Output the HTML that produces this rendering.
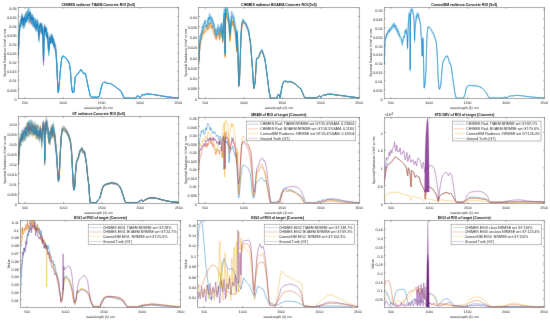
<!DOCTYPE html>
<html><head><meta charset="utf-8"><style>
html,body{margin:0;padding:0;background:#fff;}
svg{display:block;}
text{font-family:"Liberation Sans",sans-serif;fill:#000;}
.lg{fill:#222;}
.tk{text-rendering:geometricPrecision;fill:#111;}
</style></head><body>
<svg xmlns="http://www.w3.org/2000/svg" width="550" height="321" viewBox="0 0 550 321">
<defs><filter id="bl" x="0" y="0" width="1" height="1" color-interpolation-filters="sRGB"><feConvolveMatrix order="3" kernelMatrix="0 1 0 1 12 1 0 1 0" divisor="16.0" edgeMode="duplicate"/></filter></defs>
<rect width="550" height="321" fill="#fff"/>
<g filter="url(#bl)">
<rect width="550" height="321" fill="#fff"/>
<clipPath id="cp1"><rect x="18.2" y="7.5" width="160.20000000000002" height="90.9"/></clipPath>
<g clip-path="url(#cp1)" fill="none" stroke-linejoin="round">
<polyline points="18.30,58.50 18.80,38.90 19.30,29.50 20.00,29.30 20.50,24.10 21.00,21.90 21.50,19.00 22.00,16.70 22.50,25.00 23.00,26.20 23.50,18.40 24.00,24.10 24.40,19.00 24.80,26.00 25.30,20.10 25.80,15.90 26.40,20.40 27.00,10.80 27.40,10.80 27.90,20.70 28.30,20.30 28.90,15.30 29.50,11.90 30.00,18.60 30.50,20.60 31.00,19.00 31.50,24.40 32.00,23.20 32.50,21.90 32.90,21.60 33.40,24.90 33.80,25.30 34.40,26.40 35.00,24.70 35.40,27.30 35.90,30.90 36.30,23.20 36.80,25.40 37.30,23.80 38.00,29.50 38.50,27.30 38.90,34.70 39.60,32.00 40.00,29.40 40.50,24.90 41.00,25.80 41.50,24.30 42.00,30.20 42.60,26.90 43.10,40.40 43.50,64.10 43.90,41.00 44.40,25.30 44.90,26.40 45.30,30.50 45.80,30.50 46.20,36.50 46.70,36.10 47.30,32.60 47.80,37.70 48.20,47.70 48.70,53.10 49.20,45.10 49.80,38.30 50.30,40.60 50.90,39.80 51.50,39.00 52.00,36.40 52.50,39.60 52.90,41.70 53.40,41.80 53.80,46.80 54.30,47.90 54.80,44.30 55.30,43.90 55.80,48.30 56.50,59.80 57.20,74.00 57.80,88.30" stroke="#A2142F" stroke-width="0.35" opacity="0.7"/>
<polyline points="18.30,52.70 18.80,38.70 19.30,30.60 20.00,21.90 20.50,25.80 21.00,20.00 21.50,14.40 22.00,17.80 22.50,19.70 23.00,22.30 23.50,20.40 24.00,17.20 24.40,26.10 24.80,16.00 25.30,14.60 25.80,12.80 26.40,13.20 27.00,11.10 27.40,14.10 27.90,13.10 28.30,14.20 28.90,19.80 29.50,11.40 30.00,15.10 30.50,19.60 31.00,16.80 31.50,17.90 32.00,20.50 32.50,21.70 32.90,20.00 33.40,19.40 33.80,19.90 34.40,22.60 35.00,28.20 35.40,26.80 35.90,28.20 36.30,24.70 36.80,21.10 37.30,21.00 38.00,22.00 38.50,28.00 38.90,39.10 39.60,23.60 40.00,24.80 40.50,30.40 41.00,31.80 41.50,32.50 42.00,25.80 42.60,31.50 43.10,44.10 43.50,61.90 43.90,42.10 44.40,32.40 44.90,32.20 45.30,29.30 45.80,33.50 46.20,33.20 46.70,30.70 47.30,34.70 47.80,37.50 48.20,44.50 48.70,55.80 49.20,46.60 49.80,39.60 50.30,41.30 50.90,41.70 51.50,34.70 52.00,37.80 52.50,41.40 52.90,39.00 53.40,38.30 53.80,46.00 54.30,47.30 54.80,47.80 55.30,45.00 55.80,50.60 56.50,57.40 57.20,71.70 57.80,88.10" stroke="#77AC30" stroke-width="0.35" opacity="0.7"/>
<polyline points="18.30,58.90 18.80,39.00 19.30,30.60 20.00,28.00 20.50,28.60 21.00,21.30 21.50,23.40 22.00,20.70 22.50,24.00 23.00,21.00 23.50,28.50 24.00,27.10 24.40,18.30 24.80,17.80 25.30,23.30 25.80,16.00 26.40,21.20 27.00,12.50 27.40,14.40 27.90,17.80 28.30,19.30 28.90,23.40 29.50,14.20 30.00,24.30 30.50,15.20 31.00,14.40 31.50,19.80 32.00,25.40 32.50,18.70 32.90,17.90 33.40,21.30 33.80,23.80 34.40,26.20 35.00,27.50 35.40,29.70 35.90,25.60 36.30,28.90 36.80,30.70 37.30,30.90 38.00,26.00 38.50,35.40 38.90,39.10 39.60,31.40 40.00,25.40 40.50,24.60 41.00,34.30 41.50,33.10 42.00,32.50 42.60,26.70 43.10,40.60 43.50,64.60 43.90,45.30 44.40,28.80 44.90,27.90 45.30,27.80 45.80,34.20 46.20,29.80 46.70,33.30 47.30,36.70 47.80,33.90 48.20,48.30 48.70,52.90 49.20,50.80 49.80,43.80 50.30,37.30 50.90,43.00 51.50,38.10 52.00,39.20 52.50,38.10 52.90,43.10 53.40,44.20 53.80,45.90 54.30,42.60 54.80,46.20 55.30,45.10 55.80,47.20 56.50,62.10 57.20,73.10 57.80,89.10" stroke="#D95319" stroke-width="0.35" opacity="0.7"/>
<polyline points="18.30,58.90 18.80,44.90 19.30,28.20 20.00,23.40 20.50,20.10 21.00,22.80 21.50,19.00 22.00,16.30 22.50,21.40 23.00,19.70 23.50,24.80 24.00,27.50 24.40,24.00 24.80,15.60 25.30,18.30 25.80,13.20 26.40,17.30 27.00,18.30 27.40,11.70 27.90,10.70 28.30,20.10 28.90,13.30 29.50,21.40 30.00,21.30 30.50,12.40 31.00,23.00 31.50,21.50 32.00,14.20 32.50,21.70 32.90,25.40 33.40,25.20 33.80,24.80 34.40,20.30 35.00,28.20 35.40,20.40 35.90,26.80 36.30,21.50 36.80,21.30 37.30,27.10 38.00,28.40 38.50,31.90 38.90,41.10 39.60,26.30 40.00,32.00 40.50,31.90 41.00,22.70 41.50,30.40 42.00,28.10 42.60,30.30 43.10,43.00 43.50,65.10 43.90,38.10 44.40,24.10 44.90,24.90 45.30,34.10 45.80,33.70 46.20,30.60 46.70,28.90 47.30,34.60 47.80,34.90 48.20,43.60 48.70,54.70 49.20,46.00 49.80,41.10 50.30,41.40 50.90,42.60 51.50,40.70 52.00,34.40 52.50,40.00 52.90,39.20 53.40,40.30 53.80,39.30 54.30,44.90 54.80,47.10 55.30,48.40 55.80,50.00 56.50,57.00 57.20,71.20 57.80,88.50" stroke="#A2142F" stroke-width="0.35" opacity="0.7"/>
<polyline points="18.30,56.00 18.80,39.60 19.30,29.20 20.00,23.50 20.50,24.50 21.00,24.30 21.50,21.10 22.00,22.30 22.50,17.40 23.00,23.30 23.50,24.40 24.00,19.50 24.40,21.80 24.80,14.70 25.30,17.10 25.80,11.80 26.40,18.80 27.00,13.50 27.40,9.50 27.90,17.60 28.30,6.60 28.90,17.10 29.50,11.30 30.00,9.00 30.50,11.00 31.00,17.70 31.50,21.00 32.00,17.50 32.50,14.10 32.90,21.50 33.40,15.30 33.80,23.90 34.40,16.60 35.00,27.00 35.40,24.80 35.90,19.40 36.30,21.40 36.80,19.50 37.30,19.40 38.00,21.40 38.50,28.20 38.90,38.80 39.60,26.70 40.00,29.00 40.50,22.80 41.00,24.00 41.50,29.00 42.00,31.60 42.60,23.40 43.10,37.50 43.50,61.70 43.90,39.70 44.40,23.50 44.90,28.20 45.30,29.50 45.80,30.80 46.20,32.30 46.70,36.10 47.30,32.00 47.80,35.70 48.20,43.00 48.70,54.80 49.20,46.10 49.80,41.10 50.30,40.90 50.90,39.60 51.50,34.40 52.00,37.90 52.50,38.80 52.90,38.10 53.40,42.20 53.80,45.30 54.30,42.50 54.80,44.30 55.30,44.70 55.80,47.80 56.50,56.90 57.20,71.10 57.80,88.40 58.30,92.50 59.00,88.00 59.40,82.60 59.80,76.30 60.30,70.20 60.80,65.00 61.80,57.10 62.70,55.80 64.00,56.40 65.00,57.50 66.00,58.10 67.00,59.30 68.00,60.60 68.80,62.80 69.50,64.20 70.50,71.20 71.20,82.00 72.00,89.90 72.80,92.90 74.00,91.50 75.20,76.80 76.00,75.80 76.80,74.90 77.90,73.40 79.00,72.00 80.00,70.60 81.00,69.30 82.30,71.50 83.00,72.70 83.80,74.00 85.20,72.90 86.50,78.20 87.80,85.00 89.20,90.90 90.00,95.00 90.80,96.20 91.50,97.50 92.20,97.40 93.00,97.20 93.90,97.20 94.90,97.20 95.80,97.20 96.80,97.20 97.70,97.20 98.50,96.80 99.30,96.50 100.10,92.80 100.90,88.90 101.70,86.10 102.50,83.40 103.30,82.60 104.10,81.80 105.20,82.30 106.40,82.80 107.60,83.20 108.80,83.40 109.60,83.40 110.40,83.50 111.60,84.20 112.80,85.00 114.00,85.70 115.20,86.50 116.20,87.40 117.30,88.10 118.30,89.00 119.50,89.80 120.70,90.60 121.50,92.10 122.30,93.70 123.10,95.70 123.90,97.70 124.60,98.20 125.60,98.20 126.60,98.20 127.60,98.20 128.60,98.20 129.60,98.20 130.70,98.20 131.70,98.20 132.70,98.20 133.70,98.20 134.70,98.20 135.70,98.20 136.50,96.90 137.30,96.20 138.10,95.60 138.90,96.60 139.70,97.70 140.50,96.90 141.30,96.10 142.40,94.00 143.60,95.30 144.80,94.60 146.00,94.00 147.20,94.00 148.40,94.00 149.30,94.10 150.30,94.20 151.20,94.30 152.20,94.40 153.10,94.50 154.10,94.70 155.00,94.80 156.00,95.00 156.90,95.10 157.90,95.30 158.80,95.50 159.80,95.60 160.70,95.80 161.70,95.90 162.60,96.10 163.60,96.30 164.50,96.40 165.50,96.60 166.40,96.70 167.40,96.90 168.30,97.00 169.30,97.10 170.20,97.20 171.20,97.30 172.10,97.40 173.20,97.60 174.20,97.70 175.30,97.90 176.30,98.00 177.40,98.00 178.40,98.10" stroke="#4DBEEE" stroke-width="0.3" opacity="0.8"/>
<polyline points="18.30,55.60 18.80,44.20 19.30,31.80 20.00,23.90 20.50,28.40 21.00,27.40 21.50,21.70 22.00,22.00 22.50,24.40 23.00,28.80 23.50,25.70 24.00,26.40 24.40,25.30 24.80,18.80 25.30,20.90 25.80,18.20 26.40,15.10 27.00,15.60 27.40,18.20 27.90,14.70 28.30,15.50 28.90,16.60 29.50,18.00 30.00,20.80 30.50,18.30 31.00,19.10 31.50,16.40 32.00,19.30 32.50,19.70 32.90,21.00 33.40,20.80 33.80,23.50 34.40,27.30 35.00,29.10 35.40,25.20 35.90,24.20 36.30,28.50 36.80,31.90 37.30,24.00 38.00,28.60 38.50,34.40 38.90,43.70 39.60,30.20 40.00,27.40 40.50,30.20 41.00,31.60 41.50,29.20 42.00,36.30 42.60,32.20 43.10,39.90 43.50,63.20 43.90,44.30 44.40,29.40 44.90,31.00 45.30,35.50 45.80,36.20 46.20,30.40 46.70,37.80 47.30,41.10 47.80,35.90 48.20,46.60 48.70,55.60 49.20,48.10 49.80,39.60 50.30,44.20 50.90,39.80 51.50,39.10 52.00,38.00 52.50,43.60 52.90,41.70 53.40,45.70 53.80,44.30 54.30,48.60 54.80,45.30 55.30,46.30 55.80,51.70 56.50,62.00 57.20,71.90 57.80,88.30 58.30,92.60 59.00,89.30 59.40,82.10 59.80,77.00 60.30,71.80 60.80,66.80 61.80,58.50 62.70,56.20 64.00,57.10 65.00,57.50 66.00,58.40 67.00,59.40 68.00,61.20 68.80,62.70 69.50,64.50 70.50,71.60 71.20,82.10 72.00,90.00 72.80,93.10 74.00,91.60 75.20,77.00 76.00,76.20 76.80,75.00 77.90,73.90 79.00,72.30 80.00,70.90 81.00,69.70 82.30,71.80 83.00,72.90 83.80,74.10 85.20,73.30 86.50,78.60 87.80,85.20 89.20,91.00 90.00,95.00 90.80,96.30 91.50,97.50 92.20,97.40 93.00,97.20 93.90,97.20 94.90,97.20 95.80,97.20 96.80,97.20 97.70,97.20 98.50,96.90 99.30,96.50 100.10,92.80 100.90,89.00 101.70,86.30 102.50,83.60 103.30,82.80 104.10,81.90 105.20,82.50 106.40,83.00 107.60,83.40 108.80,83.50 109.60,83.60 110.40,83.50 111.60,84.20 112.80,85.00 114.00,85.90 115.20,86.60 116.20,87.40 117.30,88.30 118.30,89.10 119.50,89.80 120.70,90.60 121.50,92.20 122.30,93.70 123.10,95.70 123.90,97.70 124.60,98.20 125.60,98.20 126.60,98.20 127.60,98.20 128.60,98.20 129.60,98.20 130.70,98.20 131.70,98.20 132.70,98.20 133.70,98.20 134.70,98.20 135.70,98.20 136.50,96.90 137.30,96.30 138.10,95.60 138.90,96.70 139.70,97.70 140.50,96.90 141.30,96.10 142.40,94.00 143.60,95.30 144.80,94.60 146.00,94.00 147.20,94.00 148.40,94.00 149.30,94.10 150.30,94.20 151.20,94.30 152.20,94.40 153.10,94.50 154.10,94.70 155.00,94.80 156.00,95.00 156.90,95.20 157.90,95.30 158.80,95.50 159.80,95.60 160.70,95.80 161.70,96.00 162.60,96.10 163.60,96.30 164.50,96.40 165.50,96.60 166.40,96.70 167.40,96.90 168.30,97.00 169.30,97.10 170.20,97.20 171.20,97.30 172.10,97.40 173.20,97.60 174.20,97.70 175.30,97.90 176.30,98.00 177.40,98.00 178.40,98.10" stroke="#4DBEEE" stroke-width="0.3" opacity="0.8"/>
<polyline points="18.30,56.00 18.80,36.30 19.30,34.70 20.00,24.50 20.50,22.70 21.00,23.50 21.50,19.80 22.00,15.60 22.50,14.10 23.00,24.20 23.50,19.90 24.00,25.80 24.40,16.60 24.80,23.10 25.30,22.70 25.80,17.70 26.40,12.40 27.00,16.10 27.40,17.90 27.90,9.40 28.30,8.70 28.90,9.40 29.50,17.20 30.00,16.00 30.50,18.20 31.00,15.40 31.50,18.90 32.00,19.90 32.50,16.00 32.90,14.50 33.40,19.10 33.80,24.70 34.40,19.70 35.00,22.90 35.40,18.00 35.90,21.70 36.30,21.40 36.80,22.00 37.30,23.00 38.00,20.20 38.50,27.20 38.90,38.10 39.60,29.80 40.00,27.20 40.50,25.20 41.00,30.20 41.50,28.40 42.00,26.90 42.60,32.90 43.10,37.70 43.50,61.40 43.90,41.80 44.40,29.40 44.90,29.60 45.30,30.60 45.80,27.20 46.20,30.30 46.70,31.80 47.30,36.90 47.80,31.60 48.20,45.10 48.70,53.40 49.20,48.50 49.80,34.20 50.30,38.20 50.90,34.30 51.50,33.90 52.00,33.30 52.50,35.60 52.90,35.80 53.40,36.80 53.80,39.20 54.30,45.80 54.80,44.40 55.30,45.50 55.80,44.10 56.50,56.60 57.20,71.40 57.80,87.70 58.30,92.60 59.00,87.40 59.40,81.80 59.80,76.40 60.30,70.40 60.80,65.10 61.80,57.50 62.70,55.90 64.00,56.80 65.00,57.10 66.00,57.80 67.00,59.10 68.00,61.00 68.80,62.70 69.50,64.20 70.50,71.60 71.20,82.00 72.00,90.00 72.80,93.00 74.00,91.50 75.20,77.00 76.00,75.90 76.80,74.90 77.90,73.70 79.00,72.40 80.00,70.60 81.00,69.30 82.30,71.50 83.00,72.50 83.80,74.10 85.20,73.00 86.50,78.20 87.80,84.90 89.20,91.00 90.00,95.00 90.80,96.20 91.50,97.50 92.20,97.30 93.00,97.20 93.90,97.20 94.90,97.20 95.80,97.20 96.80,97.20 97.70,97.20 98.50,96.80 99.30,96.50 100.10,92.80 100.90,89.00 101.70,86.20 102.50,83.40 103.30,82.60 104.10,81.80 105.20,82.40 106.40,82.80 107.60,83.10 108.80,83.40 109.60,83.60 110.40,83.40 111.60,84.20 112.80,85.00 114.00,85.80 115.20,86.50 116.20,87.40 117.30,88.20 118.30,89.00 119.50,89.70 120.70,90.50 121.50,92.10 122.30,93.70 123.10,95.70 123.90,97.70 124.60,98.20 125.60,98.20 126.60,98.20 127.60,98.20 128.60,98.20 129.60,98.20 130.70,98.20 131.70,98.20 132.70,98.20 133.70,98.20 134.70,98.20 135.70,98.20 136.50,96.90 137.30,96.20 138.10,95.60 138.90,96.60 139.70,97.70 140.50,96.90 141.30,96.10 142.40,94.00 143.60,95.30 144.80,94.60 146.00,94.00 147.20,94.00 148.40,94.00 149.30,94.10 150.30,94.20 151.20,94.30 152.20,94.40 153.10,94.50 154.10,94.60 155.00,94.80 156.00,95.00 156.90,95.10 157.90,95.30 158.80,95.50 159.80,95.60 160.70,95.80 161.70,95.90 162.60,96.10 163.60,96.20 164.50,96.40 165.50,96.60 166.40,96.70 167.40,96.90 168.30,97.00 169.30,97.10 170.20,97.20 171.20,97.30 172.10,97.40 173.20,97.60 174.20,97.70 175.30,97.90 176.30,98.00 177.40,98.00 178.40,98.10" stroke="#4DBEEE" stroke-width="0.3" opacity="0.8"/>
<polyline points="18.30,54.60 18.80,45.40 19.30,38.30 20.00,31.10 20.50,26.20 21.00,18.30 21.50,23.80 22.00,19.40 22.50,18.70 23.00,27.50 23.50,22.80 24.00,19.90 24.40,23.30 24.80,22.00 25.30,23.20 25.80,15.40 26.40,13.90 27.00,22.90 27.40,17.10 27.90,18.20 28.30,14.70 28.90,22.50 29.50,21.90 30.00,21.90 30.50,19.60 31.00,16.80 31.50,16.90 32.00,18.90 32.50,21.20 32.90,28.10 33.40,25.20 33.80,22.50 34.40,27.50 35.00,26.10 35.40,22.70 35.90,31.80 36.30,24.90 36.80,32.00 37.30,28.30 38.00,23.90 38.50,36.60 38.90,39.30 39.60,30.80 40.00,25.60 40.50,24.00 41.00,31.90 41.50,30.50 42.00,27.20 42.60,31.40 43.10,45.50 43.50,62.70 43.90,44.50 44.40,31.10 44.90,36.50 45.30,27.60 45.80,31.50 46.20,29.70 46.70,31.00 47.30,39.00 47.80,38.10 48.20,47.00 48.70,52.90 49.20,45.40 49.80,43.60 50.30,43.00 50.90,39.10 51.50,41.40 52.00,43.60 52.50,43.90 52.90,41.80 53.40,42.40 53.80,40.80 54.30,45.50 54.80,46.40 55.30,51.30 55.80,50.80 56.50,61.50 57.20,72.70 57.80,88.90 58.30,93.10 59.00,88.80 59.40,83.00 59.80,77.70 60.30,71.60 60.80,66.80 61.80,58.30 62.70,56.20 64.00,56.80 65.00,57.80 66.00,58.30 67.00,59.50 68.00,61.10 68.80,62.70 69.50,64.40 70.50,71.70 71.20,82.10 72.00,90.10 72.80,93.10 74.00,91.60 75.20,77.20 76.00,76.20 76.80,75.10 77.90,73.70 79.00,72.40 80.00,70.90 81.00,69.70 82.30,71.70 83.00,72.80 83.80,73.90 85.20,73.10 86.50,78.60 87.80,85.20 89.20,91.10 90.00,95.00 90.80,96.30 91.50,97.50 92.20,97.40 93.00,97.20 93.90,97.20 94.90,97.20 95.80,97.20 96.80,97.20 97.70,97.20 98.50,96.90 99.30,96.50 100.10,92.70 100.90,89.00 101.70,86.40 102.50,83.70 103.30,82.70 104.10,82.10 105.20,82.60 106.40,83.10 107.60,83.40 108.80,83.70 109.60,83.60 110.40,83.60 111.60,84.20 112.80,85.00 114.00,85.90 115.20,86.60 116.20,87.50 117.30,88.20 118.30,89.10 119.50,89.80 120.70,90.60 121.50,92.10 122.30,93.70 123.10,95.70 123.90,97.70 124.60,98.20 125.60,98.20 126.60,98.20 127.60,98.20 128.60,98.20 129.60,98.20 130.70,98.20 131.70,98.20 132.70,98.20 133.70,98.20 134.70,98.20 135.70,98.20 136.50,96.90 137.30,96.30 138.10,95.60 138.90,96.70 139.70,97.70 140.50,96.90 141.30,96.10 142.40,94.00 143.60,95.30 144.80,94.70 146.00,94.00 147.20,94.00 148.40,94.00 149.30,94.10 150.30,94.20 151.20,94.30 152.20,94.40 153.10,94.50 154.10,94.70 155.00,94.80 156.00,95.00 156.90,95.20 157.90,95.30 158.80,95.50 159.80,95.60 160.70,95.80 161.70,95.90 162.60,96.10 163.60,96.30 164.50,96.40 165.50,96.60 166.40,96.70 167.40,96.90 168.30,97.00 169.30,97.10 170.20,97.20 171.20,97.30 172.10,97.40 173.20,97.60 174.20,97.70 175.30,97.90 176.30,98.00 177.40,98.00 178.40,98.10" stroke="#4DBEEE" stroke-width="0.3" opacity="0.8"/>
<polyline points="18.30,56.20 18.80,40.10 19.30,27.00 20.00,25.70 20.50,19.50 21.00,18.70 21.50,19.90 22.00,13.40 22.50,19.80 23.00,18.10 23.50,25.50 24.00,22.10 24.40,25.40 24.80,16.50 25.30,23.50 25.80,22.10 26.40,20.10 27.00,18.60 27.40,13.80 27.90,15.10 28.30,15.60 28.90,8.30 29.50,10.50 30.00,13.70 30.50,12.10 31.00,12.80 31.50,20.20 32.00,15.00 32.50,22.50 32.90,19.30 33.40,22.00 33.80,24.50 34.40,18.80 35.00,18.30 35.40,25.60 35.90,20.40 36.30,26.80 36.80,22.80 37.30,18.50 38.00,21.90 38.50,34.90 38.90,37.20 39.60,28.00 40.00,28.30 40.50,22.50 41.00,27.10 41.50,25.20 42.00,26.60 42.60,28.50 43.10,44.20 43.50,61.50 43.90,37.40 44.40,31.00 44.90,27.00 45.30,29.30 45.80,31.50 46.20,28.70 46.70,27.90 47.30,38.30 47.80,32.10 48.20,44.90 48.70,50.30 49.20,48.00 49.80,36.80 50.30,41.80 50.90,39.50 51.50,33.80 52.00,36.30 52.50,36.20 52.90,39.90 53.40,40.80 53.80,42.00 54.30,41.10 54.80,43.10 55.30,48.60 55.80,48.30 56.50,58.20 57.20,72.00 57.80,87.50 58.30,92.30 59.00,88.60 59.40,82.40 59.80,77.50 60.30,70.70 60.80,65.70 61.80,57.80 62.70,55.60 64.00,56.50 65.00,57.00 66.00,58.00 67.00,59.60 68.00,60.60 68.80,62.50 69.50,64.20 70.50,71.60 71.20,82.00 72.00,90.00 72.80,93.00 74.00,91.40 75.20,76.90 76.00,76.00 76.80,75.10 77.90,73.50 79.00,72.00 80.00,70.60 81.00,69.30 82.30,71.50 83.00,72.80 83.80,73.80 85.20,72.70 86.50,78.20 87.80,85.00 89.20,91.00 90.00,95.00 90.80,96.20 91.50,97.50 92.20,97.30 93.00,97.20 93.90,97.20 94.90,97.20 95.80,97.20 96.80,97.20 97.70,97.20 98.50,96.80 99.30,96.50 100.10,92.70 100.90,89.00 101.70,86.20 102.50,83.40 103.30,82.70 104.10,81.70 105.20,82.50 106.40,83.10 107.60,83.10 108.80,83.50 109.60,83.50 110.40,83.50 111.60,84.20 112.80,84.90 114.00,85.70 115.20,86.60 116.20,87.40 117.30,88.20 118.30,89.00 119.50,89.80 120.70,90.60 121.50,92.10 122.30,93.70 123.10,95.70 123.90,97.70 124.60,98.20 125.60,98.20 126.60,98.20 127.60,98.20 128.60,98.20 129.60,98.20 130.70,98.20 131.70,98.20 132.70,98.20 133.70,98.20 134.70,98.20 135.70,98.20 136.50,96.90 137.30,96.30 138.10,95.60 138.90,96.70 139.70,97.70 140.50,96.90 141.30,96.10 142.40,94.00 143.60,95.30 144.80,94.60 146.00,94.00 147.20,94.00 148.40,94.00 149.30,94.10 150.30,94.20 151.20,94.30 152.20,94.40 153.10,94.50 154.10,94.60 155.00,94.80 156.00,95.00 156.90,95.10 157.90,95.30 158.80,95.40 159.80,95.60 160.70,95.80 161.70,95.90 162.60,96.10 163.60,96.20 164.50,96.40 165.50,96.60 166.40,96.70 167.40,96.90 168.30,97.00 169.30,97.10 170.20,97.20 171.20,97.30 172.10,97.40 173.20,97.60 174.20,97.70 175.30,97.90 176.30,98.00 177.40,98.00 178.40,98.10" stroke="#0072BD" stroke-width="0.3" opacity="0.8"/>
<polyline points="18.30,55.60 18.80,44.90 19.30,37.70 20.00,24.80 20.50,27.60 21.00,19.50 21.50,17.10 22.00,20.10 22.50,26.50 23.00,18.50 23.50,22.20 24.00,27.60 24.40,26.70 24.80,21.90 25.30,25.40 25.80,15.40 26.40,16.50 27.00,14.00 27.40,18.70 27.90,11.70 28.30,20.70 28.90,14.90 29.50,21.60 30.00,24.70 30.50,23.40 31.00,23.20 31.50,17.60 32.00,23.10 32.50,23.00 32.90,21.90 33.40,26.10 33.80,22.40 34.40,23.00 35.00,21.30 35.40,26.60 35.90,23.70 36.30,23.40 36.80,24.70 37.30,27.60 38.00,30.10 38.50,37.30 38.90,36.20 39.60,33.40 40.00,28.50 40.50,29.10 41.00,34.00 41.50,33.00 42.00,27.60 42.60,31.10 43.10,39.50 43.50,61.70 43.90,46.20 44.40,28.80 44.90,35.80 45.30,32.80 45.80,33.30 46.20,29.00 46.70,34.10 47.30,39.40 47.80,38.10 48.20,46.10 48.70,56.30 49.20,48.70 49.80,37.80 50.30,36.70 50.90,38.20 51.50,44.00 52.00,36.60 52.50,41.40 52.90,39.20 53.40,45.60 53.80,47.00 54.30,42.30 54.80,48.60 55.30,51.80 55.80,49.90 56.50,57.20 57.20,72.10 57.80,88.70 58.30,92.40 59.00,88.10 59.40,82.00 59.80,76.70 60.30,71.50 60.80,66.30 61.80,58.40 62.70,55.90 64.00,56.80 65.00,57.20 66.00,58.10 67.00,59.70 68.00,61.10 68.80,63.00 69.50,64.80 70.50,71.50 71.20,82.00 72.00,90.10 72.80,93.00 74.00,91.50 75.20,77.00 76.00,76.10 76.80,74.90 77.90,73.60 79.00,72.30 80.00,71.20 81.00,69.60 82.30,71.80 83.00,72.70 83.80,74.10 85.20,73.10 86.50,78.40 87.80,85.00 89.20,91.00 90.00,95.00 90.80,96.30 91.50,97.50 92.20,97.40 93.00,97.20 93.90,97.20 94.90,97.20 95.80,97.20 96.80,97.20 97.70,97.20 98.50,96.80 99.30,96.50 100.10,92.80 100.90,89.10 101.70,86.30 102.50,83.50 103.30,82.60 104.10,81.90 105.20,82.50 106.40,83.20 107.60,83.40 108.80,83.50 109.60,83.50 110.40,83.60 111.60,84.20 112.80,85.00 114.00,85.80 115.20,86.60 116.20,87.50 117.30,88.30 118.30,89.00 119.50,89.90 120.70,90.70 121.50,92.20 122.30,93.70 123.10,95.70 123.90,97.70 124.60,98.20 125.60,98.20 126.60,98.20 127.60,98.20 128.60,98.20 129.60,98.20 130.70,98.20 131.70,98.20 132.70,98.20 133.70,98.20 134.70,98.20 135.70,98.20 136.50,96.90 137.30,96.30 138.10,95.60 138.90,96.70 139.70,97.70 140.50,96.90 141.30,96.10 142.40,94.00 143.60,95.30 144.80,94.70 146.00,94.00 147.20,94.00 148.40,94.00 149.30,94.10 150.30,94.20 151.20,94.30 152.20,94.40 153.10,94.50 154.10,94.70 155.00,94.80 156.00,95.00 156.90,95.10 157.90,95.30 158.80,95.40 159.80,95.60 160.70,95.80 161.70,95.90 162.60,96.10 163.60,96.20 164.50,96.40 165.50,96.60 166.40,96.70 167.40,96.90 168.30,97.00 169.30,97.10 170.20,97.20 171.20,97.30 172.10,97.40 173.20,97.60 174.20,97.70 175.30,97.90 176.30,98.00 177.40,98.00 178.40,98.10" stroke="#4DBEEE" stroke-width="0.3" opacity="0.8"/>
<polyline points="18.30,57.60 18.80,43.70 19.30,29.50 20.00,27.90 20.50,18.50 21.00,21.20 21.50,20.00 22.00,24.40 22.50,24.80 23.00,24.40 23.50,19.80 24.00,20.60 24.40,15.90 24.80,20.20 25.30,16.10 25.80,19.30 26.40,21.20 27.00,16.00 27.40,12.10 27.90,10.40 28.30,8.10 28.90,10.80 29.50,15.30 30.00,15.60 30.50,16.30 31.00,17.40 31.50,15.90 32.00,18.20 32.50,16.30 32.90,21.20 33.40,21.30 33.80,17.80 34.40,20.50 35.00,23.10 35.40,23.50 35.90,21.80 36.30,24.70 36.80,27.60 37.30,26.40 38.00,24.20 38.50,35.60 38.90,37.50 39.60,23.30 40.00,29.50 40.50,26.90 41.00,25.00 41.50,23.50 42.00,26.60 42.60,28.00 43.10,42.00 43.50,63.00 43.90,39.90 44.40,29.70 44.90,26.20 45.30,34.60 45.80,28.10 46.20,28.90 46.70,34.70 47.30,38.90 47.80,37.60 48.20,43.80 48.70,51.00 49.20,43.20 49.80,41.60 50.30,42.40 50.90,41.80 51.50,34.20 52.00,36.90 52.50,42.20 52.90,38.50 53.40,37.30 53.80,41.50 54.30,45.80 54.80,41.70 55.30,45.30 55.80,50.60 56.50,57.20 57.20,72.50 57.80,88.10 58.30,92.70 59.00,88.50 59.40,82.50 59.80,76.30 60.30,70.70 60.80,65.50 61.80,58.00 62.70,56.10 64.00,56.30 65.00,57.20 66.00,57.90 67.00,59.30 68.00,61.10 68.80,62.70 69.50,64.60 70.50,71.60 71.20,81.80 72.00,90.00 72.80,93.00 74.00,91.50 75.20,76.90 76.00,76.00 76.80,75.00 77.90,73.50 79.00,72.40 80.00,70.90 81.00,69.40 82.30,71.30 83.00,72.70 83.80,74.00 85.20,72.90 86.50,78.30 87.80,85.00 89.20,91.00 90.00,95.00 90.80,96.30 91.50,97.50 92.20,97.40 93.00,97.20 93.90,97.20 94.90,97.20 95.80,97.20 96.80,97.20 97.70,97.20 98.50,96.90 99.30,96.50 100.10,92.80 100.90,89.00 101.70,86.20 102.50,83.50 103.30,82.80 104.10,81.80 105.20,82.30 106.40,83.10 107.60,83.30 108.80,83.60 109.60,83.40 110.40,83.40 111.60,84.30 112.80,85.10 114.00,85.80 115.20,86.60 116.20,87.50 117.30,88.30 118.30,89.00 119.50,89.80 120.70,90.60 121.50,92.10 122.30,93.70 123.10,95.70 123.90,97.70 124.60,98.20 125.60,98.20 126.60,98.20 127.60,98.20 128.60,98.20 129.60,98.20 130.70,98.20 131.70,98.20 132.70,98.20 133.70,98.20 134.70,98.20 135.70,98.20 136.50,96.90 137.30,96.30 138.10,95.60 138.90,96.60 139.70,97.70 140.50,96.90 141.30,96.10 142.40,94.00 143.60,95.30 144.80,94.70 146.00,94.00 147.20,94.00 148.40,94.00 149.30,94.10 150.30,94.20 151.20,94.30 152.20,94.40 153.10,94.50 154.10,94.60 155.00,94.80 156.00,95.00 156.90,95.10 157.90,95.30 158.80,95.50 159.80,95.60 160.70,95.80 161.70,95.90 162.60,96.10 163.60,96.30 164.50,96.40 165.50,96.60 166.40,96.70 167.40,96.90 168.30,97.00 169.30,97.10 170.20,97.20 171.20,97.30 172.10,97.40 173.20,97.60 174.20,97.70 175.30,97.90 176.30,98.00 177.40,98.00 178.40,98.10" stroke="#4DBEEE" stroke-width="0.3" opacity="0.8"/>
<polyline points="18.30,54.50 18.80,42.20 19.30,28.80 20.00,23.10 20.50,22.20 21.00,23.80 21.50,22.10 22.00,22.60 22.50,22.50 23.00,22.20 23.50,28.40 24.00,28.30 24.40,26.50 24.80,20.60 25.30,16.20 25.80,17.00 26.40,22.40 27.00,17.60 27.40,15.10 27.90,20.50 28.30,20.70 28.90,15.50 29.50,21.10 30.00,16.50 30.50,22.20 31.00,15.00 31.50,22.10 32.00,21.90 32.50,21.60 32.90,18.20 33.40,18.30 33.80,19.50 34.40,22.30 35.00,29.80 35.40,29.30 35.90,26.40 36.30,22.60 36.80,24.50 37.30,29.40 38.00,28.60 38.50,28.40 38.90,38.60 39.60,25.30 40.00,24.90 40.50,25.20 41.00,27.50 41.50,27.90 42.00,31.80 42.60,34.70 43.10,38.80 43.50,65.90 43.90,44.30 44.40,28.90 44.90,26.10 45.30,34.30 45.80,34.60 46.20,29.50 46.70,36.10 47.30,37.00 47.80,38.90 48.20,49.30 48.70,51.10 49.20,45.80 49.80,44.70 50.30,43.70 50.90,43.20 51.50,40.90 52.00,36.20 52.50,43.60 52.90,43.80 53.40,44.00 53.80,43.70 54.30,41.90 54.80,46.20 55.30,45.10 55.80,49.20 56.50,60.10 57.20,71.70 57.80,88.30 58.30,92.80 59.00,88.40 59.40,83.00 59.80,77.20 60.30,71.50 60.80,66.40 61.80,58.10 62.70,56.40 64.00,57.00 65.00,57.60 66.00,58.20 67.00,59.90 68.00,61.20 68.80,62.80 69.50,64.50 70.50,71.40 71.20,82.10 72.00,90.00 72.80,93.00 74.00,91.50 75.20,77.00 76.00,75.90 76.80,75.00 77.90,73.50 79.00,72.50 80.00,71.00 81.00,69.60 82.30,71.70 83.00,73.00 83.80,74.10 85.20,73.00 86.50,78.60 87.80,85.10 89.20,91.00 90.00,95.00 90.80,96.30 91.50,97.50 92.20,97.40 93.00,97.20 93.90,97.20 94.90,97.20 95.80,97.20 96.80,97.20 97.70,97.20 98.50,96.80 99.30,96.50 100.10,92.80 100.90,89.10 101.70,86.30 102.50,83.60 103.30,82.60 104.10,82.00 105.20,82.50 106.40,83.00 107.60,83.20 108.80,83.60 109.60,83.50 110.40,83.60 111.60,84.30 112.80,84.90 114.00,85.90 115.20,86.60 116.20,87.40 117.30,88.20 118.30,89.00 119.50,89.80 120.70,90.60 121.50,92.20 122.30,93.70 123.10,95.70 123.90,97.70 124.60,98.20 125.60,98.20 126.60,98.20 127.60,98.20 128.60,98.20 129.60,98.20 130.70,98.20 131.70,98.20 132.70,98.20 133.70,98.20 134.70,98.20 135.70,98.20 136.50,96.90 137.30,96.20 138.10,95.60 138.90,96.60 139.70,97.70 140.50,96.90 141.30,96.10 142.40,94.00 143.60,95.30 144.80,94.60 146.00,94.00 147.20,94.00 148.40,94.00 149.30,94.10 150.30,94.20 151.20,94.30 152.20,94.40 153.10,94.50 154.10,94.70 155.00,94.90 156.00,95.00 156.90,95.20 157.90,95.30 158.80,95.50 159.80,95.60 160.70,95.80 161.70,95.90 162.60,96.10 163.60,96.30 164.50,96.40 165.50,96.60 166.40,96.80 167.40,96.90 168.30,97.00 169.30,97.10 170.20,97.20 171.20,97.30 172.10,97.40 173.20,97.60 174.20,97.70 175.30,97.90 176.30,98.00 177.40,98.00 178.40,98.10" stroke="#4DBEEE" stroke-width="0.3" opacity="0.8"/>
<polyline points="18.30,55.30 18.80,43.00 19.30,31.10 20.00,27.00 20.50,24.00 21.00,20.30 21.50,23.90 22.00,18.10 22.50,14.80 23.00,19.40 23.50,18.50 24.00,25.20 24.40,25.20 24.80,25.50 25.30,13.50 25.80,22.40 26.40,18.20 27.00,13.70 27.40,12.20 27.90,13.10 28.30,14.80 28.90,11.50 29.50,17.20 30.00,12.70 30.50,22.00 31.00,15.10 31.50,23.10 32.00,20.90 32.50,21.30 32.90,24.60 33.40,22.10 33.80,18.00 34.40,27.90 35.00,27.10 35.40,19.60 35.90,26.00 36.30,27.40 36.80,21.20 37.30,21.90 38.00,29.20 38.50,30.70 38.90,40.30 39.60,24.90 40.00,26.70 40.50,23.70 41.00,31.90 41.50,23.90 42.00,31.60 42.60,26.20 43.10,41.90 43.50,60.90 43.90,44.70 44.40,33.20 44.90,29.80 45.30,26.00 45.80,31.20 46.20,31.60 46.70,36.40 47.30,34.50 47.80,37.20 48.20,41.80 48.70,51.50 49.20,46.40 49.80,42.40 50.30,42.20 50.90,34.90 51.50,37.80 52.00,40.80 52.50,36.80 52.90,42.80 53.40,41.80 53.80,39.70 54.30,47.10 54.80,48.60 55.30,50.40 55.80,51.10 56.50,59.70 57.20,73.30 57.80,88.60 58.30,93.00 59.00,88.30 59.40,82.50 59.80,75.80 60.30,70.90 60.80,65.80 61.80,58.00 62.70,55.80 64.00,56.90 65.00,57.30 66.00,58.00 67.00,59.50 68.00,60.90 68.80,62.70 69.50,64.60 70.50,71.30 71.20,81.90 72.00,90.00 72.80,93.00 74.00,91.50 75.20,77.00 76.00,75.90 76.80,75.00 77.90,73.60 79.00,72.30 80.00,70.90 81.00,69.60 82.30,71.60 83.00,72.80 83.80,73.90 85.20,73.10 86.50,78.30 87.80,84.90 89.20,91.00 90.00,95.00 90.80,96.20 91.50,97.50 92.20,97.40 93.00,97.20 93.90,97.20 94.90,97.20 95.80,97.20 96.80,97.20 97.70,97.20 98.50,96.90 99.30,96.50 100.10,92.70 100.90,89.00 101.70,86.30 102.50,83.50 103.30,82.60 104.10,81.80 105.20,82.40 106.40,82.90 107.60,83.20 108.80,83.60 109.60,83.60 110.40,83.50 111.60,84.30 112.80,84.90 114.00,85.80 115.20,86.60 116.20,87.30 117.30,88.30 118.30,89.00 119.50,89.80 120.70,90.60 121.50,92.10 122.30,93.70 123.10,95.70 123.90,97.70 124.60,98.20 125.60,98.20 126.60,98.20 127.60,98.20 128.60,98.20 129.60,98.20 130.70,98.20 131.70,98.20 132.70,98.20 133.70,98.20 134.70,98.20 135.70,98.20 136.50,96.90 137.30,96.30 138.10,95.60 138.90,96.70 139.70,97.70 140.50,96.90 141.30,96.10 142.40,94.00 143.60,95.30 144.80,94.70 146.00,94.00 147.20,94.00 148.40,94.00 149.30,94.10 150.30,94.20 151.20,94.30 152.20,94.40 153.10,94.50 154.10,94.70 155.00,94.80 156.00,95.00 156.90,95.10 157.90,95.30 158.80,95.50 159.80,95.60 160.70,95.80 161.70,95.90 162.60,96.10 163.60,96.20 164.50,96.40 165.50,96.60 166.40,96.80 167.40,96.90 168.30,97.00 169.30,97.10 170.20,97.20 171.20,97.30 172.10,97.40 173.20,97.60 174.20,97.70 175.30,97.90 176.30,98.00 177.40,98.00 178.40,98.10" stroke="#0072BD" stroke-width="0.3" opacity="0.8"/>
<polyline points="18.30,55.50 18.80,45.00 19.30,33.70 20.00,28.70 20.50,21.80 21.00,22.80 21.50,22.60 22.00,19.90 22.50,24.20 23.00,26.20 23.50,25.50 24.00,29.00 24.40,20.50 24.80,21.40 25.30,18.60 25.80,18.20 26.40,23.00 27.00,12.80 27.40,12.30 27.90,21.50 28.30,16.00 28.90,12.90 29.50,18.50 30.00,13.40 30.50,15.50 31.00,16.80 31.50,14.80 32.00,17.40 32.50,20.70 32.90,27.10 33.40,22.90 33.80,20.80 34.40,23.50 35.00,23.80 35.40,27.10 35.90,22.80 36.30,29.80 36.80,25.00 37.30,26.40 38.00,30.30 38.50,37.10 38.90,41.50 39.60,30.80 40.00,28.40 40.50,32.50 41.00,32.80 41.50,26.10 42.00,25.00 42.60,31.20 43.10,42.30 43.50,62.80 43.90,45.40 44.40,29.20 44.90,28.60 45.30,26.70 45.80,30.40 46.20,32.00 46.70,34.90 47.30,31.90 47.80,37.10 48.20,45.60 48.70,52.20 49.20,47.40 49.80,43.80 50.30,39.20 50.90,36.60 51.50,40.60 52.00,42.70 52.50,43.50 52.90,37.80 53.40,45.30 53.80,42.20 54.30,47.90 54.80,46.10 55.30,44.70 55.80,51.10 56.50,60.50 57.20,72.50 57.80,88.30 58.30,92.70 59.00,88.50 59.40,83.60 59.80,76.50 60.30,71.20 60.80,66.10 61.80,58.20 62.70,56.20 64.00,56.40 65.00,57.50 66.00,57.70 67.00,59.50 68.00,61.00 68.80,62.90 69.50,64.70 70.50,71.40 71.20,82.00 72.00,90.00 72.80,93.00 74.00,91.50 75.20,77.00 76.00,75.90 76.80,75.00 77.90,73.70 79.00,72.20 80.00,70.90 81.00,69.50 82.30,71.50 83.00,72.90 83.80,74.20 85.20,73.20 86.50,78.30 87.80,84.90 89.20,91.00 90.00,95.00 90.80,96.20 91.50,97.50 92.20,97.40 93.00,97.20 93.90,97.20 94.90,97.20 95.80,97.20 96.80,97.20 97.70,97.20 98.50,96.80 99.30,96.50 100.10,92.80 100.90,89.10 101.70,86.20 102.50,83.50 103.30,82.60 104.10,81.90 105.20,82.60 106.40,83.00 107.60,83.40 108.80,83.60 109.60,83.40 110.40,83.50 111.60,84.20 112.80,85.10 114.00,85.80 115.20,86.60 116.20,87.40 117.30,88.20 118.30,88.90 119.50,89.80 120.70,90.60 121.50,92.20 122.30,93.70 123.10,95.70 123.90,97.70 124.60,98.20 125.60,98.20 126.60,98.20 127.60,98.20 128.60,98.20 129.60,98.20 130.70,98.20 131.70,98.20 132.70,98.20 133.70,98.20 134.70,98.20 135.70,98.20 136.50,96.90 137.30,96.30 138.10,95.60 138.90,96.60 139.70,97.70 140.50,96.90 141.30,96.10 142.40,94.00 143.60,95.30 144.80,94.60 146.00,94.00 147.20,94.00 148.40,94.00 149.30,94.10 150.30,94.20 151.20,94.30 152.20,94.40 153.10,94.50 154.10,94.60 155.00,94.80 156.00,95.00 156.90,95.20 157.90,95.30 158.80,95.40 159.80,95.60 160.70,95.80 161.70,96.00 162.60,96.10 163.60,96.30 164.50,96.40 165.50,96.60 166.40,96.70 167.40,96.90 168.30,97.00 169.30,97.10 170.20,97.20 171.20,97.30 172.10,97.40 173.20,97.60 174.20,97.70 175.30,97.90 176.30,98.00 177.40,98.00 178.40,98.10" stroke="#4DBEEE" stroke-width="0.3" opacity="0.8"/>
<polyline points="18.30,53.30 18.80,38.50 19.30,29.20 20.00,24.80 20.50,25.30 21.00,26.60 21.50,17.60 22.00,20.40 22.50,16.30 23.00,25.00 23.50,18.20 24.00,21.70 24.40,17.60 24.80,18.10 25.30,20.20 25.80,18.30 26.40,22.00 27.00,19.10 27.40,14.70 27.90,19.00 28.30,16.30 28.90,14.10 29.50,15.90 30.00,12.50 30.50,18.10 31.00,17.50 31.50,19.90 32.00,17.20 32.50,19.80 32.90,16.60 33.40,25.90 33.80,26.40 34.40,25.60 35.00,23.00 35.40,23.60 35.90,29.00 36.30,29.10 36.80,25.00 37.30,27.70 38.00,22.80 38.50,35.80 38.90,35.40 39.60,31.70 40.00,25.50 40.50,24.30 41.00,23.40 41.50,24.60 42.00,34.10 42.60,28.50 43.10,38.40 43.50,61.70 43.90,42.10 44.40,26.60 44.90,32.00 45.30,27.60 45.80,32.20 46.20,27.50 46.70,38.10 47.30,34.50 47.80,40.20 48.20,43.10 48.70,50.30 49.20,46.70 49.80,36.90 50.30,41.80 50.90,43.40 51.50,36.50 52.00,39.60 52.50,43.30 52.90,39.30 53.40,38.50 53.80,46.40 54.30,43.50 54.80,47.00 55.30,50.80 55.80,52.00 56.50,61.80 57.20,73.50 57.80,88.60 58.30,92.60 59.00,88.10 59.40,81.70 59.80,75.60 60.30,71.10 60.80,65.90 61.80,57.80 62.70,56.20 64.00,56.60 65.00,57.00 66.00,57.90 67.00,59.40 68.00,61.10 68.80,62.50 69.50,64.30 70.50,71.60 71.20,82.10 72.00,90.10 72.80,93.00 74.00,91.50 75.20,76.90 76.00,76.10 76.80,75.10 77.90,73.80 79.00,72.40 80.00,71.00 81.00,69.70 82.30,71.50 83.00,72.60 83.80,73.90 85.20,73.00 86.50,78.50 87.80,84.90 89.20,91.00 90.00,95.00 90.80,96.30 91.50,97.50 92.20,97.30 93.00,97.20 93.90,97.20 94.90,97.20 95.80,97.20 96.80,97.20 97.70,97.20 98.50,96.90 99.30,96.50 100.10,92.80 100.90,89.00 101.70,86.20 102.50,83.50 103.30,82.80 104.10,81.80 105.20,82.50 106.40,83.00 107.60,83.30 108.80,83.60 109.60,83.60 110.40,83.50 111.60,84.20 112.80,85.10 114.00,85.80 115.20,86.60 116.20,87.50 117.30,88.30 118.30,89.00 119.50,89.70 120.70,90.70 121.50,92.20 122.30,93.70 123.10,95.70 123.90,97.70 124.60,98.20 125.60,98.20 126.60,98.20 127.60,98.20 128.60,98.20 129.60,98.20 130.70,98.20 131.70,98.20 132.70,98.20 133.70,98.20 134.70,98.20 135.70,98.20 136.50,96.90 137.30,96.20 138.10,95.60 138.90,96.70 139.70,97.70 140.50,96.90 141.30,96.10 142.40,94.00 143.60,95.30 144.80,94.70 146.00,94.00 147.20,94.00 148.40,94.00 149.30,94.10 150.30,94.20 151.20,94.30 152.20,94.40 153.10,94.50 154.10,94.70 155.00,94.80 156.00,95.00 156.90,95.10 157.90,95.30 158.80,95.50 159.80,95.60 160.70,95.80 161.70,96.00 162.60,96.10 163.60,96.20 164.50,96.40 165.50,96.60 166.40,96.70 167.40,96.90 168.30,97.00 169.30,97.10 170.20,97.20 171.20,97.30 172.10,97.40 173.20,97.60 174.20,97.70 175.30,97.90 176.30,98.00 177.40,98.00 178.40,98.10" stroke="#0a6fbb" stroke-width="0.5" opacity="0.9"/>
</g>
<rect x="18.2" y="7.5" width="160.20000000000002" height="90.9" fill="none" stroke="#555" stroke-width="0.5"/>
<line x1="24.88" y1="98.4" x2="24.88" y2="97.10000000000001" stroke="#555" stroke-width="0.5"/>
<line x1="24.88" y1="7.5" x2="24.88" y2="8.8" stroke="#555" stroke-width="0.5"/>
<g transform="translate(24.88,103.80) scale(0.1)"><text text-anchor="middle" font-size="35.0" class="tk">500</text></g>
<line x1="63.26" y1="98.4" x2="63.26" y2="97.10000000000001" stroke="#555" stroke-width="0.5"/>
<line x1="63.26" y1="7.5" x2="63.26" y2="8.8" stroke="#555" stroke-width="0.5"/>
<g transform="translate(63.26,103.80) scale(0.1)"><text text-anchor="middle" font-size="35.0" class="tk">1000</text></g>
<line x1="101.64" y1="98.4" x2="101.64" y2="97.10000000000001" stroke="#555" stroke-width="0.5"/>
<line x1="101.64" y1="7.5" x2="101.64" y2="8.8" stroke="#555" stroke-width="0.5"/>
<g transform="translate(101.64,103.80) scale(0.1)"><text text-anchor="middle" font-size="35.0" class="tk">1500</text></g>
<line x1="140.02" y1="98.4" x2="140.02" y2="97.10000000000001" stroke="#555" stroke-width="0.5"/>
<line x1="140.02" y1="7.5" x2="140.02" y2="8.8" stroke="#555" stroke-width="0.5"/>
<g transform="translate(140.02,103.80) scale(0.1)"><text text-anchor="middle" font-size="35.0" class="tk">2000</text></g>
<line x1="178.40" y1="98.4" x2="178.40" y2="97.10000000000001" stroke="#555" stroke-width="0.5"/>
<line x1="178.40" y1="7.5" x2="178.40" y2="8.8" stroke="#555" stroke-width="0.5"/>
<g transform="translate(178.40,103.80) scale(0.1)"><text text-anchor="middle" font-size="35.0" class="tk">2500</text></g>
<line x1="18.2" y1="98.40" x2="19.5" y2="98.40" stroke="#555" stroke-width="0.5"/>
<line x1="178.4" y1="98.40" x2="177.1" y2="98.40" stroke="#555" stroke-width="0.5"/>
<g transform="translate(16.50,100.60) scale(0.1)"><text text-anchor="end" font-size="37.0" class="tk">0</text></g>
<line x1="18.2" y1="89.31" x2="19.5" y2="89.31" stroke="#555" stroke-width="0.5"/>
<line x1="178.4" y1="89.31" x2="177.1" y2="89.31" stroke="#555" stroke-width="0.5"/>
<g transform="translate(16.50,91.51) scale(0.1)"><text text-anchor="end" font-size="37.0" class="tk">0.005</text></g>
<line x1="18.2" y1="80.22" x2="19.5" y2="80.22" stroke="#555" stroke-width="0.5"/>
<line x1="178.4" y1="80.22" x2="177.1" y2="80.22" stroke="#555" stroke-width="0.5"/>
<g transform="translate(16.50,82.42) scale(0.1)"><text text-anchor="end" font-size="37.0" class="tk">0.01</text></g>
<line x1="18.2" y1="71.13" x2="19.5" y2="71.13" stroke="#555" stroke-width="0.5"/>
<line x1="178.4" y1="71.13" x2="177.1" y2="71.13" stroke="#555" stroke-width="0.5"/>
<g transform="translate(16.50,73.33) scale(0.1)"><text text-anchor="end" font-size="37.0" class="tk">0.015</text></g>
<line x1="18.2" y1="62.04" x2="19.5" y2="62.04" stroke="#555" stroke-width="0.5"/>
<line x1="178.4" y1="62.04" x2="177.1" y2="62.04" stroke="#555" stroke-width="0.5"/>
<g transform="translate(16.50,64.24) scale(0.1)"><text text-anchor="end" font-size="37.0" class="tk">0.02</text></g>
<line x1="18.2" y1="52.95" x2="19.5" y2="52.95" stroke="#555" stroke-width="0.5"/>
<line x1="178.4" y1="52.95" x2="177.1" y2="52.95" stroke="#555" stroke-width="0.5"/>
<g transform="translate(16.50,55.15) scale(0.1)"><text text-anchor="end" font-size="37.0" class="tk">0.025</text></g>
<line x1="18.2" y1="43.86" x2="19.5" y2="43.86" stroke="#555" stroke-width="0.5"/>
<line x1="178.4" y1="43.86" x2="177.1" y2="43.86" stroke="#555" stroke-width="0.5"/>
<g transform="translate(16.50,46.06) scale(0.1)"><text text-anchor="end" font-size="37.0" class="tk">0.03</text></g>
<line x1="18.2" y1="34.77" x2="19.5" y2="34.77" stroke="#555" stroke-width="0.5"/>
<line x1="178.4" y1="34.77" x2="177.1" y2="34.77" stroke="#555" stroke-width="0.5"/>
<g transform="translate(16.50,36.97) scale(0.1)"><text text-anchor="end" font-size="37.0" class="tk">0.035</text></g>
<line x1="18.2" y1="25.68" x2="19.5" y2="25.68" stroke="#555" stroke-width="0.5"/>
<line x1="178.4" y1="25.68" x2="177.1" y2="25.68" stroke="#555" stroke-width="0.5"/>
<g transform="translate(16.50,27.88) scale(0.1)"><text text-anchor="end" font-size="37.0" class="tk">0.04</text></g>
<line x1="18.2" y1="16.59" x2="19.5" y2="16.59" stroke="#555" stroke-width="0.5"/>
<line x1="178.4" y1="16.59" x2="177.1" y2="16.59" stroke="#555" stroke-width="0.5"/>
<g transform="translate(16.50,18.79) scale(0.1)"><text text-anchor="end" font-size="37.0" class="tk">0.045</text></g>
<line x1="18.2" y1="7.50" x2="19.5" y2="7.50" stroke="#555" stroke-width="0.5"/>
<line x1="178.4" y1="7.50" x2="177.1" y2="7.50" stroke="#555" stroke-width="0.5"/>
<g transform="translate(16.50,9.70) scale(0.1)"><text text-anchor="end" font-size="37.0" class="tk">0.05</text></g>
<g transform="translate(98.30,5.90) scale(0.1)"><text text-anchor="middle" font-size="35.0" font-weight="bold">CHIMES radiance TIAEM-Concrete ROI (5x5)</text></g>
<g transform="translate(98.30,108.70) scale(0.1)"><text text-anchor="middle" font-size="35.0" class="tk">wavelength (λ) nm</text></g>
<g transform="translate(6.20,52.95) rotate(-90) scale(0.1)"><text text-anchor="middle" font-size="35.0" class="tk">Spectral Radiance W/m² sr nm</text></g>
<clipPath id="cp2"><rect x="198.7" y="7.5" width="160.5" height="90.9"/></clipPath>
<g clip-path="url(#cp2)" fill="none" stroke-linejoin="round">
<polyline points="198.80,63.90 199.30,54.50 199.80,50.30 200.50,44.90 201.10,40.30 201.60,38.40 202.10,36.40 202.60,36.50 203.20,33.50 203.70,32.50 204.20,31.70 204.70,33.40 205.20,31.60 205.70,31.30 206.20,29.20 206.70,28.50 207.20,29.40 207.80,30.00 208.30,29.20 208.80,28.90 209.30,29.00 209.80,28.90 210.30,26.20 210.80,27.80 211.30,28.10 211.90,26.50 212.40,29.60 212.90,30.40 213.40,33.00 213.90,35.10 214.40,34.50 214.90,37.70 215.50,38.20 216.00,38.90 216.50,38.50 217.00,38.90 217.50,34.10 218.00,33.10 218.60,35.30 219.10,36.40 219.60,40.00 220.10,36.50 220.60,35.20 221.00,31.20 221.40,30.30 221.80,37.50 222.20,38.00 222.80,42.20 223.50,29.10 224.20,20.30 224.90,19.50 225.20,57.40 225.50,26.70 225.70,15.10 226.10,17.80 226.60,14.30 227.30,18.10 228.00,22.50 228.40,23.30 228.80,22.80 229.30,32.50 229.90,41.40 230.30,38.80 230.70,34.50 231.40,23.10 231.90,25.90 232.40,21.40 232.90,26.00 233.50,23.30 234.20,29.90 234.60,28.90 235.00,32.60 235.50,35.90 236.00,38.20 236.60,51.70 237.10,37.20 237.60,45.70 238.10,64.00 238.80,86.80 239.50,81.00 240.20,62.90 240.60,51.90 241.00,39.30 241.80,28.00 243.00,21.90 243.90,24.00 244.90,24.00 245.80,26.40 246.70,27.60 247.70,30.50 248.60,32.90 249.60,38.00 250.60,45.30 251.40,55.70 252.30,66.40 253.70,88.80 255.10,83.40 256.50,59.50 257.40,59.20 258.40,58.20 259.50,56.20 260.70,53.10 262.00,52.00 262.80,53.60 263.50,56.30 264.90,59.40 266.30,69.90 267.70,80.30 269.10,91.50 270.50,98.30 271.50,98.30 272.50,98.30 273.60,98.30 274.60,98.30 275.60,98.30 276.60,98.30 277.60,96.20 278.60,94.10 280.00,97.60 280.80,93.60 281.50,89.60 282.20,86.20 283.00,83.20 283.80,82.40 284.50,81.80 285.20,81.60 286.00,81.50 286.80,82.00 287.50,82.40 288.20,82.10 289.00,81.80 290.40,81.90 291.20,82.30 292.00,82.60 293.10,83.10 294.20,83.80 295.30,84.60 296.40,85.30 297.50,86.20 298.70,87.50 299.80,88.10 300.90,88.90 301.60,90.70 302.40,92.60 303.10,94.30 303.90,96.20 305.10,97.90 306.10,97.90 307.00,97.90 308.00,97.90 309.00,97.90 310.00,97.90 310.90,97.90 311.90,97.90 312.90,97.90 313.90,97.90 314.80,97.90 315.80,97.90 317.00,97.40 318.10,96.90 318.90,96.40 319.60,95.80 321.00,97.20 322.10,95.90 323.30,94.70 324.10,95.00 324.80,95.40 325.80,95.10 326.80,94.70 327.80,94.30 328.90,94.40 330.00,94.40 331.10,94.40 332.20,94.40 333.30,94.60 334.40,94.80 335.60,95.00 336.70,95.20 337.70,95.30 338.70,95.40 339.70,95.50 340.70,95.60 341.70,95.70 342.70,95.70 343.70,95.90 344.70,96.00 345.70,96.20 346.70,96.30 347.70,96.50 348.70,96.60 349.70,96.70 350.70,96.90 351.60,97.00 352.60,97.10 353.60,97.20 354.60,97.30 355.60,97.50 356.60,97.70 357.60,97.80 358.40,97.90 359.20,98.00" stroke="#D95319" stroke-width="0.4" opacity="0.9"/>
<polyline points="198.80,65.10 199.30,53.70 199.80,48.30 200.50,44.30 201.10,40.00 201.60,40.30 202.10,37.10 202.60,32.90 203.20,32.10 203.70,34.40 204.20,31.30 204.70,31.10 205.20,30.20 205.70,31.20 206.20,28.70 206.70,32.10 207.20,31.70 207.80,29.80 208.30,25.40 208.80,28.80 209.30,23.90 209.80,26.80 210.30,24.40 210.80,26.20 211.30,26.50 211.90,26.10 212.40,29.20 212.90,31.60 213.40,32.50 213.90,33.70 214.40,30.80 214.90,34.30 215.50,35.20 216.00,39.30 216.50,40.40 217.00,35.60 217.50,33.60 218.00,32.40 218.60,35.40 219.10,38.00 219.60,40.40 220.10,35.40 220.60,34.60 221.00,32.40 221.40,31.60 221.80,32.70 222.20,36.90 222.80,40.40 223.50,25.90 224.20,20.40 224.90,19.80 225.20,58.10 225.50,26.80 225.70,16.30 226.10,14.50 226.60,12.70 227.30,18.70 228.00,19.20 228.40,24.80 228.80,24.70 229.30,30.10 229.90,41.90 230.30,36.90 230.70,34.70 231.40,25.30 231.90,20.50 232.40,19.70 232.90,22.60 233.50,26.40 234.20,28.80 234.60,31.50 235.00,31.70 235.50,34.10 236.00,37.60 236.60,51.40 237.10,38.50 237.60,43.90 238.10,61.50 238.80,86.40 239.50,81.80 240.20,62.60 240.60,50.40 241.00,39.30 241.80,27.00 243.00,22.30 243.90,22.70 244.90,24.30 245.80,24.30 246.70,27.00 247.70,29.70 248.60,32.70 249.60,38.40 250.60,45.10 251.40,55.40 252.30,66.20 253.70,88.70 255.10,83.30 256.50,59.70 257.40,59.10 258.40,58.10 259.50,55.10 260.70,52.50 262.00,51.40 262.80,53.00 263.50,55.90 264.90,59.40 266.30,69.30 267.70,80.20 269.10,91.40 270.50,98.30 271.50,98.30 272.50,98.30 273.60,98.30 274.60,98.30 275.60,98.30 276.60,98.30 277.60,96.20 278.60,94.10 280.00,97.60 280.80,93.60 281.50,89.50 282.20,86.40 283.00,82.80 283.80,82.10 284.50,81.40 285.20,81.30 286.00,81.30 286.80,82.10 287.50,82.30 288.20,82.10 289.00,82.00 290.40,81.80 291.20,82.10 292.00,82.60 293.10,82.90 294.20,83.80 295.30,84.40 296.40,85.20 297.50,86.40 298.70,87.40 299.80,88.10 300.90,88.90 301.60,90.60 302.40,92.60 303.10,94.40 303.90,96.10 305.10,97.90 306.10,97.90 307.00,97.90 308.00,97.90 309.00,97.90 310.00,97.90 310.90,97.90 311.90,97.90 312.90,97.90 313.90,97.90 314.80,97.90 315.80,97.90 317.00,97.40 318.10,96.90 318.90,96.30 319.60,95.70 321.00,97.20 322.10,95.90 323.30,94.70 324.10,95.10 324.80,95.50 325.80,95.10 326.80,94.70 327.80,94.30 328.90,94.30 330.00,94.30 331.10,94.40 332.20,94.40 333.30,94.60 334.40,94.80 335.60,94.90 336.70,95.20 337.70,95.20 338.70,95.40 339.70,95.40 340.70,95.50 341.70,95.70 342.70,95.70 343.70,95.90 344.70,96.00 345.70,96.20 346.70,96.30 347.70,96.50 348.70,96.60 349.70,96.80 350.70,96.90 351.60,97.00 352.60,97.10 353.60,97.20 354.60,97.30 355.60,97.50 356.60,97.60 357.60,97.80 358.40,97.90 359.20,98.00" stroke="#EDB120" stroke-width="0.4" opacity="0.9"/>
<polyline points="198.80,64.60 199.30,53.10 199.80,48.50 200.50,40.00 201.10,40.40 201.60,38.20 202.10,36.00 202.60,35.60 203.20,32.10 203.70,32.60 204.20,30.30 204.70,30.60 205.20,27.00 205.70,26.40 206.20,28.40 206.70,28.10 207.20,27.30 207.80,29.00 208.30,28.70 208.80,26.80 209.30,25.80 209.80,22.90 210.30,24.30 210.80,25.20 211.30,23.60 211.90,27.80 212.40,25.90 212.90,27.80 213.40,30.00 213.90,28.90 214.40,32.30 214.90,32.10 215.50,34.40 216.00,39.20 216.50,36.40 217.00,33.30 217.50,32.70 218.00,31.20 218.60,32.60 219.10,34.30 219.60,38.10 220.10,33.60 220.60,33.50 221.00,30.80 221.40,29.60 221.80,34.50 222.20,37.70 222.80,42.70 223.50,24.10 224.20,18.80 224.90,17.00 225.20,56.20 225.50,26.00 225.70,11.60 226.10,16.60 226.60,17.00 227.30,18.80 228.00,20.60 228.40,18.90 228.80,20.60 229.30,30.20 229.90,39.70 230.30,35.30 230.70,32.80 231.40,19.90 231.90,22.20 232.40,22.50 232.90,21.50 233.50,25.10 234.20,27.60 234.60,26.80 235.00,33.50 235.50,35.60 236.00,37.70 236.60,51.70 237.10,36.00 237.60,44.20 238.10,62.50 238.80,86.60 239.50,81.30 240.20,61.80 240.60,50.10 241.00,38.30 241.80,26.50 243.00,22.60 243.90,23.40 244.90,23.20 245.80,25.00 246.70,26.70 247.70,30.10 248.60,31.80 249.60,37.50 250.60,44.50 251.40,55.00 252.30,66.30 253.70,88.60 255.10,83.00 256.50,59.60 257.40,58.80 258.40,58.00 259.50,55.50 260.70,52.20 262.00,51.10 262.80,53.30 263.50,55.50 264.90,59.00 266.30,68.90 267.70,80.10 269.10,91.40 270.50,98.30 271.50,98.30 272.50,98.30 273.60,98.30 274.60,98.30 275.60,98.30 276.60,98.30 277.60,96.20 278.60,94.00 280.00,97.60 280.80,93.60 281.50,89.40 282.20,86.30 283.00,83.00 283.80,82.20 284.50,81.50 285.20,81.60 286.00,81.30 286.80,82.10 287.50,82.20 288.20,82.00 289.00,82.00 290.40,81.60 291.20,82.20 292.00,82.40 293.10,83.00 294.20,83.70 295.30,84.40 296.40,85.30 297.50,86.30 298.70,87.20 299.80,88.00 300.90,88.80 301.60,90.60 302.40,92.40 303.10,94.30 303.90,96.10 305.10,97.90 306.10,97.90 307.00,97.90 308.00,97.90 309.00,97.90 310.00,97.90 310.90,97.90 311.90,97.90 312.90,97.90 313.90,97.90 314.80,97.90 315.80,97.90 317.00,97.40 318.10,96.90 318.90,96.30 319.60,95.70 321.00,97.20 322.10,95.90 323.30,94.70 324.10,95.10 324.80,95.40 325.80,95.00 326.80,94.70 327.80,94.20 328.90,94.20 330.00,94.30 331.10,94.30 332.20,94.40 333.30,94.50 334.40,94.70 335.60,95.00 336.70,95.10 337.70,95.20 338.70,95.30 339.70,95.50 340.70,95.50 341.70,95.70 342.70,95.80 343.70,95.90 344.70,96.00 345.70,96.20 346.70,96.30 347.70,96.50 348.70,96.60 349.70,96.80 350.70,96.80 351.60,97.00 352.60,97.10 353.60,97.20 354.60,97.30 355.60,97.50 356.60,97.60 357.60,97.80 358.40,97.90 359.20,98.00" stroke="#D95319" stroke-width="0.4" opacity="0.9"/>
<polyline points="198.80,62.10 199.30,52.10 199.80,44.40 200.50,40.30 201.10,39.60 201.60,37.60 202.10,32.30 202.60,31.20 203.20,31.60 203.70,27.50 204.20,28.20 204.70,28.50 205.20,28.00 205.70,25.90 206.20,26.80 206.70,26.50 207.20,30.00 207.80,25.50 208.30,26.30 208.80,21.60 209.30,24.10 209.80,23.20 210.30,21.90 210.80,23.40 211.30,23.50 211.90,22.60 212.40,27.60 212.90,25.60 213.40,27.10 213.90,27.60 214.40,30.30 214.90,32.80 215.50,35.70 216.00,38.10 216.50,37.10 217.00,35.50 217.50,32.70 218.00,32.50 218.60,33.20 219.10,34.70 219.60,38.80 220.10,36.00 220.60,30.50 221.00,28.20 221.40,30.40 221.80,31.90 222.20,35.20 222.80,38.50 223.50,24.10 224.20,17.30 224.90,16.90 225.20,55.50 225.50,23.80 225.70,15.70 226.10,10.20 226.60,14.10 227.30,17.30 228.00,19.20 228.40,21.00 228.80,19.80 229.30,30.90 229.90,38.40 230.30,34.50 230.70,28.40 231.40,22.90 231.90,19.40 232.40,21.80 232.90,22.60 233.50,21.00 234.20,25.70 234.60,29.80 235.00,29.60 235.50,30.60 236.00,34.30 236.60,49.80 237.10,32.90 237.60,40.30 238.10,62.30 238.80,86.30 239.50,80.00 240.20,60.20 240.60,49.30 241.00,36.80 241.80,25.30 243.00,21.10 243.90,21.90 244.90,23.30 245.80,24.90 246.70,27.30 247.70,29.80 248.60,31.10 249.60,38.20 250.60,43.80 251.40,55.20 252.30,66.20 253.70,88.40 255.10,83.10 256.50,59.30 257.40,58.70 258.40,58.10 259.50,55.40 260.70,52.20 262.00,50.50 262.80,53.50 263.50,54.80 264.90,59.10 266.30,69.40 267.70,80.00 269.10,91.40 270.50,98.30 271.50,98.30 272.50,98.30 273.60,98.30 274.60,98.30 275.60,98.30 276.60,98.30 277.60,96.20 278.60,94.10 280.00,97.60 280.80,93.50 281.50,89.50 282.20,86.20 283.00,82.90 283.80,82.00 284.50,81.30 285.20,81.20 286.00,81.10 286.80,82.00 287.50,82.30 288.20,82.20 289.00,81.60 290.40,81.70 291.20,82.10 292.00,82.40 293.10,82.80 294.20,83.50 295.30,84.10 296.40,85.10 297.50,86.20 298.70,87.20 299.80,88.00 300.90,88.80 301.60,90.50 302.40,92.50 303.10,94.20 303.90,96.10 305.10,97.90 306.10,97.90 307.00,97.90 308.00,97.90 309.00,97.90 310.00,97.90 310.90,97.90 311.90,97.90 312.90,97.90 313.90,97.90 314.80,97.90 315.80,97.90 317.00,97.40 318.10,96.90 318.90,96.30 319.60,95.70 321.00,97.20 322.10,95.90 323.30,94.70 324.10,95.10 324.80,95.40 325.80,95.00 326.80,94.60 327.80,94.20 328.90,94.30 330.00,94.20 331.10,94.30 332.20,94.30 333.30,94.50 334.40,94.70 335.60,94.90 336.70,95.10 337.70,95.20 338.70,95.30 339.70,95.40 340.70,95.50 341.70,95.60 342.70,95.70 343.70,95.90 344.70,96.00 345.70,96.20 346.70,96.30 347.70,96.50 348.70,96.60 349.70,96.70 350.70,96.80 351.60,96.90 352.60,97.10 353.60,97.20 354.60,97.30 355.60,97.50 356.60,97.60 357.60,97.80 358.40,97.90 359.20,98.00" stroke="#77AC30" stroke-width="0.4" opacity="0.9"/>
<polyline points="198.80,62.70 199.30,51.20 199.80,43.70 200.50,38.30 201.10,38.90 201.60,34.50 202.10,34.20 202.60,31.50 203.20,31.40 203.70,27.00 204.20,24.70 204.70,25.90 205.20,25.70 205.70,26.90 206.20,25.40 206.70,26.00 207.20,27.00 207.80,26.30 208.30,25.00 208.80,20.90 209.30,18.50 209.80,19.00 210.30,19.80 210.80,23.90 211.30,23.10 211.90,21.50 212.40,22.00 212.90,25.30 213.40,26.20 213.90,26.70 214.40,29.90 214.90,30.20 215.50,34.30 216.00,35.20 216.50,34.90 217.00,31.90 217.50,30.90 218.00,29.50 218.60,31.90 219.10,31.60 219.60,35.60 220.10,33.60 220.60,29.60 221.00,26.60 221.40,26.30 221.80,30.40 222.20,32.60 222.80,40.50 223.50,23.00 224.20,13.70 224.90,13.70 225.20,54.20 225.50,18.60 225.70,11.60 226.10,10.00 226.60,8.80 227.30,13.30 228.00,17.20 228.40,16.30 228.80,20.30 229.30,30.40 229.90,36.20 230.30,32.10 230.70,29.10 231.40,18.50 231.90,15.50 232.40,16.30 232.90,19.50 233.50,17.70 234.20,23.20 234.60,26.60 235.00,27.90 235.50,29.80 236.00,31.90 236.60,48.20 237.10,32.20 237.60,41.30 238.10,61.80 238.80,85.90 239.50,80.80 240.20,59.40 240.60,48.20 241.00,35.80 241.80,24.60 243.00,21.30 243.90,21.20 244.90,23.20 245.80,24.70 246.70,26.20 247.70,28.80 248.60,30.30 249.60,37.40 250.60,44.10 251.40,55.30 252.30,66.40 253.70,88.50 255.10,82.90 256.50,59.40 257.40,58.50 258.40,57.60 259.50,54.40 260.70,51.50 262.00,50.20 262.80,52.60 263.50,54.90 264.90,59.30 266.30,68.80 267.70,80.10 269.10,91.30 270.50,98.30 271.50,98.30 272.50,98.30 273.60,98.30 274.60,98.30 275.60,98.30 276.60,98.30 277.60,96.20 278.60,94.00 280.00,97.60 280.80,93.50 281.50,89.50 282.20,86.00 283.00,82.60 283.80,82.10 284.50,81.20 285.20,81.30 286.00,81.10 286.80,81.70 287.50,82.20 288.20,82.00 289.00,81.60 290.40,81.60 291.20,82.00 292.00,82.30 293.10,82.90 294.20,83.30 295.30,84.10 296.40,84.90 297.50,86.10 298.70,87.10 299.80,88.00 300.90,88.80 301.60,90.50 302.40,92.50 303.10,94.30 303.90,96.10 305.10,97.90 306.10,97.90 307.00,97.90 308.00,97.90 309.00,97.90 310.00,97.90 310.90,97.90 311.90,97.90 312.90,97.90 313.90,97.90 314.80,97.90 315.80,97.90 317.00,97.40 318.10,96.90 318.90,96.30 319.60,95.70 321.00,97.20 322.10,95.90 323.30,94.60 324.10,95.00 324.80,95.40 325.80,95.00 326.80,94.60 327.80,94.20 328.90,94.30 330.00,94.20 331.10,94.30 332.20,94.30 333.30,94.50 334.40,94.70 335.60,94.90 336.70,95.10 337.70,95.20 338.70,95.30 339.70,95.40 340.70,95.50 341.70,95.60 342.70,95.70 343.70,95.80 344.70,96.00 345.70,96.10 346.70,96.30 347.70,96.50 348.70,96.60 349.70,96.70 350.70,96.80 351.60,97.00 352.60,97.10 353.60,97.20 354.60,97.30 355.60,97.50 356.60,97.60 357.60,97.80 358.40,97.90 359.20,98.00" stroke="#0072BD" stroke-width="0.4" opacity="0.9"/>
<polyline points="198.80,61.20 199.30,52.80 199.80,43.50 200.50,39.70 201.10,38.30 201.60,33.10 202.10,30.10 202.60,27.70 203.20,26.40 203.70,28.50 204.20,24.40 204.70,22.70 205.20,23.70 205.70,24.20 206.20,24.70 206.70,26.60 207.20,24.50 207.80,21.20 208.30,24.10 208.80,19.00 209.30,17.20 209.80,20.00 210.30,17.00 210.80,21.60 211.30,21.60 211.90,21.40 212.40,21.00 212.90,23.90 213.40,27.20 213.90,24.00 214.40,26.90 214.90,28.50 215.50,33.60 216.00,36.20 216.50,35.30 217.00,32.80 217.50,30.10 218.00,28.70 218.60,29.60 219.10,30.80 219.60,36.20 220.10,29.90 220.60,27.50 221.00,28.00 221.40,27.70 221.80,27.60 222.20,32.70 222.80,39.60 223.50,21.00 224.20,13.50 224.90,12.10 225.20,54.00 225.50,21.10 225.70,10.60 226.10,8.70 226.60,6.10 227.30,15.20 228.00,12.80 228.40,15.10 228.80,19.70 229.30,26.40 229.90,35.20 230.30,30.50 230.70,27.10 231.40,18.00 231.90,16.60 232.40,17.90 232.90,17.60 233.50,18.90 234.20,24.10 234.60,26.00 235.00,28.00 235.50,30.30 236.00,32.10 236.60,46.90 237.10,32.80 237.60,39.50 238.10,60.20 238.80,85.90 239.50,80.40 240.20,58.60 240.60,46.50 241.00,34.40 241.80,24.60 243.00,20.80 243.90,22.10 244.90,22.80 245.80,23.70 246.70,26.80 247.70,28.40 248.60,30.30 249.60,36.40 250.60,43.70 251.40,55.10 252.30,65.60 253.70,88.50 255.10,83.00 256.50,59.10 257.40,58.30 258.40,57.60 259.50,54.80 260.70,52.00 262.00,50.30 262.80,52.20 263.50,54.90 264.90,58.80 266.30,68.70 267.70,79.70 269.10,91.20 270.50,98.30 271.50,98.30 272.50,98.30 273.60,98.30 274.60,98.30 275.60,98.30 276.60,98.30 277.60,96.10 278.60,94.00 280.00,97.60 280.80,93.40 281.50,89.30 282.20,86.00 283.00,82.80 283.80,81.70 284.50,81.10 285.20,81.10 286.00,81.00 286.80,81.70 287.50,82.20 288.20,81.70 289.00,81.40 290.40,81.30 291.20,81.80 292.00,81.90 293.10,82.60 294.20,83.30 295.30,84.00 296.40,85.00 297.50,86.20 298.70,87.00 299.80,88.00 300.90,88.60 301.60,90.50 302.40,92.30 303.10,94.30 303.90,96.10 305.10,97.90 306.10,97.90 307.00,97.90 308.00,97.90 309.00,97.90 310.00,97.90 310.90,97.90 311.90,97.90 312.90,97.90 313.90,97.90 314.80,97.90 315.80,97.90 317.00,97.40 318.10,96.90 318.90,96.30 319.60,95.70 321.00,97.20 322.10,95.90 323.30,94.60 324.10,94.90 324.80,95.40 325.80,95.00 326.80,94.60 327.80,94.20 328.90,94.20 330.00,94.20 331.10,94.20 332.20,94.30 333.30,94.50 334.40,94.70 335.60,94.90 336.70,95.00 337.70,95.20 338.70,95.30 339.70,95.40 340.70,95.50 341.70,95.60 342.70,95.70 343.70,95.90 344.70,96.00 345.70,96.10 346.70,96.30 347.70,96.40 348.70,96.60 349.70,96.70 350.70,96.80 351.60,96.90 352.60,97.10 353.60,97.20 354.60,97.30 355.60,97.50 356.60,97.60 357.60,97.80 358.40,97.90 359.20,98.00" stroke="#4DBEEE" stroke-width="0.4" opacity="0.9"/>
<polyline points="198.80,60.60 199.30,51.10 199.80,41.20 200.50,35.10 201.10,34.80 201.60,32.30 202.10,32.00 202.60,30.70 203.20,28.00 203.70,24.50 204.20,22.80 204.70,22.70 205.20,21.50 205.70,25.50 206.20,25.00 206.70,24.50 207.20,26.50 207.80,22.00 208.30,18.60 208.80,17.40 209.30,20.40 209.80,17.10 210.30,16.80 210.80,17.70 211.30,19.80 211.90,22.00 212.40,19.90 212.90,20.90 213.40,22.90 213.90,24.90 214.40,28.50 214.90,29.90 215.50,32.60 216.00,35.70 216.50,33.70 217.00,29.60 217.50,27.90 218.00,28.80 218.60,27.40 219.10,33.70 219.60,32.60 220.10,30.50 220.60,26.50 221.00,27.20 221.40,24.10 221.80,26.90 222.20,33.70 222.80,38.30 223.50,19.30 224.20,13.00 224.90,12.80 225.20,54.20 225.50,20.20 225.70,9.60 226.10,8.90 226.60,9.90 227.30,9.60 228.00,13.20 228.40,14.20 228.80,17.90 229.30,24.80 229.90,32.70 230.30,28.10 230.70,28.50 231.40,16.80 231.90,17.80 232.40,15.30 232.90,15.30 233.50,16.60 234.20,21.70 234.60,21.20 235.00,25.60 235.50,26.40 236.00,31.70 236.60,46.50 237.10,32.50 237.60,38.70 238.10,58.80 238.80,85.70 239.50,79.50 240.20,60.20 240.60,46.40 241.00,34.00 241.80,23.30 243.00,20.40 243.90,21.60 244.90,22.30 245.80,22.90 246.70,25.70 247.70,28.40 248.60,30.60 249.60,36.90 250.60,43.50 251.40,54.20 252.30,65.70 253.70,88.40 255.10,83.00 256.50,58.20 257.40,58.30 258.40,57.50 259.50,54.60 260.70,51.20 262.00,49.60 262.80,52.00 263.50,54.90 264.90,58.30 266.30,68.90 267.70,80.00 269.10,91.30 270.50,98.30 271.50,98.30 272.50,98.30 273.60,98.30 274.60,98.30 275.60,98.30 276.60,98.30 277.60,96.10 278.60,93.90 280.00,97.60 280.80,93.50 281.50,89.30 282.20,85.90 283.00,82.50 283.80,81.90 284.50,80.90 285.20,80.90 286.00,80.90 286.80,81.60 287.50,81.90 288.20,81.90 289.00,81.40 290.40,81.60 291.20,81.90 292.00,82.20 293.10,82.60 294.20,83.10 295.30,84.10 296.40,84.80 297.50,85.90 298.70,87.00 299.80,87.70 300.90,88.50 301.60,90.50 302.40,92.40 303.10,94.20 303.90,96.10 305.10,97.90 306.10,97.90 307.00,97.90 308.00,97.90 309.00,97.90 310.00,97.90 310.90,97.90 311.90,97.90 312.90,97.90 313.90,97.90 314.80,97.90 315.80,97.90 317.00,97.40 318.10,96.90 318.90,96.30 319.60,95.70 321.00,97.20 322.10,95.90 323.30,94.60 324.10,94.90 324.80,95.40 325.80,95.00 326.80,94.50 327.80,94.10 328.90,94.20 330.00,94.20 331.10,94.20 332.20,94.30 333.30,94.40 334.40,94.60 335.60,94.90 336.70,95.10 337.70,95.20 338.70,95.30 339.70,95.40 340.70,95.50 341.70,95.60 342.70,95.60 343.70,95.80 344.70,96.00 345.70,96.10 346.70,96.30 347.70,96.40 348.70,96.60 349.70,96.70 350.70,96.80 351.60,96.90 352.60,97.00 353.60,97.20 354.60,97.30 355.60,97.50 356.60,97.60 357.60,97.80 358.40,97.90 359.20,98.00" stroke="#0072BD" stroke-width="0.4" opacity="0.9"/>
<polyline points="198.80,61.50 199.30,49.30 199.80,40.50 200.50,36.90 201.10,33.20 201.60,33.20 202.10,29.20 202.60,28.10 203.20,27.60 203.70,24.80 204.20,23.20 204.70,21.20 205.20,24.50 205.70,23.00 206.20,24.00 206.70,23.70 207.20,24.10 207.80,19.70 208.30,17.40 208.80,19.90 209.30,17.10 209.80,16.70 210.30,16.60 210.80,14.80 211.30,15.70 211.90,21.90 212.40,21.30 212.90,21.70 213.40,22.20 213.90,23.90 214.40,23.50 214.90,29.70 215.50,30.60 216.00,32.20 216.50,33.00 217.00,30.90 217.50,27.20 218.00,27.90 218.60,28.10 219.10,32.10 219.60,35.00 220.10,30.70 220.60,24.80 221.00,24.50 221.40,23.40 221.80,27.10 222.20,31.90 222.80,33.90 223.50,19.20 224.20,9.50 224.90,11.70 225.20,54.20 225.50,16.80 225.70,3.70 226.10,5.00 226.60,8.80 227.30,8.40 228.00,14.00 228.40,13.30 228.80,17.20 229.30,27.30 229.90,32.60 230.30,29.50 230.70,24.60 231.40,13.30 231.90,13.70 232.40,14.40 232.90,16.00 233.50,15.80 234.20,21.10 234.60,23.70 235.00,23.60 235.50,28.50 236.00,29.40 236.60,45.60 237.10,29.80 237.60,36.80 238.10,59.10 238.80,85.70 239.50,78.90 240.20,58.00 240.60,45.30 241.00,32.70 241.80,22.70 243.00,19.40 243.90,20.40 244.90,21.10 245.80,23.30 246.70,24.80 247.70,26.90 248.60,30.40 249.60,37.10 250.60,43.20 251.40,54.00 252.30,65.70 253.70,88.20 255.10,82.90 256.50,58.00 257.40,57.80 258.40,56.60 259.50,54.30 260.70,51.70 262.00,49.70 262.80,52.30 263.50,53.90 264.90,58.10 266.30,68.60 267.70,79.70 269.10,91.20 270.50,98.30 271.50,98.30 272.50,98.30 273.60,98.30 274.60,98.30 275.60,98.30 276.60,98.30 277.60,96.10 278.60,93.90 280.00,97.60 280.80,93.40 281.50,89.30 282.20,85.90 283.00,82.40 283.80,81.60 284.50,81.10 285.20,81.00 286.00,81.00 286.80,81.30 287.50,82.00 288.20,81.50 289.00,81.20 290.40,81.50 291.20,81.70 292.00,81.90 293.10,82.50 294.20,83.00 295.30,84.10 296.40,84.70 297.50,86.10 298.70,86.90 299.80,87.90 300.90,88.70 301.60,90.40 302.40,92.20 303.10,94.20 303.90,96.10 305.10,97.90 306.10,97.90 307.00,97.90 308.00,97.90 309.00,97.90 310.00,97.90 310.90,97.90 311.90,97.90 312.90,97.90 313.90,97.90 314.80,97.90 315.80,97.90 317.00,97.40 318.10,96.90 318.90,96.30 319.60,95.60 321.00,97.20 322.10,95.90 323.30,94.60 324.10,95.00 324.80,95.40 325.80,95.00 326.80,94.60 327.80,94.20 328.90,94.10 330.00,94.10 331.10,94.20 332.20,94.20 333.30,94.40 334.40,94.70 335.60,94.90 336.70,95.10 337.70,95.10 338.70,95.20 339.70,95.40 340.70,95.40 341.70,95.50 342.70,95.60 343.70,95.80 344.70,96.00 345.70,96.10 346.70,96.30 347.70,96.40 348.70,96.60 349.70,96.70 350.70,96.80 351.60,96.90 352.60,97.10 353.60,97.20 354.60,97.30 355.60,97.50 356.60,97.60 357.60,97.80 358.40,97.90 359.20,98.00" stroke="#4DBEEE" stroke-width="0.4" opacity="0.9"/>
<polyline points="198.80,61.00 199.30,48.20 199.80,41.90 200.50,33.70 201.10,34.60 201.60,32.20 202.10,26.10 202.60,28.40 203.20,24.50 203.70,23.30 204.20,23.20 204.70,20.50 205.20,19.50 205.70,22.20 206.20,21.30 206.70,21.10 207.20,22.00 207.80,19.50 208.30,17.10 208.80,18.10 209.30,13.40 209.80,15.80 210.30,18.00 210.80,16.60 211.30,16.90 211.90,20.00 212.40,17.70 212.90,20.30 213.40,21.80 213.90,24.00 214.40,25.90 214.90,27.80 215.50,28.80 216.00,31.90 216.50,29.70 217.00,30.60 217.50,25.40 218.00,24.20 218.60,26.40 219.10,29.30 219.60,31.10 220.10,26.70 220.60,24.70 221.00,24.30 221.40,22.70 221.80,25.20 222.20,29.70 222.80,33.80 223.50,19.60 224.20,8.30 224.90,9.40 225.20,52.60 225.50,18.70 225.70,5.00 226.10,3.50 226.60,2.10 227.30,9.00 228.00,8.90 228.40,14.40 228.80,17.00 229.30,23.80 229.90,33.60 230.30,29.00 230.70,23.60 231.40,11.80 231.90,10.90 232.40,13.70 232.90,13.30 233.50,14.10 234.20,17.60 234.60,20.90 235.00,24.20 235.50,25.30 236.00,31.60 236.60,44.50 237.10,30.20 237.60,38.40 238.10,57.60 238.80,85.10 239.50,79.30 240.20,59.20 240.60,45.40 241.00,32.90 241.80,22.60 243.00,18.50 243.90,20.90 244.90,21.60 245.80,22.70 246.70,24.60 247.70,26.80 248.60,29.50 249.60,36.50 250.60,43.00 251.40,53.90 252.30,65.50 253.70,88.30 255.10,82.80 256.50,58.10 257.40,57.70 258.40,57.00 259.50,54.30 260.70,50.80 262.00,49.70 262.80,51.90 263.50,53.80 264.90,58.70 266.30,68.30 267.70,79.70 269.10,91.20 270.50,98.30 271.50,98.30 272.50,98.30 273.60,98.30 274.60,98.30 275.60,98.30 276.60,98.30 277.60,96.10 278.60,93.90 280.00,97.60 280.80,93.40 281.50,89.30 282.20,85.70 283.00,82.50 283.80,81.80 284.50,80.90 285.20,80.80 286.00,80.80 286.80,81.60 287.50,81.90 288.20,81.60 289.00,81.30 290.40,81.20 291.20,81.50 292.00,82.00 293.10,82.50 294.20,83.00 295.30,83.80 296.40,84.70 297.50,85.70 298.70,86.90 299.80,87.80 300.90,88.40 301.60,90.40 302.40,92.30 303.10,94.20 303.90,96.00 305.10,97.90 306.10,97.90 307.00,97.90 308.00,97.90 309.00,97.90 310.00,97.90 310.90,97.90 311.90,97.90 312.90,97.90 313.90,97.90 314.80,97.90 315.80,97.90 317.00,97.40 318.10,96.90 318.90,96.20 319.60,95.70 321.00,97.20 322.10,95.80 323.30,94.60 324.10,94.90 324.80,95.40 325.80,94.90 326.80,94.50 327.80,94.20 328.90,94.20 330.00,94.20 331.10,94.20 332.20,94.30 333.30,94.50 334.40,94.70 335.60,94.90 336.70,95.00 337.70,95.10 338.70,95.20 339.70,95.40 340.70,95.50 341.70,95.50 342.70,95.70 343.70,95.80 344.70,95.90 345.70,96.10 346.70,96.20 347.70,96.40 348.70,96.60 349.70,96.70 350.70,96.80 351.60,96.90 352.60,97.10 353.60,97.20 354.60,97.30 355.60,97.50 356.60,97.60 357.60,97.80 358.40,97.90 359.20,98.00" stroke="#0072BD" stroke-width="0.4" opacity="0.9"/>
</g>
<rect x="198.7" y="7.5" width="160.5" height="90.9" fill="none" stroke="#555" stroke-width="0.5"/>
<line x1="205.39" y1="98.4" x2="205.39" y2="97.10000000000001" stroke="#555" stroke-width="0.5"/>
<line x1="205.39" y1="7.5" x2="205.39" y2="8.8" stroke="#555" stroke-width="0.5"/>
<g transform="translate(205.39,103.80) scale(0.1)"><text text-anchor="middle" font-size="35.0" class="tk">500</text></g>
<line x1="243.84" y1="98.4" x2="243.84" y2="97.10000000000001" stroke="#555" stroke-width="0.5"/>
<line x1="243.84" y1="7.5" x2="243.84" y2="8.8" stroke="#555" stroke-width="0.5"/>
<g transform="translate(243.84,103.80) scale(0.1)"><text text-anchor="middle" font-size="35.0" class="tk">1000</text></g>
<line x1="282.30" y1="98.4" x2="282.30" y2="97.10000000000001" stroke="#555" stroke-width="0.5"/>
<line x1="282.30" y1="7.5" x2="282.30" y2="8.8" stroke="#555" stroke-width="0.5"/>
<g transform="translate(282.30,103.80) scale(0.1)"><text text-anchor="middle" font-size="35.0" class="tk">1500</text></g>
<line x1="320.75" y1="98.4" x2="320.75" y2="97.10000000000001" stroke="#555" stroke-width="0.5"/>
<line x1="320.75" y1="7.5" x2="320.75" y2="8.8" stroke="#555" stroke-width="0.5"/>
<g transform="translate(320.75,103.80) scale(0.1)"><text text-anchor="middle" font-size="35.0" class="tk">2000</text></g>
<line x1="359.20" y1="98.4" x2="359.20" y2="97.10000000000001" stroke="#555" stroke-width="0.5"/>
<line x1="359.20" y1="7.5" x2="359.20" y2="8.8" stroke="#555" stroke-width="0.5"/>
<g transform="translate(359.20,103.80) scale(0.1)"><text text-anchor="middle" font-size="35.0" class="tk">2500</text></g>
<line x1="198.7" y1="98.40" x2="200.0" y2="98.40" stroke="#555" stroke-width="0.5"/>
<line x1="359.2" y1="98.40" x2="357.9" y2="98.40" stroke="#555" stroke-width="0.5"/>
<g transform="translate(197.00,100.60) scale(0.1)"><text text-anchor="end" font-size="37.0" class="tk">0</text></g>
<line x1="198.7" y1="88.17" x2="200.0" y2="88.17" stroke="#555" stroke-width="0.5"/>
<line x1="359.2" y1="88.17" x2="357.9" y2="88.17" stroke="#555" stroke-width="0.5"/>
<g transform="translate(197.00,90.37) scale(0.1)"><text text-anchor="end" font-size="37.0" class="tk">0.005</text></g>
<line x1="198.7" y1="77.93" x2="200.0" y2="77.93" stroke="#555" stroke-width="0.5"/>
<line x1="359.2" y1="77.93" x2="357.9" y2="77.93" stroke="#555" stroke-width="0.5"/>
<g transform="translate(197.00,80.13) scale(0.1)"><text text-anchor="end" font-size="37.0" class="tk">0.01</text></g>
<line x1="198.7" y1="67.70" x2="200.0" y2="67.70" stroke="#555" stroke-width="0.5"/>
<line x1="359.2" y1="67.70" x2="357.9" y2="67.70" stroke="#555" stroke-width="0.5"/>
<g transform="translate(197.00,69.90) scale(0.1)"><text text-anchor="end" font-size="37.0" class="tk">0.015</text></g>
<line x1="198.7" y1="57.46" x2="200.0" y2="57.46" stroke="#555" stroke-width="0.5"/>
<line x1="359.2" y1="57.46" x2="357.9" y2="57.46" stroke="#555" stroke-width="0.5"/>
<g transform="translate(197.00,59.66) scale(0.1)"><text text-anchor="end" font-size="37.0" class="tk">0.02</text></g>
<line x1="198.7" y1="47.23" x2="200.0" y2="47.23" stroke="#555" stroke-width="0.5"/>
<line x1="359.2" y1="47.23" x2="357.9" y2="47.23" stroke="#555" stroke-width="0.5"/>
<g transform="translate(197.00,49.43) scale(0.1)"><text text-anchor="end" font-size="37.0" class="tk">0.025</text></g>
<line x1="198.7" y1="36.99" x2="200.0" y2="36.99" stroke="#555" stroke-width="0.5"/>
<line x1="359.2" y1="36.99" x2="357.9" y2="36.99" stroke="#555" stroke-width="0.5"/>
<g transform="translate(197.00,39.19) scale(0.1)"><text text-anchor="end" font-size="37.0" class="tk">0.03</text></g>
<line x1="198.7" y1="26.75" x2="200.0" y2="26.75" stroke="#555" stroke-width="0.5"/>
<line x1="359.2" y1="26.75" x2="357.9" y2="26.75" stroke="#555" stroke-width="0.5"/>
<g transform="translate(197.00,28.95) scale(0.1)"><text text-anchor="end" font-size="37.0" class="tk">0.035</text></g>
<line x1="198.7" y1="16.52" x2="200.0" y2="16.52" stroke="#555" stroke-width="0.5"/>
<line x1="359.2" y1="16.52" x2="357.9" y2="16.52" stroke="#555" stroke-width="0.5"/>
<g transform="translate(197.00,18.72) scale(0.1)"><text text-anchor="end" font-size="37.0" class="tk">0.04</text></g>
<g transform="translate(278.95,5.90) scale(0.1)"><text text-anchor="middle" font-size="35.0" font-weight="bold">CHIMES radiance BOAEM-Concrete ROI (5x5)</text></g>
<g transform="translate(278.95,108.70) scale(0.1)"><text text-anchor="middle" font-size="35.0" class="tk">wavelength (λ) nm</text></g>
<g transform="translate(186.70,52.95) rotate(-90) scale(0.1)"><text text-anchor="middle" font-size="35.0" class="tk">Spectral Radiance W/m² sr nm</text></g>
<clipPath id="cp3"><rect x="384.2" y="7.5" width="160.2" height="90.9"/></clipPath>
<g clip-path="url(#cp3)" fill="none" stroke-linejoin="round">
<polyline points="384.30,64.70 384.70,50.00 385.20,38.70 385.60,36.10 386.10,34.40 386.60,36.00 387.10,35.40 387.60,30.60 388.10,32.60 388.70,31.90 389.20,27.50 389.70,29.60 390.20,27.30 390.70,28.50 391.20,27.00 391.70,28.80 392.20,25.60 392.80,23.70 393.30,24.70 393.80,22.80 394.30,22.30 394.80,26.80 395.30,24.50 395.90,26.10 396.40,28.30 396.90,30.90 397.40,28.10 397.90,31.00 398.40,30.90 398.90,31.70 399.40,34.00 399.90,34.20 400.50,37.60 401.00,37.40 401.50,40.40 402.20,41.50 402.60,39.60 403.10,40.90 403.50,38.70 404.10,36.40 404.60,31.10 405.10,32.10 405.60,29.70 406.10,29.90 406.60,31.00 407.00,33.70 407.50,48.70 407.90,34.80 408.30,22.30 408.80,15.80 409.20,12.40 409.90,9.70 410.20,69.40 410.50,9.30 410.90,9.80 411.30,11.50 411.80,6.90 412.30,5.90 412.80,7.70 413.30,11.00 413.70,14.30 414.10,21.20 414.60,38.80 415.00,27.40 415.50,24.90 415.90,22.10 416.40,13.50 416.90,11.90 417.40,16.50 417.90,12.50 418.50,15.10 419.00,18.10 419.50,18.80 420.00,19.80 420.50,22.90 421.00,34.60 421.50,39.70 422.20,56.50 422.80,37.30 423.30,45.80 423.80,74.40 424.20,87.70 424.60,86.00 425.00,83.50 425.50,77.30 426.00,70.10 426.80,39.10 427.60,28.50 428.30,26.10 429.30,26.80 430.40,27.60 431.40,30.10 432.40,32.40 433.40,32.30 434.40,35.70 435.40,37.20 436.30,40.40 437.30,54.70 438.00,74.80 438.80,86.90 439.50,89.00 440.70,85.80 441.50,76.70 442.50,63.40 443.40,59.90 444.30,58.70 445.20,57.00 446.20,55.80 447.30,55.90 448.60,58.80 449.60,61.90 450.40,63.60 451.50,67.60 452.50,76.20 453.90,85.90 455.00,93.90 456.30,98.20 457.30,98.20 458.40,98.20 459.40,98.20 460.40,98.20 461.40,98.20 462.50,98.20 463.50,98.20 464.20,96.30 465.00,94.30 466.30,88.10 467.10,87.10 467.80,85.80 468.60,85.30 469.50,85.30 470.60,85.40 471.80,85.50 472.90,85.60 473.90,85.60 475.00,85.60 476.10,85.80 477.30,85.80 478.50,86.40 479.60,86.70 480.80,87.10 482.00,88.10 483.20,89.20 484.40,90.40 485.20,91.60 486.00,92.60 486.80,93.80 487.50,95.20 488.40,96.60 489.20,97.90 490.20,97.90 491.20,97.90 492.30,97.90 493.30,97.90 494.30,97.90 495.30,97.90 496.40,97.90 497.40,97.90 498.40,97.90 499.40,97.90 500.50,97.90 501.50,97.90 502.50,97.90 503.20,97.70 504.00,97.50 504.80,97.40 505.50,97.20 506.20,97.50 507.00,97.80 507.80,97.00 508.60,96.20 509.70,96.10 510.80,95.90 511.90,95.90 512.90,95.80 514.00,95.70 515.00,95.50 516.00,95.40 517.00,95.30 518.00,95.40 519.00,95.50 520.00,95.60 521.00,95.60 522.00,95.80 523.00,95.90 523.90,96.00 524.80,96.10 525.80,96.30 526.70,96.40 527.60,96.50 528.70,96.70 529.80,96.80 530.90,96.90 532.00,97.00 533.00,97.10 534.00,97.20 535.00,97.30 536.00,97.40 537.00,97.50 538.10,97.60 539.20,97.60 540.30,97.70 541.40,97.80 542.40,97.90 543.40,98.00 544.40,98.10" stroke="#4DBEEE" stroke-width="0.35" opacity="0.9"/>
<polyline points="384.30,63.90 384.70,50.00 385.20,37.90 385.60,37.70 386.10,38.70 386.60,34.50 387.10,36.20 387.60,34.70 388.10,32.30 388.70,32.20 389.20,32.00 389.70,28.90 390.20,30.00 390.70,30.90 391.20,30.60 391.70,26.90 392.20,28.20 392.80,25.90 393.30,27.40 393.80,27.40 394.30,24.90 394.80,24.70 395.30,29.20 395.90,26.80 396.40,26.90 396.90,28.80 397.40,30.00 397.90,34.90 398.40,32.90 398.90,33.40 399.40,38.50 399.90,38.60 400.50,39.70 401.00,40.00 401.50,41.90 402.20,44.60 402.60,41.40 403.10,42.70 403.50,40.60 404.10,38.40 404.60,36.50 405.10,35.40 405.60,29.70 406.10,28.90 406.60,34.60 407.00,34.80 407.50,50.00 407.90,37.50 408.30,25.30 408.80,19.20 409.20,15.00 409.90,15.20 410.20,71.40 410.50,15.40 410.90,15.20 411.30,11.20 411.80,9.90 412.30,11.80 412.80,14.90 413.30,15.50 413.70,18.30 414.10,21.00 414.60,40.40 415.00,30.10 415.50,23.90 415.90,20.90 416.40,17.90 416.90,17.60 417.40,16.10 417.90,15.10 418.50,17.00 419.00,17.00 419.50,19.80 420.00,24.50 420.50,26.40 421.00,33.20 421.50,43.30 422.20,56.40 422.80,39.90 423.30,45.00 423.80,74.90 424.20,88.40 424.60,86.00 425.00,84.10 425.50,77.90 426.00,70.40 426.80,41.60 427.60,28.00 428.30,26.50 429.30,27.20 430.40,28.70 431.40,30.40 432.40,32.20 433.40,34.60 434.40,37.70 435.40,39.50 436.30,43.80 437.30,56.10 438.00,75.00 438.80,87.30 439.50,89.50 440.70,86.30 441.50,76.90 442.50,64.90 443.40,62.20 444.30,59.10 445.20,58.50 446.20,56.60 447.30,56.20 448.60,58.90 449.60,62.80 450.40,64.30 451.50,68.00 452.50,76.70 453.90,86.00 455.00,94.10 456.30,98.20 457.30,98.20 458.40,98.20 459.40,98.20 460.40,98.20 461.40,98.20 462.50,98.20 463.50,98.20 464.20,96.30 465.00,94.50 466.30,88.20 467.10,87.10 467.80,86.00 468.60,85.90 469.50,85.50 470.60,85.70 471.80,85.90 472.90,85.90 473.90,86.10 475.00,85.90 476.10,85.80 477.30,86.20 478.50,86.40 479.60,87.10 480.80,87.40 482.00,88.00 483.20,89.30 484.40,90.70 485.20,91.70 486.00,92.60 486.80,93.90 487.50,95.30 488.40,96.60 489.20,97.90 490.20,97.90 491.20,97.90 492.30,97.90 493.30,97.90 494.30,97.90 495.30,97.90 496.40,97.90 497.40,97.90 498.40,97.90 499.40,97.90 500.50,97.90 501.50,97.90 502.50,97.90 503.20,97.70 504.00,97.50 504.80,97.30 505.50,97.20 506.20,97.50 507.00,97.80 507.80,97.10 508.60,96.30 509.70,96.20 510.80,96.10 511.90,95.90 512.90,95.80 514.00,95.70 515.00,95.60 516.00,95.40 517.00,95.30 518.00,95.40 519.00,95.50 520.00,95.60 521.00,95.70 522.00,95.80 523.00,95.90 523.90,96.00 524.80,96.20 525.80,96.40 526.70,96.50 527.60,96.60 528.70,96.70 529.80,96.80 530.90,96.90 532.00,97.00 533.00,97.10 534.00,97.20 535.00,97.30 536.00,97.40 537.00,97.50 538.10,97.60 539.20,97.70 540.30,97.70 541.40,97.80 542.40,97.90 543.40,98.00 544.40,98.10" stroke="#4DBEEE" stroke-width="0.35" opacity="0.9"/>
<polyline points="384.30,64.80 384.70,50.80 385.20,37.70 385.60,38.90 386.10,37.30 386.60,33.10 387.10,34.60 387.60,33.40 388.10,31.60 388.70,30.40 389.20,32.80 389.70,30.80 390.20,29.80 390.70,29.00 391.20,29.70 391.70,27.20 392.20,24.60 392.80,26.70 393.30,25.20 393.80,26.60 394.30,25.00 394.80,24.30 395.30,28.40 395.90,25.20 396.40,25.80 396.90,31.10 397.40,28.30 397.90,32.00 398.40,31.20 398.90,32.80 399.40,36.40 399.90,35.80 400.50,37.00 401.00,37.90 401.50,41.60 402.20,42.60 402.60,39.80 403.10,38.90 403.50,37.50 404.10,37.40 404.60,33.70 405.10,33.00 405.60,29.80 406.10,28.60 406.60,31.30 407.00,35.20 407.50,48.00 407.90,35.10 408.30,25.00 408.80,16.50 409.20,13.20 409.90,15.20 410.20,69.50 410.50,15.10 410.90,12.60 411.30,8.70 411.80,9.20 412.30,9.20 412.80,10.00 413.30,12.40 413.70,17.30 414.10,22.10 414.60,42.40 415.00,27.30 415.50,23.00 415.90,20.00 416.40,14.80 416.90,16.30 417.40,16.10 417.90,15.70 418.50,13.00 419.00,19.40 419.50,18.30 420.00,23.20 420.50,24.00 421.00,33.70 421.50,41.30 422.20,55.80 422.80,38.50 423.30,44.60 423.80,75.50 424.20,87.90 424.60,86.50 425.00,84.40 425.50,77.80 426.00,70.30 426.80,39.10 427.60,27.10 428.30,26.70 429.30,28.00 430.40,28.70 431.40,29.10 432.40,30.90 433.40,33.10 434.40,35.50 435.40,39.60 436.30,42.00 437.30,55.40 438.00,74.90 438.80,86.90 439.50,89.30 440.70,86.10 441.50,76.70 442.50,64.50 443.40,60.40 444.30,58.40 445.20,56.50 446.20,56.70 447.30,55.70 448.60,58.70 449.60,62.70 450.40,63.20 451.50,67.70 452.50,76.10 453.90,85.80 455.00,94.00 456.30,98.20 457.30,98.20 458.40,98.20 459.40,98.20 460.40,98.20 461.40,98.20 462.50,98.20 463.50,98.20 464.20,96.30 465.00,94.40 466.30,88.20 467.10,87.00 467.80,85.90 468.60,85.60 469.50,85.20 470.60,85.20 471.80,85.50 472.90,85.80 473.90,85.50 475.00,85.60 476.10,86.00 477.30,86.00 478.50,86.50 479.60,86.90 480.80,87.30 482.00,87.80 483.20,89.30 484.40,90.50 485.20,91.50 486.00,92.70 486.80,93.80 487.50,95.20 488.40,96.50 489.20,97.90 490.20,97.90 491.20,97.90 492.30,97.90 493.30,97.90 494.30,97.90 495.30,97.90 496.40,97.90 497.40,97.90 498.40,97.90 499.40,97.90 500.50,97.90 501.50,97.90 502.50,97.90 503.20,97.70 504.00,97.50 504.80,97.30 505.50,97.20 506.20,97.50 507.00,97.80 507.80,97.00 508.60,96.30 509.70,96.10 510.80,96.00 511.90,95.90 512.90,95.80 514.00,95.70 515.00,95.60 516.00,95.40 517.00,95.30 518.00,95.40 519.00,95.50 520.00,95.60 521.00,95.70 522.00,95.80 523.00,95.90 523.90,96.10 524.80,96.20 525.80,96.30 526.70,96.50 527.60,96.60 528.70,96.70 529.80,96.80 530.90,96.90 532.00,97.00 533.00,97.10 534.00,97.20 535.00,97.30 536.00,97.40 537.00,97.50 538.10,97.60 539.20,97.60 540.30,97.70 541.40,97.80 542.40,97.90 543.40,98.00 544.40,98.10" stroke="#0072BD" stroke-width="0.35" opacity="0.9"/>
<polyline points="384.30,64.70 384.70,52.10 385.20,38.60 385.60,38.20 386.10,37.70 386.60,37.10 387.10,33.10 387.60,34.30 388.10,31.20 388.70,31.90 389.20,28.90 389.70,31.50 390.20,31.20 390.70,30.70 391.20,27.30 391.70,27.50 392.20,28.30 392.80,28.80 393.30,25.10 393.80,22.80 394.30,23.90 394.80,28.30 395.30,29.40 395.90,29.80 396.40,30.10 396.90,32.00 397.40,33.20 397.90,31.30 398.40,31.10 398.90,35.90 399.40,33.90 399.90,37.20 400.50,36.90 401.00,37.90 401.50,39.30 402.20,45.90 402.60,42.90 403.10,39.70 403.50,36.20 404.10,38.00 404.60,35.20 405.10,31.20 405.60,33.30 406.10,30.60 406.60,32.90 407.00,33.40 407.50,47.40 407.90,37.60 408.30,22.70 408.80,18.10 409.20,12.80 409.90,13.30 410.20,69.70 410.50,14.50 410.90,12.70 411.30,12.50 411.80,8.80 412.30,10.40 412.80,13.00 413.30,14.90 413.70,15.60 414.10,20.30 414.60,40.20 415.00,29.50 415.50,25.00 415.90,22.80 416.40,15.70 416.90,18.90 417.40,15.60 417.90,14.10 418.50,14.90 419.00,19.70 419.50,20.40 420.00,20.60 420.50,25.30 421.00,31.80 421.50,39.60 422.20,56.00 422.80,37.50 423.30,45.10 423.80,75.70 424.20,88.30 424.60,86.60 425.00,84.40 425.50,76.70 426.00,70.60 426.80,40.10 427.60,29.40 428.30,27.60 429.30,27.30 430.40,29.70 431.40,31.50 432.40,33.20 433.40,33.90 434.40,36.00 435.40,40.40 436.30,42.80 437.30,54.40 438.00,75.40 438.80,87.00 439.50,89.30 440.70,85.90 441.50,77.00 442.50,63.70 443.40,61.10 444.30,59.80 445.20,58.10 446.20,57.60 447.30,55.60 448.60,59.80 449.60,63.80 450.40,63.50 451.50,68.50 452.50,75.70 453.90,86.30 455.00,94.00 456.30,98.20 457.30,98.20 458.40,98.20 459.40,98.20 460.40,98.20 461.40,98.20 462.50,98.20 463.50,98.20 464.20,96.30 465.00,94.50 466.30,87.90 467.10,87.00 467.80,85.90 468.60,85.90 469.50,85.30 470.60,85.60 471.80,85.60 472.90,86.00 473.90,85.80 475.00,85.80 476.10,86.10 477.30,86.00 478.50,86.30 479.60,86.90 480.80,87.40 482.00,88.00 483.20,89.40 484.40,90.70 485.20,91.50 486.00,92.70 486.80,93.90 487.50,95.30 488.40,96.60 489.20,97.90 490.20,97.90 491.20,97.90 492.30,97.90 493.30,97.90 494.30,97.90 495.30,97.90 496.40,97.90 497.40,97.90 498.40,97.90 499.40,97.90 500.50,97.90 501.50,97.90 502.50,97.90 503.20,97.70 504.00,97.50 504.80,97.30 505.50,97.20 506.20,97.50 507.00,97.80 507.80,97.10 508.60,96.30 509.70,96.20 510.80,96.00 511.90,95.90 512.90,95.90 514.00,95.70 515.00,95.60 516.00,95.50 517.00,95.30 518.00,95.40 519.00,95.50 520.00,95.60 521.00,95.80 522.00,95.80 523.00,95.90 523.90,96.10 524.80,96.20 525.80,96.30 526.70,96.50 527.60,96.60 528.70,96.70 529.80,96.80 530.90,96.90 532.00,97.00 533.00,97.10 534.00,97.20 535.00,97.30 536.00,97.40 537.00,97.50 538.10,97.60 539.20,97.70 540.30,97.70 541.40,97.80 542.40,97.90 543.40,98.00 544.40,98.10" stroke="#0072BD" stroke-width="0.35" opacity="0.9"/>
</g>
<rect x="384.2" y="7.5" width="160.2" height="90.9" fill="none" stroke="#555" stroke-width="0.5"/>
<line x1="390.88" y1="98.4" x2="390.88" y2="97.10000000000001" stroke="#555" stroke-width="0.5"/>
<line x1="390.88" y1="7.5" x2="390.88" y2="8.8" stroke="#555" stroke-width="0.5"/>
<g transform="translate(390.88,103.80) scale(0.1)"><text text-anchor="middle" font-size="35.0" class="tk">500</text></g>
<line x1="429.26" y1="98.4" x2="429.26" y2="97.10000000000001" stroke="#555" stroke-width="0.5"/>
<line x1="429.26" y1="7.5" x2="429.26" y2="8.8" stroke="#555" stroke-width="0.5"/>
<g transform="translate(429.26,103.80) scale(0.1)"><text text-anchor="middle" font-size="35.0" class="tk">1000</text></g>
<line x1="467.64" y1="98.4" x2="467.64" y2="97.10000000000001" stroke="#555" stroke-width="0.5"/>
<line x1="467.64" y1="7.5" x2="467.64" y2="8.8" stroke="#555" stroke-width="0.5"/>
<g transform="translate(467.64,103.80) scale(0.1)"><text text-anchor="middle" font-size="35.0" class="tk">1500</text></g>
<line x1="506.02" y1="98.4" x2="506.02" y2="97.10000000000001" stroke="#555" stroke-width="0.5"/>
<line x1="506.02" y1="7.5" x2="506.02" y2="8.8" stroke="#555" stroke-width="0.5"/>
<g transform="translate(506.02,103.80) scale(0.1)"><text text-anchor="middle" font-size="35.0" class="tk">2000</text></g>
<line x1="544.40" y1="98.4" x2="544.40" y2="97.10000000000001" stroke="#555" stroke-width="0.5"/>
<line x1="544.40" y1="7.5" x2="544.40" y2="8.8" stroke="#555" stroke-width="0.5"/>
<g transform="translate(544.40,103.80) scale(0.1)"><text text-anchor="middle" font-size="35.0" class="tk">2500</text></g>
<line x1="384.2" y1="98.40" x2="385.5" y2="98.40" stroke="#555" stroke-width="0.5"/>
<line x1="544.4" y1="98.40" x2="543.1" y2="98.40" stroke="#555" stroke-width="0.5"/>
<g transform="translate(382.50,100.60) scale(0.1)"><text text-anchor="end" font-size="37.0" class="tk">0</text></g>
<line x1="384.2" y1="89.55" x2="385.5" y2="89.55" stroke="#555" stroke-width="0.5"/>
<line x1="544.4" y1="89.55" x2="543.1" y2="89.55" stroke="#555" stroke-width="0.5"/>
<g transform="translate(382.50,91.75) scale(0.1)"><text text-anchor="end" font-size="37.0" class="tk">0.005</text></g>
<line x1="384.2" y1="80.70" x2="385.5" y2="80.70" stroke="#555" stroke-width="0.5"/>
<line x1="544.4" y1="80.70" x2="543.1" y2="80.70" stroke="#555" stroke-width="0.5"/>
<g transform="translate(382.50,82.90) scale(0.1)"><text text-anchor="end" font-size="37.0" class="tk">0.01</text></g>
<line x1="384.2" y1="71.85" x2="385.5" y2="71.85" stroke="#555" stroke-width="0.5"/>
<line x1="544.4" y1="71.85" x2="543.1" y2="71.85" stroke="#555" stroke-width="0.5"/>
<g transform="translate(382.50,74.05) scale(0.1)"><text text-anchor="end" font-size="37.0" class="tk">0.015</text></g>
<line x1="384.2" y1="63.00" x2="385.5" y2="63.00" stroke="#555" stroke-width="0.5"/>
<line x1="544.4" y1="63.00" x2="543.1" y2="63.00" stroke="#555" stroke-width="0.5"/>
<g transform="translate(382.50,65.20) scale(0.1)"><text text-anchor="end" font-size="37.0" class="tk">0.02</text></g>
<line x1="384.2" y1="54.15" x2="385.5" y2="54.15" stroke="#555" stroke-width="0.5"/>
<line x1="544.4" y1="54.15" x2="543.1" y2="54.15" stroke="#555" stroke-width="0.5"/>
<g transform="translate(382.50,56.35) scale(0.1)"><text text-anchor="end" font-size="37.0" class="tk">0.025</text></g>
<line x1="384.2" y1="45.30" x2="385.5" y2="45.30" stroke="#555" stroke-width="0.5"/>
<line x1="544.4" y1="45.30" x2="543.1" y2="45.30" stroke="#555" stroke-width="0.5"/>
<g transform="translate(382.50,47.50) scale(0.1)"><text text-anchor="end" font-size="37.0" class="tk">0.03</text></g>
<line x1="384.2" y1="36.45" x2="385.5" y2="36.45" stroke="#555" stroke-width="0.5"/>
<line x1="544.4" y1="36.45" x2="543.1" y2="36.45" stroke="#555" stroke-width="0.5"/>
<g transform="translate(382.50,38.65) scale(0.1)"><text text-anchor="end" font-size="37.0" class="tk">0.035</text></g>
<line x1="384.2" y1="27.60" x2="385.5" y2="27.60" stroke="#555" stroke-width="0.5"/>
<line x1="544.4" y1="27.60" x2="543.1" y2="27.60" stroke="#555" stroke-width="0.5"/>
<g transform="translate(382.50,29.80) scale(0.1)"><text text-anchor="end" font-size="37.0" class="tk">0.04</text></g>
<line x1="384.2" y1="18.75" x2="385.5" y2="18.75" stroke="#555" stroke-width="0.5"/>
<line x1="544.4" y1="18.75" x2="543.1" y2="18.75" stroke="#555" stroke-width="0.5"/>
<g transform="translate(382.50,20.95) scale(0.1)"><text text-anchor="end" font-size="37.0" class="tk">0.045</text></g>
<line x1="384.2" y1="9.90" x2="385.5" y2="9.90" stroke="#555" stroke-width="0.5"/>
<line x1="544.4" y1="9.90" x2="543.1" y2="9.90" stroke="#555" stroke-width="0.5"/>
<g transform="translate(382.50,12.10) scale(0.1)"><text text-anchor="end" font-size="37.0" class="tk">0.05</text></g>
<g transform="translate(464.30,5.90) scale(0.1)"><text text-anchor="middle" font-size="35.0" font-weight="bold">CameoSIM radiance-Concrete ROI (5x5)</text></g>
<g transform="translate(464.30,108.70) scale(0.1)"><text text-anchor="middle" font-size="35.0" class="tk">wavelength (λ) nm</text></g>
<g transform="translate(372.20,52.95) rotate(-90) scale(0.1)"><text text-anchor="middle" font-size="35.0" class="tk">Spectral Radiance W/m² sr nm</text></g>
<clipPath id="cp4"><rect x="18.4" y="116.6" width="160.4" height="86.70000000000002"/></clipPath>
<g clip-path="url(#cp4)" fill="none" stroke-linejoin="round">
<polyline points="18.50,163.40 18.90,152.90 19.50,142.60 20.10,142.50 20.60,142.10 21.10,137.40 21.60,130.70 22.10,131.20 22.70,130.90 23.20,136.00 23.70,131.90 24.20,134.10 24.70,134.50 25.20,134.30 25.70,132.10 26.20,122.80 26.70,123.30 27.30,122.80 27.80,122.20 28.30,129.00 28.80,127.30 29.30,123.10 29.80,121.70 30.40,120.00 30.90,119.50 31.40,129.50 31.90,123.60 32.40,123.20 32.90,125.70 33.50,130.10 34.00,127.10 34.50,131.90 35.00,122.40 35.50,123.60 36.00,127.60 36.50,130.80 37.00,124.20 37.50,128.40 38.10,125.20 38.60,126.00 39.10,130.80 39.60,132.80 40.10,128.20 40.60,127.60 41.00,133.50 41.40,134.60 41.70,138.30 42.10,137.50 42.70,130.90 43.20,122.20 43.60,124.80 44.30,127.10 44.70,159.90 45.10,129.30 45.80,116.50 46.30,126.40 46.80,123.70 47.30,128.80 47.80,126.20 48.50,134.90 48.90,137.00 49.40,133.20 49.90,137.90 50.40,132.30 50.90,125.40 51.40,133.40 52.00,132.90 52.50,129.90 53.00,123.70 53.50,125.40 54.00,132.30 54.50,133.70 55.00,139.90 55.50,141.70 56.00,150.40 56.50,150.10 57.00,157.10 57.50,165.30 57.90,172.70 58.30,178.20 58.80,179.70 59.20,176.70 59.70,162.50 60.20,152.80 61.20,135.20 62.40,126.10 63.50,126.20 64.50,126.60 65.50,128.30 66.50,130.00 67.50,131.10 68.50,134.20 69.50,136.40 70.50,139.60 71.60,150.80 72.60,171.50 73.60,189.80 74.60,187.70 75.60,170.90 76.50,161.00 77.50,158.50 78.50,156.20 79.20,152.00 80.00,149.60 81.00,148.70 81.90,147.60 83.20,151.10 84.50,151.00 85.60,156.50 86.50,163.20 87.50,174.50 88.80,184.50 89.50,195.80 90.20,202.60 91.20,202.60 92.30,202.60 93.30,202.60 94.30,202.60 95.40,202.60 96.40,202.60 97.20,201.30 98.00,199.90 98.80,199.10 99.70,198.30 100.60,194.90 101.40,191.30 102.20,188.70 103.10,186.20 103.90,185.60 104.70,184.60 105.60,184.20 106.40,183.80 107.20,183.50 108.10,183.00 109.20,183.10 110.30,182.90 111.40,182.20 112.50,182.50 113.70,182.50 114.80,182.90 116.00,183.10 117.30,183.60 118.50,184.80 119.80,186.10 120.60,187.90 121.40,189.80 122.20,192.30 123.10,194.80 123.90,197.80 124.80,200.80 125.60,202.60 126.60,202.60 127.50,202.60 128.50,202.60 129.50,202.60 130.50,202.60 131.40,202.60 132.40,202.60 133.40,202.60 134.40,202.60 135.40,202.60 136.30,202.60 137.30,202.60 138.20,201.70 139.00,201.30 139.80,200.90 140.70,200.30 141.50,199.90 142.30,200.60 143.20,201.30 144.10,200.70 144.90,199.90 146.00,199.30 147.10,198.80 148.20,198.20 149.30,198.00 150.40,198.00 151.50,197.80 152.60,197.80 153.80,197.90 154.90,197.90 156.00,198.20 157.10,198.30 158.20,198.50 159.30,198.90 160.50,199.30 161.60,199.60 162.60,199.90 163.60,200.10 164.60,200.40 165.60,200.60 166.60,200.80 167.60,201.00 168.60,201.20 169.60,201.40 170.60,201.60 171.60,201.80 172.60,201.80 173.50,201.90 174.50,202.00 175.40,202.10 176.40,202.10 177.30,202.20 178.30,202.30" stroke="#EDB120" stroke-width="0.3" opacity="0.8"/>
<polyline points="18.50,167.90 18.90,150.90 19.50,143.10 20.10,148.00 20.60,142.20 21.10,142.60 21.60,137.10 22.10,141.50 22.70,141.70 23.20,138.40 23.70,132.50 24.20,141.40 24.70,140.60 25.20,134.00 25.70,130.00 26.20,133.30 26.70,133.50 27.30,128.00 27.80,128.30 28.30,136.40 28.80,126.30 29.30,134.20 29.80,132.70 30.40,126.10 30.90,131.00 31.40,126.80 31.90,134.70 32.40,126.60 32.90,135.40 33.50,136.10 34.00,132.50 34.50,134.70 35.00,132.60 35.50,128.70 36.00,131.30 36.50,139.70 37.00,136.60 37.50,134.20 38.10,135.20 38.60,132.90 39.10,136.50 39.60,141.90 40.10,137.70 40.60,128.40 41.00,136.70 41.40,134.90 41.70,141.30 42.10,136.40 42.70,129.20 43.20,128.30 43.60,130.40 44.30,128.30 44.70,163.20 45.10,128.30 45.80,131.00 46.30,124.10 46.80,125.10 47.30,129.70 47.80,134.10 48.50,141.70 48.90,137.80 49.40,142.20 49.90,139.40 50.40,142.10 50.90,140.00 51.40,138.40 52.00,129.90 52.50,136.20 53.00,127.80 53.50,134.00 54.00,134.00 54.50,138.90 55.00,140.30 55.50,149.70 56.00,151.50 56.50,152.00 57.00,165.10 57.50,169.60 57.90,176.80 58.30,182.30 58.80,181.60 59.20,179.90 59.70,165.50 60.20,156.30 61.20,138.20 62.40,130.30 63.50,129.50 64.50,131.70 65.50,131.60 66.50,133.30 67.50,134.60 68.50,136.40 69.50,139.20 70.50,142.80 71.60,153.70 72.60,172.70 73.60,190.30 74.60,188.30 75.60,172.70 76.50,162.70 77.50,160.80 78.50,157.70 79.20,155.30 80.00,152.20 81.00,150.60 81.90,149.70 83.20,153.50 84.50,153.60 85.60,159.30 86.50,164.80 87.50,175.40 88.80,185.30 89.50,196.20 90.20,202.60 91.20,202.60 92.30,202.60 93.30,202.60 94.30,202.60 95.40,202.60 96.40,202.60 97.20,201.30 98.00,200.10 98.80,199.30 99.70,198.50 100.60,195.20 101.40,192.10 102.20,189.70 103.10,186.90 103.90,186.10 104.70,185.30 105.60,185.00 106.40,184.80 107.20,184.60 108.10,184.30 109.20,184.10 110.30,183.50 111.40,183.30 112.50,183.50 113.70,183.90 114.80,184.00 116.00,184.40 117.30,184.50 118.50,186.00 119.80,187.00 120.60,188.70 121.40,190.30 122.20,192.70 123.10,195.30 123.90,198.10 124.80,201.00 125.60,202.60 126.60,202.60 127.50,202.60 128.50,202.60 129.50,202.60 130.50,202.60 131.40,202.60 132.40,202.60 133.40,202.60 134.40,202.60 135.40,202.60 136.30,202.60 137.30,202.60 138.20,201.80 139.00,201.40 139.80,200.90 140.70,200.50 141.50,200.10 142.30,200.80 143.20,201.50 144.10,200.70 144.90,200.10 146.00,199.60 147.10,199.10 148.20,198.50 149.30,198.40 150.40,198.20 151.50,198.00 152.60,198.10 153.80,198.20 154.90,198.20 156.00,198.40 157.10,198.70 158.20,198.80 159.30,199.20 160.50,199.40 161.60,199.80 162.60,200.10 163.60,200.20 164.60,200.50 165.60,200.70 166.60,201.00 167.60,201.10 168.60,201.30 169.60,201.50 170.60,201.60 171.60,201.80 172.60,201.90 173.50,202.00 174.50,202.00 175.40,202.10 176.40,202.20 177.30,202.20 178.30,202.30" stroke="#D95319" stroke-width="0.3" opacity="0.8"/>
<polyline points="18.50,164.80 18.90,149.40 19.50,138.60 20.10,142.00 20.60,137.30 21.10,133.30 21.60,135.00 22.10,140.30 22.70,133.30 23.20,136.70 23.70,129.50 24.20,130.90 24.70,134.10 25.20,126.50 25.70,128.50 26.20,130.80 26.70,124.30 27.30,123.00 27.80,122.30 28.30,122.00 28.80,124.30 29.30,123.40 29.80,124.40 30.40,125.20 30.90,119.40 31.40,127.50 31.90,131.10 32.40,123.90 32.90,126.90 33.50,126.90 34.00,126.80 34.50,131.20 35.00,132.00 35.50,133.90 36.00,126.00 36.50,125.00 37.00,127.80 37.50,134.70 38.10,125.30 38.60,127.30 39.10,131.90 39.60,138.40 40.10,126.50 40.60,126.50 41.00,129.40 41.40,138.80 41.70,140.00 42.10,138.60 42.70,126.90 43.20,129.30 43.60,125.00 44.30,124.10 44.70,158.70 45.10,124.90 45.80,126.30 46.30,125.20 46.80,122.50 47.30,131.90 47.80,129.90 48.50,128.40 48.90,133.90 49.40,133.00 49.90,139.10 50.40,132.00 50.90,127.70 51.40,127.60 52.00,129.70 52.50,131.70 53.00,133.50 53.50,123.40 54.00,125.60 54.50,135.40 55.00,135.00 55.50,143.10 56.00,146.20 56.50,149.70 57.00,161.50 57.50,167.60 57.90,175.30 58.30,180.10 58.80,180.00 59.20,177.20 59.70,167.00 60.20,153.30 61.20,136.40 62.40,127.20 63.50,127.90 64.50,127.10 65.50,129.30 66.50,130.90 67.50,132.30 68.50,133.60 69.50,136.60 70.50,140.40 71.60,151.10 72.60,171.70 73.60,189.80 74.60,187.70 75.60,171.10 76.50,161.60 77.50,159.00 78.50,155.80 79.20,153.60 80.00,149.50 81.00,149.10 81.90,147.60 83.20,150.90 84.50,150.60 85.60,157.70 86.50,163.00 87.50,174.70 88.80,184.60 89.50,196.00 90.20,202.60 91.20,202.60 92.30,202.60 93.30,202.60 94.30,202.60 95.40,202.60 96.40,202.60 97.20,201.30 98.00,200.00 98.80,199.10 99.70,198.40 100.60,195.00 101.40,191.40 102.20,188.80 103.10,186.30 103.90,185.30 104.70,184.90 105.60,184.10 106.40,183.80 107.20,183.50 108.10,183.20 109.20,183.30 110.30,183.00 111.40,182.80 112.50,182.80 113.70,182.90 114.80,183.00 116.00,183.50 117.30,183.80 118.50,185.00 119.80,186.30 120.60,188.30 121.40,189.90 122.20,192.40 123.10,195.00 123.90,197.90 124.80,200.90 125.60,202.60 126.60,202.60 127.50,202.60 128.50,202.60 129.50,202.60 130.50,202.60 131.40,202.60 132.40,202.60 133.40,202.60 134.40,202.60 135.40,202.60 136.30,202.60 137.30,202.60 138.20,201.80 139.00,201.30 139.80,200.90 140.70,200.40 141.50,199.90 142.30,200.70 143.20,201.40 144.10,200.70 144.90,199.90 146.00,199.40 147.10,198.90 148.20,198.40 149.30,198.20 150.40,197.90 151.50,197.80 152.60,197.90 153.80,198.00 154.90,198.00 156.00,198.20 157.10,198.40 158.20,198.60 159.30,198.90 160.50,199.30 161.60,199.70 162.60,199.90 163.60,200.10 164.60,200.40 165.60,200.60 166.60,200.90 167.60,201.00 168.60,201.20 169.60,201.40 170.60,201.60 171.60,201.80 172.60,201.90 173.50,201.90 174.50,202.00 175.40,202.10 176.40,202.10 177.30,202.20 178.30,202.30" stroke="#77AC30" stroke-width="0.3" opacity="0.8"/>
<polyline points="18.50,163.90 18.90,149.10 19.50,141.10 20.10,145.40 20.60,143.30 21.10,140.00 21.60,138.60 22.10,139.90 22.70,134.00 23.20,140.50 23.70,136.80 24.20,140.00 24.70,131.00 25.20,133.20 25.70,127.70 26.20,136.40 26.70,129.20 27.30,129.90 27.80,135.70 28.30,126.20 28.80,125.20 29.30,134.40 29.80,123.90 30.40,125.60 30.90,127.60 31.40,128.70 31.90,132.40 32.40,135.20 32.90,130.70 33.50,126.50 34.00,134.70 34.50,132.00 35.00,134.50 35.50,130.10 36.00,127.30 36.50,128.50 37.00,135.70 37.50,134.60 38.10,139.60 38.60,133.90 39.10,131.30 39.60,132.40 40.10,138.60 40.60,132.10 41.00,138.80 41.40,137.50 41.70,141.00 42.10,139.10 42.70,126.00 43.20,122.90 43.60,122.90 44.30,135.40 44.70,159.50 45.10,127.10 45.80,121.30 46.30,133.50 46.80,133.60 47.30,132.40 47.80,132.10 48.50,137.50 48.90,143.80 49.40,138.40 49.90,138.30 50.40,135.70 50.90,134.10 51.40,132.70 52.00,130.10 52.50,136.40 53.00,132.10 53.50,135.60 54.00,138.20 54.50,133.30 55.00,142.40 55.50,146.50 56.00,151.80 56.50,154.00 57.00,164.80 57.50,169.10 57.90,177.50 58.30,179.60 58.80,180.70 59.20,176.30 59.70,167.20 60.20,156.00 61.20,138.30 62.40,130.30 63.50,129.10 64.50,130.20 65.50,131.00 66.50,132.90 67.50,133.80 68.50,137.00 69.50,138.90 70.50,142.60 71.60,152.70 72.60,172.40 73.60,190.20 74.60,188.30 75.60,172.10 76.50,162.40 77.50,159.90 78.50,157.10 79.20,154.70 80.00,151.90 81.00,150.80 81.90,149.60 83.20,153.00 84.50,152.90 85.60,159.00 86.50,164.60 87.50,175.50 88.80,185.30 89.50,196.10 90.20,202.60 91.20,202.60 92.30,202.60 93.30,202.60 94.30,202.60 95.40,202.60 96.40,202.60 97.20,201.30 98.00,200.10 98.80,199.30 99.70,198.40 100.60,195.30 101.40,191.80 102.20,189.40 103.10,187.00 103.90,186.20 104.70,185.10 105.60,184.90 106.40,184.60 107.20,184.20 108.10,183.90 109.20,183.80 110.30,183.70 111.40,183.10 112.50,183.60 113.70,183.80 114.80,183.90 116.00,183.80 117.30,184.50 118.50,185.60 119.80,186.90 120.60,188.40 121.40,190.20 122.20,192.70 123.10,195.20 123.90,198.10 124.80,200.90 125.60,202.60 126.60,202.60 127.50,202.60 128.50,202.60 129.50,202.60 130.50,202.60 131.40,202.60 132.40,202.60 133.40,202.60 134.40,202.60 135.40,202.60 136.30,202.60 137.30,202.60 138.20,201.80 139.00,201.40 139.80,200.90 140.70,200.50 141.50,200.10 142.30,200.70 143.20,201.40 144.10,200.70 144.90,200.00 146.00,199.60 147.10,199.00 148.20,198.40 149.30,198.20 150.40,198.10 151.50,197.90 152.60,198.00 153.80,198.10 154.90,198.10 156.00,198.40 157.10,198.60 158.20,198.70 159.30,199.10 160.50,199.40 161.60,199.80 162.60,200.00 163.60,200.20 164.60,200.40 165.60,200.70 166.60,201.00 167.60,201.10 168.60,201.30 169.60,201.50 170.60,201.60 171.60,201.80 172.60,201.90 173.50,202.00 174.50,202.00 175.40,202.10 176.40,202.20 177.30,202.20 178.30,202.30" stroke="#7E2F8E" stroke-width="0.3" opacity="0.8"/>
<polyline points="18.50,161.40 18.90,153.00 19.50,146.80 20.10,142.40 20.60,142.10 21.10,136.20 21.60,136.40 22.10,134.70 22.70,130.70 23.20,132.20 23.70,131.30 24.20,128.60 24.70,128.30 25.20,129.30 25.70,132.80 26.20,129.90 26.70,126.40 27.30,125.40 27.80,123.30 28.30,124.80 28.80,125.30 29.30,130.00 29.80,125.40 30.40,130.50 30.90,124.70 31.40,130.80 31.90,133.00 32.40,122.10 32.90,123.70 33.50,130.90 34.00,134.40 34.50,125.70 35.00,126.60 35.50,134.00 36.00,126.70 36.50,126.90 37.00,130.30 37.50,134.00 38.10,136.80 38.60,137.00 39.10,133.70 39.60,131.60 40.10,130.00 40.60,132.30 41.00,128.50 41.40,139.30 41.70,142.00 42.10,138.10 42.70,133.70 43.20,129.80 43.60,120.80 44.30,133.00 44.70,164.20 45.10,129.90 45.80,126.90 46.30,124.10 46.80,124.10 47.30,125.10 47.80,125.20 48.50,136.40 48.90,136.10 49.40,141.70 49.90,140.60 50.40,139.40 50.90,128.00 51.40,132.90 52.00,127.60 52.50,124.60 53.00,130.40 53.50,132.50 54.00,134.40 54.50,134.10 55.00,139.70 55.50,147.20 56.00,145.10 56.50,152.10 57.00,158.50 57.50,166.90 57.90,173.70 58.30,179.40 58.80,177.80 59.20,176.90 59.70,164.50 60.20,154.00 61.20,137.10 62.40,129.10 63.50,128.60 64.50,128.80 65.50,128.80 66.50,131.00 67.50,131.90 68.50,135.20 69.50,137.40 70.50,141.90 71.60,151.50 72.60,172.00 73.60,190.10 74.60,187.90 75.60,171.70 76.50,161.30 77.50,159.40 78.50,156.20 79.20,153.30 80.00,151.10 81.00,149.10 81.90,147.60 83.20,151.10 84.50,151.40 85.60,157.80 86.50,163.70 87.50,174.70 88.80,184.80 89.50,196.00 90.20,202.60 91.20,202.60 92.30,202.60 93.30,202.60 94.30,202.60 95.40,202.60 96.40,202.60 97.20,201.30 98.00,200.00 98.80,199.10 99.70,198.30 100.60,195.10 101.40,191.50 102.20,189.10 103.10,186.70 103.90,185.60 104.70,185.10 105.60,184.50 106.40,184.00 107.20,184.00 108.10,183.60 109.20,183.10 110.30,183.20 111.40,182.80 112.50,183.10 113.70,182.90 114.80,183.00 116.00,183.80 117.30,183.90 118.50,185.40 119.80,186.80 120.60,188.30 121.40,189.80 122.20,192.50 123.10,195.00 123.90,198.00 124.80,200.90 125.60,202.60 126.60,202.60 127.50,202.60 128.50,202.60 129.50,202.60 130.50,202.60 131.40,202.60 132.40,202.60 133.40,202.60 134.40,202.60 135.40,202.60 136.30,202.60 137.30,202.60 138.20,201.80 139.00,201.30 139.80,200.90 140.70,200.40 141.50,200.00 142.30,200.70 143.20,201.40 144.10,200.70 144.90,200.00 146.00,199.40 147.10,198.90 148.20,198.40 149.30,198.20 150.40,198.10 151.50,197.90 152.60,198.00 153.80,198.00 154.90,198.00 156.00,198.30 157.10,198.50 158.20,198.70 159.30,199.00 160.50,199.40 161.60,199.70 162.60,199.90 163.60,200.10 164.60,200.40 165.60,200.60 166.60,200.90 167.60,201.00 168.60,201.30 169.60,201.40 170.60,201.60 171.60,201.80 172.60,201.90 173.50,201.90 174.50,202.00 175.40,202.10 176.40,202.20 177.30,202.20 178.30,202.30" stroke="#A2142F" stroke-width="0.3" opacity="0.8"/>
<polyline points="18.50,166.00 18.90,155.40 19.50,148.00 20.10,143.80 20.60,144.40 21.10,145.80 21.60,141.10 22.10,135.00 22.70,136.70 23.20,136.60 23.70,133.70 24.20,138.30 24.70,138.50 25.20,132.80 25.70,139.60 26.20,131.10 26.70,137.60 27.30,131.50 27.80,132.10 28.30,128.70 28.80,136.90 29.30,129.20 29.80,127.20 30.40,136.60 30.90,128.60 31.40,133.80 31.90,128.60 32.40,126.10 32.90,138.20 33.50,133.90 34.00,133.20 34.50,127.90 35.00,128.90 35.50,139.60 36.00,138.70 36.50,135.90 37.00,131.70 37.50,132.20 38.10,135.20 38.60,131.40 39.10,133.50 39.60,133.80 40.10,134.10 40.60,136.00 41.00,133.20 41.40,136.10 41.70,142.40 42.10,142.00 42.70,137.70 43.20,132.40 43.60,131.90 44.30,135.20 44.70,166.30 45.10,132.60 45.80,130.30 46.30,132.30 46.80,134.40 47.30,130.90 47.80,138.80 48.50,134.60 48.90,143.60 49.40,137.40 49.90,145.60 50.40,140.10 50.90,133.00 51.40,134.90 52.00,134.80 52.50,128.80 53.00,137.20 53.50,129.10 54.00,135.40 54.50,140.30 55.00,143.70 55.50,148.60 56.00,150.10 56.50,156.50 57.00,163.30 57.50,169.90 57.90,174.70 58.30,181.10 58.80,180.80 59.20,177.40 59.70,167.30 60.20,156.60 61.20,139.30 62.40,131.30 63.50,130.40 64.50,131.90 65.50,132.60 66.50,133.60 67.50,135.40 68.50,137.10 69.50,140.30 70.50,144.30 71.60,153.50 72.60,172.90 73.60,190.30 74.60,188.30 75.60,173.00 76.50,163.40 77.50,160.70 78.50,158.50 79.20,155.40 80.00,152.80 81.00,151.00 81.90,149.80 83.20,153.30 84.50,153.30 85.60,159.00 86.50,165.50 87.50,175.60 88.80,185.70 89.50,196.30 90.20,202.60 91.20,202.60 92.30,202.60 93.30,202.60 94.30,202.60 95.40,202.60 96.40,202.60 97.20,201.30 98.00,200.10 98.80,199.30 99.70,198.60 100.60,195.40 101.40,192.10 102.20,189.70 103.10,187.30 103.90,186.40 104.70,185.60 105.60,185.20 106.40,184.80 107.20,184.50 108.10,184.30 109.20,184.30 110.30,183.80 111.40,183.70 112.50,183.60 113.70,184.10 114.80,184.00 116.00,184.50 117.30,184.70 118.50,185.90 119.80,187.20 120.60,188.80 121.40,190.30 122.20,193.00 123.10,195.30 123.90,198.20 124.80,201.00 125.60,202.60 126.60,202.60 127.50,202.60 128.50,202.60 129.50,202.60 130.50,202.60 131.40,202.60 132.40,202.60 133.40,202.60 134.40,202.60 135.40,202.60 136.30,202.60 137.30,202.60 138.20,201.90 139.00,201.40 139.80,201.00 140.70,200.50 141.50,200.10 142.30,200.80 143.20,201.50 144.10,200.80 144.90,200.10 146.00,199.60 147.10,199.00 148.20,198.60 149.30,198.40 150.40,198.30 151.50,198.00 152.60,198.20 153.80,198.20 154.90,198.20 156.00,198.50 157.10,198.60 158.20,198.90 159.30,199.20 160.50,199.50 161.60,199.80 162.60,200.00 163.60,200.30 164.60,200.50 165.60,200.70 166.60,200.90 167.60,201.10 168.60,201.30 169.60,201.50 170.60,201.70 171.60,201.80 172.60,201.90 173.50,202.00 174.50,202.10 175.40,202.10 176.40,202.20 177.30,202.30 178.30,202.30" stroke="#EDB120" stroke-width="0.3" opacity="0.8"/>
<polyline points="18.50,160.60 18.90,151.30 19.50,141.30 20.10,145.90 20.60,141.20 21.10,139.00 21.60,137.20 22.10,133.40 22.70,136.60 23.20,135.10 23.70,134.90 24.20,132.50 24.70,132.90 25.20,133.90 25.70,134.20 26.20,126.60 26.70,131.80 27.30,127.00 27.80,131.60 28.30,122.70 28.80,131.50 29.30,128.70 29.80,129.20 30.40,122.90 30.90,124.50 31.40,130.50 31.90,131.10 32.40,125.50 32.90,129.50 33.50,133.10 34.00,134.30 34.50,127.60 35.00,128.60 35.50,127.20 36.00,136.00 36.50,131.70 37.00,135.90 37.50,131.40 38.10,135.50 38.60,135.80 39.10,133.10 39.60,138.40 40.10,128.90 40.60,133.70 41.00,135.20 41.40,132.60 41.70,146.00 42.10,137.50 42.70,125.20 43.20,126.10 43.60,121.40 44.30,126.20 44.70,158.30 45.10,135.30 45.80,127.20 46.30,126.40 46.80,128.50 47.30,123.90 47.80,132.00 48.50,130.70 48.90,142.70 49.40,139.00 49.90,137.40 50.40,132.70 50.90,133.00 51.40,127.30 52.00,133.20 52.50,131.50 53.00,133.40 53.50,133.40 54.00,132.40 54.50,132.20 55.00,142.40 55.50,143.80 56.00,149.30 56.50,149.90 57.00,161.50 57.50,167.50 57.90,176.20 58.30,179.40 58.80,180.70 59.20,178.40 59.70,166.00 60.20,155.00 61.20,137.00 62.40,128.80 63.50,128.80 64.50,129.00 65.50,130.20 66.50,131.40 67.50,132.60 68.50,135.80 69.50,137.60 70.50,141.50 71.60,151.40 72.60,172.30 73.60,190.00 74.60,188.10 75.60,172.20 76.50,162.00 77.50,159.20 78.50,157.40 79.20,153.70 80.00,150.60 81.00,149.20 81.90,148.30 83.20,152.40 84.50,151.70 85.60,157.90 86.50,164.20 87.50,174.80 88.80,185.10 89.50,195.90 90.20,202.60 91.20,202.60 92.30,202.60 93.30,202.60 94.30,202.60 95.40,202.60 96.40,202.60 97.20,201.30 98.00,200.00 98.80,199.20 99.70,198.40 100.60,195.10 101.40,191.80 102.20,189.30 103.10,186.80 103.90,185.70 104.70,184.90 105.60,184.60 106.40,184.00 107.20,184.20 108.10,183.80 109.20,183.40 110.30,183.30 111.40,182.80 112.50,183.30 113.70,183.00 114.80,183.30 116.00,183.70 117.30,184.00 118.50,185.50 119.80,186.80 120.60,188.40 121.40,189.90 122.20,192.50 123.10,195.10 123.90,198.00 124.80,200.90 125.60,202.60 126.60,202.60 127.50,202.60 128.50,202.60 129.50,202.60 130.50,202.60 131.40,202.60 132.40,202.60 133.40,202.60 134.40,202.60 135.40,202.60 136.30,202.60 137.30,202.60 138.20,201.80 139.00,201.30 139.80,200.90 140.70,200.50 141.50,200.00 142.30,200.70 143.20,201.40 144.10,200.70 144.90,200.00 146.00,199.50 147.10,199.00 148.20,198.40 149.30,198.20 150.40,198.10 151.50,197.90 152.60,198.00 153.80,198.10 154.90,198.10 156.00,198.30 157.10,198.50 158.20,198.70 159.30,199.00 160.50,199.40 161.60,199.70 162.60,199.90 163.60,200.20 164.60,200.40 165.60,200.70 166.60,200.90 167.60,201.10 168.60,201.30 169.60,201.40 170.60,201.60 171.60,201.80 172.60,201.90 173.50,201.90 174.50,202.00 175.40,202.10 176.40,202.20 177.30,202.20 178.30,202.30" stroke="#D95319" stroke-width="0.3" opacity="0.8"/>
<polyline points="18.50,165.30 18.90,148.90 19.50,145.30 20.10,140.30 20.60,138.30 21.10,135.10 21.60,139.90 22.10,136.50 22.70,132.30 23.20,132.60 23.70,134.00 24.20,131.50 24.70,129.20 25.20,127.10 25.70,130.00 26.20,133.90 26.70,132.90 27.30,126.00 27.80,125.20 28.30,127.60 28.80,124.20 29.30,129.60 29.80,127.30 30.40,127.30 30.90,122.70 31.40,120.50 31.90,129.10 32.40,131.60 32.90,128.90 33.50,123.50 34.00,122.50 34.50,133.80 35.00,130.80 35.50,129.50 36.00,125.10 36.50,129.20 37.00,131.20 37.50,125.30 38.10,128.40 38.60,126.90 39.10,128.90 39.60,128.00 40.10,128.70 40.60,125.00 41.00,131.10 41.40,132.00 41.70,138.30 42.10,129.10 42.70,122.20 43.20,123.20 43.60,123.70 44.30,129.90 44.70,161.30 45.10,123.70 45.80,122.20 46.30,120.60 46.80,122.20 47.30,131.50 47.80,129.90 48.50,135.50 48.90,132.00 49.40,135.20 49.90,138.70 50.40,134.20 50.90,126.90 51.40,130.00 52.00,126.90 52.50,129.90 53.00,129.10 53.50,125.20 54.00,134.20 54.50,131.40 55.00,134.40 55.50,137.80 56.00,147.30 56.50,151.80 57.00,157.30 57.50,166.90 57.90,172.70 58.30,180.20 58.80,179.80 59.20,175.00 59.70,168.40 60.20,153.80 61.20,136.40 62.40,127.40 63.50,127.20 64.50,128.20 65.50,129.00 66.50,130.80 67.50,131.20 68.50,134.50 69.50,136.40 70.50,141.70 71.60,151.90 72.60,171.80 73.60,189.90 74.60,187.60 75.60,171.80 76.50,161.40 77.50,158.50 78.50,156.60 79.20,153.60 80.00,150.60 81.00,149.60 81.90,147.70 83.20,151.20 84.50,151.60 85.60,157.30 86.50,163.40 87.50,174.50 88.80,184.90 89.50,195.90 90.20,202.60 91.20,202.60 92.30,202.60 93.30,202.60 94.30,202.60 95.40,202.60 96.40,202.60 97.20,201.30 98.00,200.00 98.80,199.10 99.70,198.30 100.60,194.90 101.40,191.60 102.20,189.20 103.10,186.30 103.90,185.60 104.70,184.60 105.60,184.40 106.40,183.80 107.20,183.50 108.10,183.60 109.20,183.10 110.30,183.20 111.40,182.60 112.50,182.70 113.70,182.90 114.80,183.20 116.00,183.60 117.30,184.10 118.50,185.00 119.80,186.40 120.60,188.00 121.40,189.80 122.20,192.40 123.10,194.90 123.90,197.90 124.80,200.90 125.60,202.60 126.60,202.60 127.50,202.60 128.50,202.60 129.50,202.60 130.50,202.60 131.40,202.60 132.40,202.60 133.40,202.60 134.40,202.60 135.40,202.60 136.30,202.60 137.30,202.60 138.20,201.80 139.00,201.30 139.80,200.90 140.70,200.40 141.50,199.90 142.30,200.70 143.20,201.40 144.10,200.70 144.90,199.90 146.00,199.40 147.10,198.90 148.20,198.40 149.30,198.20 150.40,198.00 151.50,197.80 152.60,197.90 153.80,198.00 154.90,198.00 156.00,198.20 157.10,198.40 158.20,198.60 159.30,198.90 160.50,199.30 161.60,199.70 162.60,199.90 163.60,200.20 164.60,200.40 165.60,200.60 166.60,200.90 167.60,201.10 168.60,201.20 169.60,201.40 170.60,201.60 171.60,201.80 172.60,201.80 173.50,201.90 174.50,202.00 175.40,202.10 176.40,202.10 177.30,202.20 178.30,202.30" stroke="#D95319" stroke-width="0.3" opacity="0.8"/>
<polyline points="18.50,161.10 18.90,154.30 19.50,146.60 20.10,141.70 20.60,145.20 21.10,139.70 21.60,137.60 22.10,138.50 22.70,134.60 23.20,134.70 23.70,135.00 24.20,131.70 24.70,138.40 25.20,137.10 25.70,135.00 26.20,135.30 26.70,126.30 27.30,126.10 27.80,124.90 28.30,130.60 28.80,124.70 29.30,123.30 29.80,125.20 30.40,124.10 30.90,125.80 31.40,134.30 31.90,130.80 32.40,132.00 32.90,129.30 33.50,129.30 34.00,125.70 34.50,133.70 35.00,125.70 35.50,135.50 36.00,128.60 36.50,134.30 37.00,131.90 37.50,131.60 38.10,138.30 38.60,132.70 39.10,132.70 39.60,138.10 40.10,137.60 40.60,129.30 41.00,136.00 41.40,139.50 41.70,146.80 42.10,135.20 42.70,129.70 43.20,129.10 43.60,130.80 44.30,134.50 44.70,161.10 45.10,132.40 45.80,130.60 46.30,122.70 46.80,126.10 47.30,130.90 47.80,126.10 48.50,135.60 48.90,142.50 49.40,139.40 49.90,141.80 50.40,132.70 50.90,130.40 51.40,137.40 52.00,135.70 52.50,128.50 53.00,130.50 53.50,132.80 54.00,133.10 54.50,139.40 55.00,140.20 55.50,143.70 56.00,145.50 56.50,153.30 57.00,161.40 57.50,172.00 57.90,175.20 58.30,180.80 58.80,178.40 59.20,178.00 59.70,164.50 60.20,155.20 61.20,137.10 62.40,128.70 63.50,128.20 64.50,130.40 65.50,129.80 66.50,131.90 67.50,133.30 68.50,136.80 69.50,139.10 70.50,142.00 71.60,152.50 72.60,171.90 73.60,190.00 74.60,188.10 75.60,172.20 76.50,162.20 77.50,159.80 78.50,157.00 79.20,153.80 80.00,151.60 81.00,150.30 81.90,149.10 83.20,152.90 84.50,152.80 85.60,158.70 86.50,164.00 87.50,175.40 88.80,185.10 89.50,196.00 90.20,202.60 91.20,202.60 92.30,202.60 93.30,202.60 94.30,202.60 95.40,202.60 96.40,202.60 97.20,201.30 98.00,200.00 98.80,199.30 99.70,198.50 100.60,195.20 101.40,191.80 102.20,189.30 103.10,187.00 103.90,186.10 104.70,185.10 105.60,184.90 106.40,184.50 107.20,183.90 108.10,184.00 109.20,183.50 110.30,183.60 111.40,183.00 112.50,183.30 113.70,183.50 114.80,183.70 116.00,183.80 117.30,184.40 118.50,185.60 119.80,186.90 120.60,188.60 121.40,190.20 122.20,192.70 123.10,195.10 123.90,198.00 124.80,200.90 125.60,202.60 126.60,202.60 127.50,202.60 128.50,202.60 129.50,202.60 130.50,202.60 131.40,202.60 132.40,202.60 133.40,202.60 134.40,202.60 135.40,202.60 136.30,202.60 137.30,202.60 138.20,201.80 139.00,201.40 139.80,200.90 140.70,200.40 141.50,200.00 142.30,200.70 143.20,201.40 144.10,200.70 144.90,200.00 146.00,199.50 147.10,199.00 148.20,198.40 149.30,198.30 150.40,198.10 151.50,197.90 152.60,198.00 153.80,198.10 154.90,198.10 156.00,198.40 157.10,198.60 158.20,198.80 159.30,199.10 160.50,199.40 161.60,199.70 162.60,200.00 163.60,200.20 164.60,200.40 165.60,200.70 166.60,200.90 167.60,201.10 168.60,201.30 169.60,201.50 170.60,201.60 171.60,201.80 172.60,201.90 173.50,202.00 174.50,202.00 175.40,202.10 176.40,202.20 177.30,202.20 178.30,202.30" stroke="#77AC30" stroke-width="0.3" opacity="0.8"/>
<polyline points="18.50,164.60 18.90,152.40 19.50,142.70 20.10,138.50 20.60,136.60 21.10,141.60 21.60,136.60 22.10,133.90 22.70,139.40 23.20,132.10 23.70,137.60 24.20,133.10 24.70,133.40 25.20,132.00 25.70,127.40 26.20,134.60 26.70,132.50 27.30,123.60 27.80,126.90 28.30,123.30 28.80,131.00 29.30,129.50 29.80,126.20 30.40,123.70 30.90,126.80 31.40,132.40 31.90,128.30 32.40,124.80 32.90,123.90 33.50,133.80 34.00,130.70 34.50,125.00 35.00,127.40 35.50,129.00 36.00,134.60 36.50,131.20 37.00,132.40 37.50,131.80 38.10,132.20 38.60,137.00 39.10,130.00 39.60,135.00 40.10,135.40 40.60,128.10 41.00,134.20 41.40,139.00 41.70,142.60 42.10,140.20 42.70,123.20 43.20,125.70 43.60,127.80 44.30,125.00 44.70,160.70 45.10,135.70 45.80,122.70 46.30,131.00 46.80,128.20 47.30,127.10 47.80,128.60 48.50,130.10 48.90,134.60 49.40,141.40 49.90,137.90 50.40,139.70 50.90,130.20 51.40,132.30 52.00,128.70 52.50,134.50 53.00,129.50 53.50,130.20 54.00,137.10 54.50,132.60 55.00,134.00 55.50,141.10 56.00,144.40 56.50,156.60 57.00,160.30 57.50,168.50 57.90,175.00 58.30,179.60 58.80,179.10 59.20,178.50 59.70,165.80 60.20,154.40 61.20,137.00 62.40,128.50 63.50,128.90 64.50,128.10 65.50,128.90 66.50,132.10 67.50,132.50 68.50,134.60 69.50,137.80 70.50,142.40 71.60,151.50 72.60,171.90 73.60,190.00 74.60,188.10 75.60,172.10 76.50,161.50 77.50,159.40 78.50,156.80 79.20,153.70 80.00,151.00 81.00,149.30 81.90,148.10 83.20,152.40 84.50,151.60 85.60,158.40 86.50,163.90 87.50,174.60 88.80,184.80 89.50,196.00 90.20,202.60 91.20,202.60 92.30,202.60 93.30,202.60 94.30,202.60 95.40,202.60 96.40,202.60 97.20,201.30 98.00,200.00 98.80,199.20 99.70,198.30 100.60,195.10 101.40,191.60 102.20,189.10 103.10,186.50 103.90,185.90 104.70,184.90 105.60,184.70 106.40,184.20 107.20,183.70 108.10,183.80 109.20,183.40 110.30,183.40 111.40,182.80 112.50,183.00 113.70,183.40 114.80,183.10 116.00,183.70 117.30,184.10 118.50,185.60 119.80,186.50 120.60,188.20 121.40,190.00 122.20,192.60 123.10,195.00 123.90,198.00 124.80,200.90 125.60,202.60 126.60,202.60 127.50,202.60 128.50,202.60 129.50,202.60 130.50,202.60 131.40,202.60 132.40,202.60 133.40,202.60 134.40,202.60 135.40,202.60 136.30,202.60 137.30,202.60 138.20,201.80 139.00,201.40 139.80,200.90 140.70,200.40 141.50,200.00 142.30,200.70 143.20,201.40 144.10,200.70 144.90,200.00 146.00,199.50 147.10,198.90 148.20,198.40 149.30,198.20 150.40,198.00 151.50,197.90 152.60,198.00 153.80,198.00 154.90,198.10 156.00,198.20 157.10,198.50 158.20,198.70 159.30,199.00 160.50,199.40 161.60,199.70 162.60,199.90 163.60,200.20 164.60,200.40 165.60,200.60 166.60,200.90 167.60,201.10 168.60,201.20 169.60,201.40 170.60,201.60 171.60,201.80 172.60,201.90 173.50,201.90 174.50,202.00 175.40,202.10 176.40,202.10 177.30,202.20 178.30,202.30" stroke="#A2142F" stroke-width="0.3" opacity="0.8"/>
<polyline points="18.50,163.20 18.90,155.50 19.50,145.90 20.10,141.90 20.60,143.80 21.10,142.50 21.60,136.30 22.10,137.50 22.70,135.00 23.20,142.70 23.70,134.20 24.20,140.00 24.70,137.90 25.20,133.30 25.70,130.70 26.20,131.40 26.70,132.30 27.30,131.30 27.80,129.90 28.30,134.20 28.80,132.00 29.30,130.90 29.80,134.70 30.40,130.60 30.90,127.30 31.40,135.90 31.90,132.30 32.40,125.50 32.90,126.30 33.50,136.00 34.00,127.30 34.50,127.50 35.00,131.20 35.50,136.30 36.00,133.70 36.50,137.70 37.00,133.50 37.50,138.90 38.10,135.90 38.60,139.00 39.10,134.00 39.60,138.50 40.10,130.50 40.60,128.30 41.00,138.60 41.40,134.90 41.70,143.30 42.10,139.90 42.70,127.00 43.20,134.60 43.60,129.90 44.30,130.50 44.70,160.70 45.10,127.60 45.80,127.50 46.30,125.40 46.80,122.70 47.30,125.40 47.80,135.00 48.50,138.10 48.90,137.40 49.40,140.20 49.90,145.00 50.40,133.40 50.90,136.30 51.40,137.90 52.00,135.00 52.50,137.60 53.00,127.20 53.50,136.30 54.00,140.10 54.50,131.90 55.00,143.20 55.50,144.40 56.00,151.60 56.50,156.50 57.00,159.90 57.50,169.00 57.90,176.60 58.30,180.30 58.80,178.50 59.20,176.20 59.70,168.30 60.20,156.50 61.20,137.80 62.40,130.60 63.50,130.30 64.50,130.60 65.50,131.20 66.50,133.00 67.50,135.20 68.50,136.10 69.50,139.90 70.50,143.20 71.60,153.30 72.60,173.00 73.60,190.40 74.60,188.40 75.60,173.00 76.50,163.30 77.50,160.40 78.50,158.10 79.20,155.60 80.00,152.30 81.00,151.30 81.90,149.30 83.20,152.60 84.50,152.60 85.60,158.50 86.50,164.80 87.50,175.80 88.80,185.30 89.50,196.20 90.20,202.60 91.20,202.60 92.30,202.60 93.30,202.60 94.30,202.60 95.40,202.60 96.40,202.60 97.20,201.30 98.00,200.10 98.80,199.30 99.70,198.50 100.60,195.30 101.40,191.90 102.20,189.60 103.10,187.10 103.90,186.10 104.70,185.50 105.60,185.00 106.40,184.50 107.20,184.50 108.10,184.20 109.20,183.90 110.30,183.50 111.40,183.40 112.50,183.40 113.70,183.70 114.80,184.00 116.00,184.00 117.30,184.60 118.50,186.00 119.80,187.00 120.60,188.70 121.40,190.40 122.20,192.80 123.10,195.30 123.90,198.10 124.80,201.00 125.60,202.60 126.60,202.60 127.50,202.60 128.50,202.60 129.50,202.60 130.50,202.60 131.40,202.60 132.40,202.60 133.40,202.60 134.40,202.60 135.40,202.60 136.30,202.60 137.30,202.60 138.20,201.80 139.00,201.40 139.80,201.00 140.70,200.50 141.50,200.10 142.30,200.80 143.20,201.40 144.10,200.70 144.90,200.10 146.00,199.60 147.10,199.00 148.20,198.60 149.30,198.40 150.40,198.10 151.50,198.00 152.60,198.00 153.80,198.10 154.90,198.20 156.00,198.50 157.10,198.60 158.20,198.80 159.30,199.10 160.50,199.40 161.60,199.70 162.60,200.00 163.60,200.30 164.60,200.50 165.60,200.70 166.60,201.00 167.60,201.10 168.60,201.30 169.60,201.50 170.60,201.70 171.60,201.80 172.60,201.90 173.50,202.00 174.50,202.00 175.40,202.10 176.40,202.20 177.30,202.30 178.30,202.30" stroke="#EDB120" stroke-width="0.3" opacity="0.8"/>
<polyline points="18.50,160.50 18.90,147.10 19.50,138.20 20.10,134.20 20.60,134.70 21.10,131.40 21.60,139.30 22.10,134.00 22.70,128.30 23.20,130.70 23.70,127.20 24.20,135.10 24.70,130.50 25.20,132.00 25.70,127.60 26.20,126.20 26.70,132.00 27.30,129.00 27.80,127.60 28.30,119.70 28.80,121.10 29.30,128.00 29.80,120.10 30.40,127.90 30.90,121.90 31.40,128.20 31.90,130.10 32.40,120.00 32.90,128.40 33.50,128.90 34.00,120.40 34.50,122.00 35.00,129.10 35.50,121.70 36.00,126.90 36.50,125.70 37.00,131.50 37.50,123.50 38.10,126.70 38.60,123.90 39.10,125.80 39.60,133.40 40.10,130.20 40.60,129.90 41.00,132.90 41.40,136.50 41.70,142.50 42.10,130.70 42.70,130.60 43.20,120.80 43.60,123.20 44.30,128.90 44.70,157.10 45.10,126.90 45.80,124.10 46.30,122.10 46.80,119.30 47.30,129.70 47.80,121.50 48.50,137.00 48.90,132.30 49.40,131.50 49.90,140.30 50.40,129.20 50.90,130.70 51.40,127.20 52.00,132.70 52.50,131.30 53.00,129.70 53.50,120.70 54.00,132.00 54.50,128.40 55.00,131.50 55.50,136.50 56.00,147.20 56.50,152.30 57.00,159.10 57.50,165.90 57.90,175.30 58.30,178.70 58.80,176.40 59.20,174.00 59.70,167.60 60.20,152.10 61.20,135.20 62.40,126.70 63.50,125.70 64.50,125.90 65.50,127.70 66.50,128.30 67.50,130.50 68.50,133.40 69.50,136.00 70.50,140.30 71.60,150.70 72.60,171.20 73.60,189.50 74.60,187.30 75.60,171.20 76.50,161.00 77.50,157.50 78.50,155.30 79.20,152.40 80.00,149.50 81.00,147.80 81.90,146.30 83.20,150.30 84.50,150.30 85.60,156.90 86.50,162.20 87.50,174.30 88.80,184.40 89.50,195.70 90.20,202.60 91.20,202.60 92.30,202.60 93.30,202.60 94.30,202.60 95.40,202.60 96.40,202.60 97.20,201.20 98.00,199.90 98.80,199.10 99.70,198.20 100.60,194.70 101.40,191.20 102.20,188.50 103.10,186.10 103.90,185.20 104.70,184.30 105.60,184.00 106.40,183.60 107.20,183.30 108.10,183.20 109.20,182.80 110.30,182.30 111.40,182.10 112.50,182.40 113.70,182.60 114.80,182.80 116.00,183.30 117.30,183.60 118.50,184.70 119.80,186.00 120.60,187.90 121.40,189.40 122.20,192.10 123.10,194.80 123.90,197.80 124.80,200.80 125.60,202.60 126.60,202.60 127.50,202.60 128.50,202.60 129.50,202.60 130.50,202.60 131.40,202.60 132.40,202.60 133.40,202.60 134.40,202.60 135.40,202.60 136.30,202.60 137.30,202.60 138.20,201.70 139.00,201.30 139.80,200.80 140.70,200.30 141.50,199.90 142.30,200.60 143.20,201.30 144.10,200.60 144.90,199.90 146.00,199.30 147.10,198.70 148.20,198.20 149.30,198.00 150.40,197.80 151.50,197.70 152.60,197.80 153.80,197.80 154.90,198.00 156.00,198.10 157.10,198.30 158.20,198.50 159.30,198.90 160.50,199.20 161.60,199.60 162.60,199.80 163.60,200.00 164.60,200.30 165.60,200.60 166.60,200.80 167.60,201.00 168.60,201.20 169.60,201.40 170.60,201.60 171.60,201.80 172.60,201.80 173.50,201.90 174.50,202.00 175.40,202.10 176.40,202.10 177.30,202.20 178.30,202.30" stroke="#4DBEEE" stroke-width="0.3" opacity="0.5"/>
<polyline points="18.50,165.60 18.90,156.70 19.50,151.30 20.10,148.50 20.60,145.50 21.10,145.60 21.60,144.30 22.10,145.40 22.70,140.30 23.20,140.60 23.70,137.40 24.20,137.00 24.70,140.30 25.20,131.90 25.70,141.20 26.20,135.60 26.70,136.50 27.30,134.40 27.80,137.30 28.30,128.40 28.80,133.50 29.30,137.30 29.80,130.20 30.40,136.30 30.90,130.70 31.40,133.50 31.90,130.90 32.40,126.80 32.90,128.90 33.50,134.10 34.00,129.90 34.50,132.30 35.00,135.70 35.50,138.70 36.00,133.80 36.50,134.50 37.00,130.30 37.50,130.50 38.10,134.90 38.60,138.10 39.10,133.00 39.60,143.70 40.10,140.40 40.60,132.80 41.00,134.90 41.40,142.70 41.70,145.60 42.10,134.60 42.70,133.90 43.20,131.70 43.60,132.70 44.30,136.70 44.70,160.40 45.10,135.60 45.80,124.20 46.30,124.70 46.80,128.70 47.30,135.10 47.80,129.00 48.50,138.90 48.90,142.50 49.40,143.70 49.90,137.10 50.40,139.30 50.90,138.80 51.40,135.80 52.00,138.90 52.50,132.20 53.00,134.30 53.50,136.00 54.00,132.80 54.50,134.70 55.00,147.50 55.50,146.50 56.00,153.50 56.50,152.80 57.00,161.70 57.50,172.30 57.90,177.50 58.30,183.20 58.80,178.20 59.20,179.10 59.70,168.00 60.20,157.40 61.20,139.20 62.40,131.40 63.50,130.70 64.50,132.50 65.50,132.10 66.50,134.40 67.50,135.40 68.50,138.10 69.50,140.60 70.50,144.10 71.60,153.80 72.60,173.20 73.60,190.40 74.60,188.50 75.60,173.40 76.50,163.70 77.50,161.10 78.50,158.20 79.20,155.30 80.00,152.80 81.00,152.30 81.90,150.10 83.20,153.90 84.50,153.70 85.60,159.40 86.50,165.30 87.50,176.00 88.80,185.50 89.50,196.30 90.20,202.60 91.20,202.60 92.30,202.60 93.30,202.60 94.30,202.60 95.40,202.60 96.40,202.60 97.20,201.40 98.00,200.10 98.80,199.40 99.70,198.50 100.60,195.30 101.40,192.20 102.20,189.70 103.10,187.30 103.90,186.50 104.70,185.70 105.60,185.40 106.40,184.80 107.20,184.50 108.10,184.60 109.20,184.30 110.30,183.80 111.40,183.60 112.50,183.80 113.70,184.20 114.80,184.00 116.00,184.30 117.30,184.60 118.50,186.00 119.80,187.50 120.60,188.80 121.40,190.60 122.20,192.90 123.10,195.30 123.90,198.20 124.80,201.00 125.60,202.60 126.60,202.60 127.50,202.60 128.50,202.60 129.50,202.60 130.50,202.60 131.40,202.60 132.40,202.60 133.40,202.60 134.40,202.60 135.40,202.60 136.30,202.60 137.30,202.60 138.20,201.80 139.00,201.40 139.80,201.00 140.70,200.60 141.50,200.10 142.30,200.80 143.20,201.50 144.10,200.80 144.90,200.10 146.00,199.60 147.10,199.10 148.20,198.60 149.30,198.40 150.40,198.20 151.50,198.00 152.60,198.10 153.80,198.20 154.90,198.30 156.00,198.50 157.10,198.70 158.20,198.80 159.30,199.20 160.50,199.50 161.60,199.80 162.60,200.10 163.60,200.30 164.60,200.50 165.60,200.70 166.60,201.00 167.60,201.20 168.60,201.30 169.60,201.50 170.60,201.70 171.60,201.80 172.60,201.90 173.50,202.00 174.50,202.10 175.40,202.10 176.40,202.20 177.30,202.30 178.30,202.30" stroke="#4DBEEE" stroke-width="0.3" opacity="0.5"/>
<polyline points="18.50,164.50 18.90,152.50 19.50,137.30 20.10,137.40 20.60,140.60 21.10,140.30 21.60,130.10 22.10,132.60 22.70,130.30 23.20,136.90 23.70,131.00 24.20,133.20 24.70,133.80 25.20,131.70 25.70,127.50 26.20,129.50 26.70,128.40 27.30,130.70 27.80,121.80 28.30,123.60 28.80,121.40 29.30,125.50 29.80,120.20 30.40,124.10 30.90,123.00 31.40,123.60 31.90,122.00 32.40,126.50 32.90,130.50 33.50,131.80 34.00,130.30 34.50,132.50 35.00,122.90 35.50,128.00 36.00,125.20 36.50,134.20 37.00,129.20 37.50,124.80 38.10,128.20 38.60,130.70 39.10,131.30 39.60,136.30 40.10,133.20 40.60,130.80 41.00,131.10 41.40,133.70 41.70,137.70 42.10,136.30 42.70,128.40 43.20,126.50 43.60,126.20 44.30,129.90 44.70,161.50 45.10,127.70 45.80,128.40 46.30,117.40 46.80,124.30 47.30,120.00 47.80,125.60 48.50,130.60 48.90,135.80 49.40,131.20 49.90,140.00 50.40,131.10 50.90,132.20 51.40,126.90 52.00,125.20 52.50,130.70 53.00,130.30 53.50,132.30 54.00,132.40 54.50,136.50 55.00,137.60 55.50,136.80 56.00,147.60 56.50,153.10 57.00,159.90 57.50,168.90 57.90,172.70 58.30,179.10 58.80,179.10 59.20,176.90 59.70,164.20 60.20,152.60 61.20,134.80 62.40,127.00 63.50,125.60 64.50,128.10 65.50,128.70 66.50,129.00 67.50,131.20 68.50,134.30 69.50,136.10 70.50,139.60 71.60,150.50 72.60,171.20 73.60,189.80 74.60,187.70 75.60,170.80 76.50,160.90 77.50,157.80 78.50,156.20 79.20,152.90 80.00,150.10 81.00,148.40 81.90,147.60 83.20,150.90 84.50,150.70 85.60,156.90 86.50,163.30 87.50,174.50 88.80,184.30 89.50,195.90 90.20,202.60 91.20,202.60 92.30,202.60 93.30,202.60 94.30,202.60 95.40,202.60 96.40,202.60 97.20,201.20 98.00,199.90 98.80,199.10 99.70,198.30 100.60,194.90 101.40,191.40 102.20,188.80 103.10,186.20 103.90,185.40 104.70,184.40 105.60,184.00 106.40,183.50 107.20,183.50 108.10,183.20 109.20,182.80 110.30,182.80 111.40,182.60 112.50,182.70 113.70,182.90 114.80,182.70 116.00,183.10 117.30,183.80 118.50,185.10 119.80,186.40 120.60,188.00 121.40,189.80 122.20,192.30 123.10,194.90 123.90,197.90 124.80,200.90 125.60,202.60 126.60,202.60 127.50,202.60 128.50,202.60 129.50,202.60 130.50,202.60 131.40,202.60 132.40,202.60 133.40,202.60 134.40,202.60 135.40,202.60 136.30,202.60 137.30,202.60 138.20,201.80 139.00,201.30 139.80,200.80 140.70,200.40 141.50,199.90 142.30,200.60 143.20,201.30 144.10,200.60 144.90,199.90 146.00,199.40 147.10,198.80 148.20,198.30 149.30,198.10 150.40,197.90 151.50,197.70 152.60,197.80 153.80,197.90 154.90,197.90 156.00,198.20 157.10,198.40 158.20,198.60 159.30,199.00 160.50,199.30 161.60,199.60 162.60,199.80 163.60,200.10 164.60,200.40 165.60,200.60 166.60,200.80 167.60,201.00 168.60,201.20 169.60,201.40 170.60,201.60 171.60,201.70 172.60,201.80 173.50,201.90 174.50,202.00 175.40,202.00 176.40,202.10 177.30,202.20 178.30,202.30" stroke="#0072BD" stroke-width="0.3" opacity="0.5"/>
<polyline points="18.50,167.40 18.90,155.40 19.50,142.60 20.10,144.60 20.60,143.60 21.10,142.30 21.60,137.70 22.10,135.20 22.70,138.90 23.20,133.50 23.70,136.90 24.20,141.60 24.70,133.20 25.20,136.60 25.70,139.80 26.20,128.30 26.70,138.60 27.30,131.60 27.80,132.10 28.30,127.00 28.80,132.50 29.30,134.30 29.80,133.40 30.40,134.20 30.90,129.70 31.40,132.50 31.90,128.10 32.40,134.50 32.90,133.70 33.50,135.40 34.00,127.20 34.50,129.20 35.00,129.40 35.50,132.40 36.00,135.30 36.50,138.50 37.00,131.00 37.50,135.20 38.10,140.60 38.60,139.40 39.10,141.10 39.60,135.20 40.10,130.70 40.60,136.40 41.00,132.10 41.40,140.00 41.70,144.50 42.10,134.20 42.70,130.20 43.20,126.40 43.60,130.00 44.30,139.20 44.70,163.10 45.10,132.50 45.80,132.90 46.30,130.40 46.80,131.30 47.30,137.10 47.80,135.90 48.50,139.40 48.90,141.20 49.40,139.00 49.90,142.40 50.40,133.40 50.90,132.20 51.40,129.90 52.00,131.60 52.50,130.90 53.00,132.40 53.50,129.40 54.00,136.80 54.50,136.60 55.00,140.10 55.50,146.00 56.00,152.80 56.50,159.10 57.00,165.90 57.50,171.40 57.90,175.80 58.30,180.80 58.80,179.00 59.20,178.80 59.70,165.80 60.20,157.10 61.20,138.60 62.40,131.80 63.50,130.10 64.50,131.00 65.50,131.20 66.50,132.80 67.50,134.70 68.50,136.80 69.50,139.50 70.50,143.60 71.60,153.80 72.60,172.90 73.60,190.20 74.60,188.50 75.60,172.50 76.50,163.10 77.50,160.80 78.50,158.80 79.20,155.50 80.00,152.90 81.00,151.10 81.90,149.60 83.20,152.90 84.50,153.30 85.60,159.40 86.50,165.50 87.50,175.70 88.80,185.50 89.50,196.20 90.20,202.60 91.20,202.60 92.30,202.60 93.30,202.60 94.30,202.60 95.40,202.60 96.40,202.60 97.20,201.40 98.00,200.10 98.80,199.30 99.70,198.60 100.60,195.40 101.40,192.00 102.20,189.50 103.10,187.00 103.90,186.20 104.70,185.50 105.60,185.20 106.40,184.70 107.20,184.30 108.10,184.30 109.20,184.10 110.30,183.70 111.40,183.30 112.50,183.80 113.70,184.10 114.80,184.10 116.00,184.30 117.30,184.70 118.50,186.10 119.80,187.30 120.60,188.70 121.40,190.30 122.20,192.80 123.10,195.30 123.90,198.20 124.80,201.00 125.60,202.60 126.60,202.60 127.50,202.60 128.50,202.60 129.50,202.60 130.50,202.60 131.40,202.60 132.40,202.60 133.40,202.60 134.40,202.60 135.40,202.60 136.30,202.60 137.30,202.60 138.20,201.90 139.00,201.40 139.80,201.00 140.70,200.60 141.50,200.10 142.30,200.80 143.20,201.40 144.10,200.80 144.90,200.10 146.00,199.50 147.10,199.00 148.20,198.50 149.30,198.30 150.40,198.30 151.50,198.10 152.60,198.20 153.80,198.20 154.90,198.30 156.00,198.40 157.10,198.60 158.20,198.80 159.30,199.20 160.50,199.50 161.60,199.80 162.60,200.00 163.60,200.30 164.60,200.50 165.60,200.70 166.60,201.00 167.60,201.10 168.60,201.30 169.60,201.50 170.60,201.70 171.60,201.80 172.60,201.90 173.50,202.00 174.50,202.10 175.40,202.10 176.40,202.20 177.30,202.30 178.30,202.30" stroke="#4DBEEE" stroke-width="0.3" opacity="0.5"/>
<polyline points="18.50,162.90 18.90,151.90 19.50,142.20 20.10,137.90 20.60,135.50 21.10,136.30 21.60,137.80 22.10,136.80 22.70,130.70 23.20,133.50 23.70,137.90 24.20,133.20 24.70,134.50 25.20,128.70 25.70,134.40 26.20,131.20 26.70,132.60 27.30,127.50 27.80,120.80 28.30,125.70 28.80,127.20 29.30,120.20 29.80,130.20 30.40,126.80 30.90,121.20 31.40,131.30 31.90,122.50 32.40,127.70 32.90,132.30 33.50,130.00 34.00,128.00 34.50,129.20 35.00,128.00 35.50,133.70 36.00,132.10 36.50,123.80 37.00,130.30 37.50,130.30 38.10,135.00 38.60,133.10 39.10,126.60 39.60,130.60 40.10,130.00 40.60,132.80 41.00,131.60 41.40,130.20 41.70,142.50 42.10,132.20 42.70,121.40 43.20,122.80 43.60,121.20 44.30,133.60 44.70,163.30 45.10,125.10 45.80,124.50 46.30,118.80 46.80,119.40 47.30,121.00 47.80,129.90 48.50,127.80 48.90,133.50 49.40,132.40 49.90,140.30 50.40,130.60 50.90,131.50 51.40,124.20 52.00,122.90 52.50,130.80 53.00,128.40 53.50,130.20 54.00,130.40 54.50,134.90 55.00,135.50 55.50,145.50 56.00,149.90 56.50,152.50 57.00,163.00 57.50,168.80 57.90,172.30 58.30,178.70 58.80,179.30 59.20,178.10 59.70,163.70 60.20,153.10 61.20,135.40 62.40,128.10 63.50,127.40 64.50,126.90 65.50,127.70 66.50,130.80 67.50,132.10 68.50,134.20 69.50,137.00 70.50,140.30 71.60,151.10 72.60,171.10 73.60,189.80 74.60,187.70 75.60,171.00 76.50,160.90 77.50,159.00 78.50,156.50 79.20,152.80 80.00,150.10 81.00,148.80 81.90,147.50 83.20,150.80 84.50,150.30 85.60,157.30 86.50,163.10 87.50,174.60 88.80,184.60 89.50,195.80 90.20,202.60 91.20,202.60 92.30,202.60 93.30,202.60 94.30,202.60 95.40,202.60 96.40,202.60 97.20,201.30 98.00,199.90 98.80,199.20 99.70,198.30 100.60,195.00 101.40,191.50 102.20,189.00 103.10,186.50 103.90,185.60 104.70,184.60 105.60,184.10 106.40,183.60 107.20,183.60 108.10,183.30 109.20,182.90 110.30,182.60 111.40,182.40 112.50,182.50 113.70,182.90 114.80,183.10 116.00,183.20 117.30,184.00 118.50,185.10 119.80,186.30 120.60,188.00 121.40,189.80 122.20,192.20 123.10,195.00 123.90,197.90 124.80,200.80 125.60,202.60 126.60,202.60 127.50,202.60 128.50,202.60 129.50,202.60 130.50,202.60 131.40,202.60 132.40,202.60 133.40,202.60 134.40,202.60 135.40,202.60 136.30,202.60 137.30,202.60 138.20,201.80 139.00,201.30 139.80,200.90 140.70,200.40 141.50,199.90 142.30,200.70 143.20,201.40 144.10,200.70 144.90,199.90 146.00,199.40 147.10,198.80 148.20,198.30 149.30,198.20 150.40,198.00 151.50,197.80 152.60,197.80 153.80,197.90 154.90,198.10 156.00,198.20 157.10,198.40 158.20,198.60 159.30,198.90 160.50,199.30 161.60,199.60 162.60,199.90 163.60,200.10 164.60,200.40 165.60,200.60 166.60,200.90 167.60,201.00 168.60,201.20 169.60,201.40 170.60,201.60 171.60,201.80 172.60,201.90 173.50,201.90 174.50,202.00 175.40,202.00 176.40,202.10 177.30,202.20 178.30,202.30" stroke="#4DBEEE" stroke-width="0.3" opacity="0.5"/>
<polyline points="18.50,162.40 18.90,156.50 19.50,143.50 20.10,146.00 20.60,144.40 21.10,146.20 21.60,137.10 22.10,139.00 22.70,134.20 23.20,138.30 23.70,141.00 24.20,139.70 24.70,138.50 25.20,129.90 25.70,137.40 26.20,137.80 26.70,134.10 27.30,136.70 27.80,132.00 28.30,129.40 28.80,128.70 29.30,134.00 29.80,134.30 30.40,129.90 30.90,127.40 31.40,130.60 31.90,129.50 32.40,125.80 32.90,135.40 33.50,134.40 34.00,132.20 34.50,132.00 35.00,128.10 35.50,132.40 36.00,131.50 36.50,134.60 37.00,130.80 37.50,130.60 38.10,137.00 38.60,139.40 39.10,138.60 39.60,138.40 40.10,130.10 40.60,134.80 41.00,133.30 41.40,135.90 41.70,141.30 42.10,141.60 42.70,127.70 43.20,131.30 43.60,132.60 44.30,131.20 44.70,160.40 45.10,131.80 45.80,133.80 46.30,122.40 46.80,129.70 47.30,129.00 47.80,130.40 48.50,140.00 48.90,141.20 49.40,142.20 49.90,144.90 50.40,142.50 50.90,132.60 51.40,135.00 52.00,128.80 52.50,137.20 53.00,134.40 53.50,135.80 54.00,129.50 54.50,133.70 55.00,137.20 55.50,145.50 56.00,153.80 56.50,155.90 57.00,164.60 57.50,172.80 57.90,175.60 58.30,182.20 58.80,181.10 59.20,177.70 59.70,165.40 60.20,155.90 61.20,138.50 62.40,131.30 63.50,129.60 64.50,131.50 65.50,131.50 66.50,133.70 67.50,133.70 68.50,136.90 69.50,139.50 70.50,143.60 71.60,153.00 72.60,172.30 73.60,190.30 74.60,188.40 75.60,172.60 76.50,162.50 77.50,160.50 78.50,157.80 79.20,154.50 80.00,152.30 81.00,150.50 81.90,149.70 83.20,153.50 84.50,153.60 85.60,158.50 86.50,164.90 87.50,175.60 88.80,185.20 89.50,196.10 90.20,202.60 91.20,202.60 92.30,202.60 93.30,202.60 94.30,202.60 95.40,202.60 96.40,202.60 97.20,201.40 98.00,200.10 98.80,199.30 99.70,198.50 100.60,195.30 101.40,191.80 102.20,189.60 103.10,187.20 103.90,186.40 104.70,185.40 105.60,184.90 106.40,184.40 107.20,184.50 108.10,184.00 109.20,184.10 110.30,183.60 111.40,183.50 112.50,183.60 113.70,183.90 114.80,183.70 116.00,184.40 117.30,184.50 118.50,185.90 119.80,187.00 120.60,188.60 121.40,190.30 122.20,192.70 123.10,195.20 123.90,198.10 124.80,201.00 125.60,202.60 126.60,202.60 127.50,202.60 128.50,202.60 129.50,202.60 130.50,202.60 131.40,202.60 132.40,202.60 133.40,202.60 134.40,202.60 135.40,202.60 136.30,202.60 137.30,202.60 138.20,201.80 139.00,201.40 139.80,200.90 140.70,200.50 141.50,200.10 142.30,200.70 143.20,201.40 144.10,200.70 144.90,200.10 146.00,199.50 147.10,199.10 148.20,198.50 149.30,198.40 150.40,198.10 151.50,198.00 152.60,198.00 153.80,198.20 154.90,198.20 156.00,198.40 157.10,198.60 158.20,198.80 159.30,199.10 160.50,199.40 161.60,199.80 162.60,200.00 163.60,200.20 164.60,200.50 165.60,200.70 166.60,201.00 167.60,201.10 168.60,201.30 169.60,201.50 170.60,201.70 171.60,201.80 172.60,201.90 173.50,202.00 174.50,202.00 175.40,202.10 176.40,202.20 177.30,202.20 178.30,202.30" stroke="#0072BD" stroke-width="0.3" opacity="0.5"/>
<polyline points="18.50,162.90 18.90,149.20 19.50,146.90 20.10,142.80 20.60,135.70 21.10,141.30 21.60,141.00 22.10,140.80 22.70,132.20 23.20,138.60 23.70,134.20 24.20,133.70 24.70,129.00 25.20,131.60 25.70,130.00 26.20,134.80 26.70,125.20 27.30,124.80 27.80,125.80 28.30,122.90 28.80,125.20 29.30,123.60 29.80,121.80 30.40,124.50 30.90,131.50 31.40,121.50 31.90,120.60 32.40,130.40 32.90,132.40 33.50,129.70 34.00,133.00 34.50,130.10 35.00,133.70 35.50,132.50 36.00,135.30 36.50,130.80 37.00,132.60 37.50,128.10 38.10,132.30 38.60,135.10 39.10,127.30 39.60,129.00 40.10,128.70 40.60,131.60 41.00,132.20 41.40,134.40 41.70,143.40 42.10,139.00 42.70,127.50 43.20,122.10 43.60,121.20 44.30,124.80 44.70,159.30 45.10,125.90 45.80,119.70 46.30,119.10 46.80,120.60 47.30,127.80 47.80,127.40 48.50,132.20 48.90,132.90 49.40,134.90 49.90,138.00 50.40,137.70 50.90,133.30 51.40,133.20 52.00,127.20 52.50,125.10 53.00,131.90 53.50,127.90 54.00,127.00 54.50,134.80 55.00,142.00 55.50,141.50 56.00,148.80 56.50,155.50 57.00,162.00 57.50,171.10 57.90,176.00 58.30,180.60 58.80,179.90 59.20,178.40 59.70,165.70 60.20,153.50 61.20,135.50 62.40,128.30 63.50,126.70 64.50,129.00 65.50,129.60 66.50,131.30 67.50,132.80 68.50,134.40 69.50,136.70 70.50,141.20 71.60,150.90 72.60,171.60 73.60,189.70 74.60,187.70 75.60,171.50 76.50,161.70 77.50,159.00 78.50,156.40 79.20,152.90 80.00,150.60 81.00,149.30 81.90,147.40 83.20,151.80 84.50,151.20 85.60,157.70 86.50,163.30 87.50,174.50 88.80,184.90 89.50,195.90 90.20,202.60 91.20,202.60 92.30,202.60 93.30,202.60 94.30,202.60 95.40,202.60 96.40,202.60 97.20,201.30 98.00,200.00 98.80,199.10 99.70,198.30 100.60,194.90 101.40,191.70 102.20,189.00 103.10,186.50 103.90,185.60 104.70,184.90 105.60,184.40 106.40,184.00 107.20,183.90 108.10,183.30 109.20,183.30 110.30,183.10 111.40,182.90 112.50,182.90 113.70,182.80 114.80,183.20 116.00,183.70 117.30,184.00 118.50,185.00 119.80,186.60 120.60,188.20 121.40,189.90 122.20,192.40 123.10,195.00 123.90,198.00 124.80,200.80 125.60,202.60 126.60,202.60 127.50,202.60 128.50,202.60 129.50,202.60 130.50,202.60 131.40,202.60 132.40,202.60 133.40,202.60 134.40,202.60 135.40,202.60 136.30,202.60 137.30,202.60 138.20,201.80 139.00,201.30 139.80,200.90 140.70,200.40 141.50,200.00 142.30,200.70 143.20,201.40 144.10,200.70 144.90,199.90 146.00,199.40 147.10,198.90 148.20,198.30 149.30,198.20 150.40,198.00 151.50,197.80 152.60,197.90 153.80,198.00 154.90,198.10 156.00,198.20 157.10,198.40 158.20,198.70 159.30,199.00 160.50,199.30 161.60,199.70 162.60,199.90 163.60,200.20 164.60,200.40 165.60,200.60 166.60,200.90 167.60,201.00 168.60,201.20 169.60,201.40 170.60,201.60 171.60,201.80 172.60,201.80 173.50,201.90 174.50,202.00 175.40,202.10 176.40,202.10 177.30,202.20 178.30,202.30" stroke="#4DBEEE" stroke-width="0.3" opacity="0.5"/>
<polyline points="18.50,165.00 18.90,150.50 19.50,141.10 20.10,138.70 20.60,142.80 21.10,136.70 21.60,133.90 22.10,142.40 22.70,135.20 23.20,134.80 23.70,137.00 24.20,138.30 24.70,138.80 25.20,135.20 25.70,128.30 26.20,133.40 26.70,134.50 27.30,129.60 27.80,131.10 28.30,128.70 28.80,130.20 29.30,131.90 29.80,134.80 30.40,125.20 30.90,126.90 31.40,132.30 31.90,129.60 32.40,128.90 32.90,130.30 33.50,126.10 34.00,128.10 34.50,133.90 35.00,133.80 35.50,131.00 36.00,136.50 36.50,128.00 37.00,138.50 37.50,133.60 38.10,136.50 38.60,134.00 39.10,140.20 39.60,139.20 40.10,128.20 40.60,128.00 41.00,137.20 41.40,137.20 41.70,149.40 42.10,140.80 42.70,133.80 43.20,122.60 43.60,129.20 44.30,134.90 44.70,165.20 45.10,136.50 45.80,121.30 46.30,124.50 46.80,122.30 47.30,125.90 47.80,129.00 48.50,139.40 48.90,143.00 49.40,142.20 49.90,144.50 50.40,140.60 50.90,131.80 51.40,133.40 52.00,138.00 52.50,133.60 53.00,127.20 53.50,127.20 54.00,131.10 54.50,133.60 55.00,136.40 55.50,144.40 56.00,150.90 56.50,154.10 57.00,163.70 57.50,172.40 57.90,176.60 58.30,181.40 58.80,180.80 59.20,179.20 59.70,169.00 60.20,156.10 61.20,137.20 62.40,130.10 63.50,128.90 64.50,129.90 65.50,130.90 66.50,132.80 67.50,134.20 68.50,136.70 69.50,138.70 70.50,142.30 71.60,152.40 72.60,172.60 73.60,190.30 74.60,188.40 75.60,172.40 76.50,162.80 77.50,160.60 78.50,157.90 79.20,155.00 80.00,152.10 81.00,150.30 81.90,149.30 83.20,153.00 84.50,152.40 85.60,159.00 86.50,164.20 87.50,175.70 88.80,185.20 89.50,196.10 90.20,202.60 91.20,202.60 92.30,202.60 93.30,202.60 94.30,202.60 95.40,202.60 96.40,202.60 97.20,201.30 98.00,200.00 98.80,199.30 99.70,198.40 100.60,195.20 101.40,191.90 102.20,189.40 103.10,186.80 103.90,186.20 104.70,185.20 105.60,184.80 106.40,184.40 107.20,184.30 108.10,184.10 109.20,183.80 110.30,183.50 111.40,183.20 112.50,183.60 113.70,183.60 114.80,183.60 116.00,184.20 117.30,184.60 118.50,185.50 119.80,187.10 120.60,188.60 121.40,190.30 122.20,192.80 123.10,195.30 123.90,198.10 124.80,200.90 125.60,202.60 126.60,202.60 127.50,202.60 128.50,202.60 129.50,202.60 130.50,202.60 131.40,202.60 132.40,202.60 133.40,202.60 134.40,202.60 135.40,202.60 136.30,202.60 137.30,202.60 138.20,201.80 139.00,201.40 139.80,200.90 140.70,200.50 141.50,200.00 142.30,200.70 143.20,201.40 144.10,200.70 144.90,200.10 146.00,199.50 147.10,199.00 148.20,198.50 149.30,198.30 150.40,198.20 151.50,198.00 152.60,198.00 153.80,198.10 154.90,198.10 156.00,198.30 157.10,198.50 158.20,198.70 159.30,199.10 160.50,199.40 161.60,199.70 162.60,200.00 163.60,200.20 164.60,200.50 165.60,200.70 166.60,200.90 167.60,201.10 168.60,201.30 169.60,201.50 170.60,201.60 171.60,201.80 172.60,201.90 173.50,201.90 174.50,202.00 175.40,202.10 176.40,202.20 177.30,202.30 178.30,202.30" stroke="#0072BD" stroke-width="0.3" opacity="0.5"/>
<polyline points="18.50,162.00 18.90,150.90 19.50,140.70 20.10,137.50 20.60,143.30 21.10,138.50 21.60,135.90 22.10,134.30 22.70,130.90 23.20,131.80 23.70,130.90 24.20,138.50 24.70,133.90 25.20,127.40 25.70,126.00 26.20,127.10 26.70,131.30 27.30,125.60 27.80,127.70 28.30,125.70 28.80,125.70 29.30,122.60 29.80,124.30 30.40,121.00 30.90,126.60 31.40,126.90 31.90,125.30 32.40,126.80 32.90,133.40 33.50,123.10 34.00,131.20 34.50,129.40 35.00,135.00 35.50,133.60 36.00,125.50 36.50,133.30 37.00,133.40 37.50,127.90 38.10,134.70 38.60,130.20 39.10,132.30 39.60,129.70 40.10,131.80 40.60,131.10 41.00,134.50 41.40,136.10 41.70,147.90 42.10,138.70 42.70,132.00 43.20,128.40 43.60,121.10 44.30,124.60 44.70,162.00 45.10,132.60 45.80,127.60 46.30,123.50 46.80,125.30 47.30,132.10 47.80,129.80 48.50,137.10 48.90,141.20 49.40,134.80 49.90,142.10 50.40,135.70 50.90,129.10 51.40,130.60 52.00,125.70 52.50,131.20 53.00,123.80 53.50,134.40 54.00,127.10 54.50,134.90 55.00,143.60 55.50,145.40 56.00,143.90 56.50,151.50 57.00,159.40 57.50,167.10 57.90,176.90 58.30,181.20 58.80,178.70 59.20,174.90 59.70,164.00 60.20,154.90 61.20,135.70 62.40,128.40 63.50,128.30 64.50,129.50 65.50,129.60 66.50,131.00 67.50,132.60 68.50,135.30 69.50,136.80 70.50,141.60 71.60,151.90 72.60,171.60 73.60,190.00 74.60,187.90 75.60,172.10 76.50,162.00 77.50,158.70 78.50,156.50 79.20,153.60 80.00,150.40 81.00,149.20 81.90,148.20 83.20,151.80 84.50,152.10 85.60,158.20 86.50,164.10 87.50,174.90 88.80,185.10 89.50,195.90 90.20,202.60 91.20,202.60 92.30,202.60 93.30,202.60 94.30,202.60 95.40,202.60 96.40,202.60 97.20,201.30 98.00,200.00 98.80,199.10 99.70,198.40 100.60,195.00 101.40,191.60 102.20,189.30 103.10,186.40 103.90,185.50 104.70,184.80 105.60,184.70 106.40,184.10 107.20,183.70 108.10,183.50 109.20,183.50 110.30,183.20 111.40,183.10 112.50,183.00 113.70,183.30 114.80,183.30 116.00,183.50 117.30,183.90 118.50,185.30 119.80,186.50 120.60,188.40 121.40,189.80 122.20,192.40 123.10,195.00 123.90,197.90 124.80,200.90 125.60,202.60 126.60,202.60 127.50,202.60 128.50,202.60 129.50,202.60 130.50,202.60 131.40,202.60 132.40,202.60 133.40,202.60 134.40,202.60 135.40,202.60 136.30,202.60 137.30,202.60 138.20,201.80 139.00,201.40 139.80,200.90 140.70,200.40 141.50,200.00 142.30,200.70 143.20,201.40 144.10,200.70 144.90,200.00 146.00,199.40 147.10,198.90 148.20,198.40 149.30,198.20 150.40,198.10 151.50,197.90 152.60,197.90 153.80,198.00 154.90,198.00 156.00,198.30 157.10,198.40 158.20,198.70 159.30,199.00 160.50,199.40 161.60,199.70 162.60,200.00 163.60,200.10 164.60,200.40 165.60,200.70 166.60,200.90 167.60,201.10 168.60,201.20 169.60,201.40 170.60,201.60 171.60,201.80 172.60,201.80 173.50,201.90 174.50,202.00 175.40,202.10 176.40,202.10 177.30,202.20 178.30,202.30" stroke="#4DBEEE" stroke-width="0.3" opacity="0.5"/>
<polyline points="18.50,165.00 18.90,151.40 19.50,144.60 20.10,142.50 20.60,139.20 21.10,140.00 21.60,133.70 22.10,138.40 22.70,134.00 23.20,131.90 23.70,134.50 24.20,134.20 24.70,131.30 25.20,131.10 25.70,136.00 26.20,132.50 26.70,134.90 27.30,135.90 27.80,127.40 28.30,131.30 28.80,131.80 29.30,134.30 29.80,134.20 30.40,126.20 30.90,129.80 31.40,129.20 31.90,126.70 32.40,124.30 32.90,127.20 33.50,133.40 34.00,124.80 34.50,134.60 35.00,130.30 35.50,129.90 36.00,134.30 36.50,127.80 37.00,131.30 37.50,130.50 38.10,137.30 38.60,129.80 39.10,136.80 39.60,134.20 40.10,130.30 40.60,132.60 41.00,135.90 41.40,137.90 41.70,139.80 42.10,134.30 42.70,129.70 43.20,126.90 43.60,124.10 44.30,134.00 44.70,164.70 45.10,135.80 45.80,125.60 46.30,125.40 46.80,120.70 47.30,127.60 47.80,127.40 48.50,130.80 48.90,138.90 49.40,139.90 49.90,139.70 50.40,137.80 50.90,130.60 51.40,131.70 52.00,135.90 52.50,125.20 53.00,130.30 53.50,127.70 54.00,132.50 54.50,134.50 55.00,139.10 55.50,148.00 56.00,152.50 56.50,152.40 57.00,162.90 57.50,171.50 57.90,173.80 58.30,180.10 58.80,178.10 59.20,177.60 59.70,169.30 60.20,155.20 61.20,137.90 62.40,129.20 63.50,128.70 64.50,130.20 65.50,131.40 66.50,131.80 67.50,133.00 68.50,135.80 69.50,137.70 70.50,142.80 71.60,152.10 72.60,172.30 73.60,190.10 74.60,188.20 75.60,172.40 76.50,162.20 77.50,159.70 78.50,156.90 79.20,154.20 80.00,151.40 81.00,150.00 81.90,148.80 83.20,152.50 84.50,152.60 85.60,158.10 86.50,164.40 87.50,175.50 88.80,185.30 89.50,196.10 90.20,202.60 91.20,202.60 92.30,202.60 93.30,202.60 94.30,202.60 95.40,202.60 96.40,202.60 97.20,201.30 98.00,200.00 98.80,199.20 99.70,198.50 100.60,195.10 101.40,191.70 102.20,189.20 103.10,186.90 103.90,185.80 104.70,185.10 105.60,184.50 106.40,184.40 107.20,184.00 108.10,183.80 109.20,183.40 110.30,183.50 111.40,183.20 112.50,183.50 113.70,183.30 114.80,183.70 116.00,183.80 117.30,184.50 118.50,185.70 119.80,186.60 120.60,188.50 121.40,190.00 122.20,192.70 123.10,195.20 123.90,198.10 124.80,200.90 125.60,202.60 126.60,202.60 127.50,202.60 128.50,202.60 129.50,202.60 130.50,202.60 131.40,202.60 132.40,202.60 133.40,202.60 134.40,202.60 135.40,202.60 136.30,202.60 137.30,202.60 138.20,201.80 139.00,201.40 139.80,200.90 140.70,200.50 141.50,200.00 142.30,200.70 143.20,201.40 144.10,200.70 144.90,200.00 146.00,199.50 147.10,199.00 148.20,198.40 149.30,198.30 150.40,198.10 151.50,197.90 152.60,198.00 153.80,198.10 154.90,198.10 156.00,198.40 157.10,198.60 158.20,198.70 159.30,199.00 160.50,199.40 161.60,199.70 162.60,200.00 163.60,200.20 164.60,200.40 165.60,200.70 166.60,200.90 167.60,201.10 168.60,201.30 169.60,201.50 170.60,201.60 171.60,201.80 172.60,201.90 173.50,202.00 174.50,202.00 175.40,202.10 176.40,202.20 177.30,202.20 178.30,202.30" stroke="#0072BD" stroke-width="0.3" opacity="0.5"/>
<polyline points="18.50,161.90 18.90,152.70 19.50,144.30 20.10,139.90 20.60,142.70 21.10,138.10 21.60,140.80 22.10,140.00 22.70,136.00 23.20,136.60 23.70,130.80 24.20,138.40 24.70,129.20 25.20,135.40 25.70,133.60 26.20,135.30 26.70,132.30 27.30,123.80 27.80,130.50 28.30,124.50 28.80,122.40 29.30,125.40 29.80,131.40 30.40,128.30 30.90,131.30 31.40,130.70 31.90,130.00 32.40,132.30 32.90,126.70 33.50,129.10 34.00,132.30 34.50,133.00 35.00,134.60 35.50,135.20 36.00,131.80 36.50,136.30 37.00,131.60 37.50,134.90 38.10,129.40 38.60,135.40 39.10,129.80 39.60,129.90 40.10,127.40 40.60,133.00 41.00,127.70 41.40,135.60 41.70,140.10 42.10,135.70 42.70,128.10 43.20,129.80 43.60,122.10 44.30,132.00 44.70,158.90 45.10,128.10 45.80,126.70 46.30,131.60 46.80,128.70 47.30,129.30 47.80,132.30 48.50,134.40 48.90,143.30 49.40,138.80 49.90,134.70 50.40,130.90 50.90,130.70 51.40,129.70 52.00,129.60 52.50,124.00 53.00,126.40 53.50,130.30 54.00,132.30 54.50,129.90 55.00,138.70 55.50,142.80 56.00,150.40 56.50,152.40 57.00,161.50 57.50,166.80 57.90,172.70 58.30,179.00 58.80,177.10 59.20,178.80 59.70,169.20 60.20,155.20 61.20,136.50 62.40,128.90 63.50,128.90 64.50,130.00 65.50,130.40 66.50,132.10 67.50,133.60 68.50,135.10 69.50,138.50 70.50,142.50 71.60,151.90 72.60,172.30 73.60,189.90 74.60,187.90 75.60,171.70 76.50,161.80 77.50,159.30 78.50,157.30 79.20,154.10 80.00,151.20 81.00,149.90 81.90,148.10 83.20,152.10 84.50,151.60 85.60,157.90 86.50,164.40 87.50,175.20 88.80,185.00 89.50,195.90 90.20,202.60 91.20,202.60 92.30,202.60 93.30,202.60 94.30,202.60 95.40,202.60 96.40,202.60 97.20,201.30 98.00,200.00 98.80,199.20 99.70,198.40 100.60,195.10 101.40,191.80 102.20,189.10 103.10,186.60 103.90,185.70 104.70,185.00 105.60,184.70 106.40,184.20 107.20,183.90 108.10,183.90 109.20,183.40 110.30,183.20 111.40,183.10 112.50,183.20 113.70,183.10 114.80,183.30 116.00,183.90 117.30,184.30 118.50,185.40 119.80,186.70 120.60,188.40 121.40,190.00 122.20,192.60 123.10,195.10 123.90,198.00 124.80,200.90 125.60,202.60 126.60,202.60 127.50,202.60 128.50,202.60 129.50,202.60 130.50,202.60 131.40,202.60 132.40,202.60 133.40,202.60 134.40,202.60 135.40,202.60 136.30,202.60 137.30,202.60 138.20,201.80 139.00,201.40 139.80,200.90 140.70,200.40 141.50,200.00 142.30,200.70 143.20,201.40 144.10,200.70 144.90,200.00 146.00,199.40 147.10,198.90 148.20,198.30 149.30,198.20 150.40,198.00 151.50,197.90 152.60,198.00 153.80,198.00 154.90,198.10 156.00,198.30 157.10,198.50 158.20,198.60 159.30,199.00 160.50,199.40 161.60,199.70 162.60,199.90 163.60,200.10 164.60,200.40 165.60,200.60 166.60,200.90 167.60,201.10 168.60,201.20 169.60,201.40 170.60,201.60 171.60,201.80 172.60,201.90 173.50,201.90 174.50,202.00 175.40,202.10 176.40,202.20 177.30,202.20 178.30,202.30" stroke="#2a8fd0" stroke-width="0.3" opacity="0.5"/>
</g>
<rect x="18.4" y="116.6" width="160.4" height="86.70000000000002" fill="none" stroke="#555" stroke-width="0.5"/>
<line x1="25.09" y1="203.3" x2="25.09" y2="202.0" stroke="#555" stroke-width="0.5"/>
<line x1="25.09" y1="116.6" x2="25.09" y2="117.89999999999999" stroke="#555" stroke-width="0.5"/>
<g transform="translate(25.09,208.70) scale(0.1)"><text text-anchor="middle" font-size="35.0" class="tk">500</text></g>
<line x1="63.51" y1="203.3" x2="63.51" y2="202.0" stroke="#555" stroke-width="0.5"/>
<line x1="63.51" y1="116.6" x2="63.51" y2="117.89999999999999" stroke="#555" stroke-width="0.5"/>
<g transform="translate(63.51,208.70) scale(0.1)"><text text-anchor="middle" font-size="35.0" class="tk">1000</text></g>
<line x1="101.94" y1="203.3" x2="101.94" y2="202.0" stroke="#555" stroke-width="0.5"/>
<line x1="101.94" y1="116.6" x2="101.94" y2="117.89999999999999" stroke="#555" stroke-width="0.5"/>
<g transform="translate(101.94,208.70) scale(0.1)"><text text-anchor="middle" font-size="35.0" class="tk">1500</text></g>
<line x1="140.37" y1="203.3" x2="140.37" y2="202.0" stroke="#555" stroke-width="0.5"/>
<line x1="140.37" y1="116.6" x2="140.37" y2="117.89999999999999" stroke="#555" stroke-width="0.5"/>
<g transform="translate(140.37,208.70) scale(0.1)"><text text-anchor="middle" font-size="35.0" class="tk">2000</text></g>
<line x1="178.80" y1="203.3" x2="178.80" y2="202.0" stroke="#555" stroke-width="0.5"/>
<line x1="178.80" y1="116.6" x2="178.80" y2="117.89999999999999" stroke="#555" stroke-width="0.5"/>
<g transform="translate(178.80,208.70) scale(0.1)"><text text-anchor="middle" font-size="35.0" class="tk">2500</text></g>
<line x1="18.4" y1="203.30" x2="19.7" y2="203.30" stroke="#555" stroke-width="0.5"/>
<line x1="178.8" y1="203.30" x2="177.5" y2="203.30" stroke="#555" stroke-width="0.5"/>
<g transform="translate(16.70,205.50) scale(0.1)"><text text-anchor="end" font-size="37.0" class="tk">0</text></g>
<line x1="18.4" y1="193.40" x2="19.7" y2="193.40" stroke="#555" stroke-width="0.5"/>
<line x1="178.8" y1="193.40" x2="177.5" y2="193.40" stroke="#555" stroke-width="0.5"/>
<g transform="translate(16.70,195.60) scale(0.1)"><text text-anchor="end" font-size="37.0" class="tk">0.005</text></g>
<line x1="18.4" y1="183.50" x2="19.7" y2="183.50" stroke="#555" stroke-width="0.5"/>
<line x1="178.8" y1="183.50" x2="177.5" y2="183.50" stroke="#555" stroke-width="0.5"/>
<g transform="translate(16.70,185.70) scale(0.1)"><text text-anchor="end" font-size="37.0" class="tk">0.01</text></g>
<line x1="18.4" y1="173.60" x2="19.7" y2="173.60" stroke="#555" stroke-width="0.5"/>
<line x1="178.8" y1="173.60" x2="177.5" y2="173.60" stroke="#555" stroke-width="0.5"/>
<g transform="translate(16.70,175.80) scale(0.1)"><text text-anchor="end" font-size="37.0" class="tk">0.015</text></g>
<line x1="18.4" y1="163.70" x2="19.7" y2="163.70" stroke="#555" stroke-width="0.5"/>
<line x1="178.8" y1="163.70" x2="177.5" y2="163.70" stroke="#555" stroke-width="0.5"/>
<g transform="translate(16.70,165.90) scale(0.1)"><text text-anchor="end" font-size="37.0" class="tk">0.02</text></g>
<line x1="18.4" y1="153.80" x2="19.7" y2="153.80" stroke="#555" stroke-width="0.5"/>
<line x1="178.8" y1="153.80" x2="177.5" y2="153.80" stroke="#555" stroke-width="0.5"/>
<g transform="translate(16.70,156.00) scale(0.1)"><text text-anchor="end" font-size="37.0" class="tk">0.025</text></g>
<line x1="18.4" y1="143.90" x2="19.7" y2="143.90" stroke="#555" stroke-width="0.5"/>
<line x1="178.8" y1="143.90" x2="177.5" y2="143.90" stroke="#555" stroke-width="0.5"/>
<g transform="translate(16.70,146.10) scale(0.1)"><text text-anchor="end" font-size="37.0" class="tk">0.03</text></g>
<line x1="18.4" y1="134.00" x2="19.7" y2="134.00" stroke="#555" stroke-width="0.5"/>
<line x1="178.8" y1="134.00" x2="177.5" y2="134.00" stroke="#555" stroke-width="0.5"/>
<g transform="translate(16.70,136.20) scale(0.1)"><text text-anchor="end" font-size="37.0" class="tk">0.035</text></g>
<line x1="18.4" y1="124.10" x2="19.7" y2="124.10" stroke="#555" stroke-width="0.5"/>
<line x1="178.8" y1="124.10" x2="177.5" y2="124.10" stroke="#555" stroke-width="0.5"/>
<g transform="translate(16.70,126.30) scale(0.1)"><text text-anchor="end" font-size="37.0" class="tk">0.04</text></g>
<g transform="translate(98.60,115.00) scale(0.1)"><text text-anchor="middle" font-size="35.0" font-weight="bold">GT radiance-Concrete ROI (5x5)</text></g>
<g transform="translate(98.60,213.60) scale(0.1)"><text text-anchor="middle" font-size="35.0" class="tk">wavelength (λ) nm</text></g>
<g transform="translate(6.40,159.95) rotate(-90) scale(0.1)"><text text-anchor="middle" font-size="35.0" class="tk">Spectral Radiance W/m² sr nm</text></g>
<clipPath id="cp5"><rect x="198.5" y="117.2" width="160.8" height="86.10000000000001"/></clipPath>
<g clip-path="url(#cp5)" fill="none" stroke-linejoin="round">
<polyline points="198.60,164.20 199.10,150.30 199.60,139.60 200.30,136.70 200.80,134.00 201.30,131.10 201.80,132.50 202.30,130.10 202.80,129.90 203.30,129.50 203.80,134.30 204.30,134.30 205.10,132.80 205.60,128.10 206.10,127.80 206.70,130.20 207.30,123.90 208.00,123.30 208.60,124.30 209.20,125.70 209.80,129.30 210.30,130.20 210.80,127.60 211.30,130.90 211.80,130.90 212.40,131.70 212.90,133.80 213.50,132.10 214.20,132.70 214.80,131.60 215.40,134.10 216.00,134.70 216.70,136.50 217.20,135.00 217.70,135.40 218.40,137.10 218.80,139.20 219.30,144.90 220.00,136.20 220.40,136.40 220.90,137.80 221.40,138.90 221.90,139.30 222.40,141.00 223.00,138.40 223.50,150.90 223.90,169.60 224.30,150.90 224.80,136.60 225.40,138.10 226.00,142.80 226.60,142.80 227.10,141.20 227.70,144.60 228.20,144.00 228.70,154.00 229.10,162.70 229.70,154.60 230.20,147.60 230.80,149.40 231.30,149.90 231.90,148.70 232.40,145.90 233.10,148.10 233.80,152.00 234.30,152.70 234.70,154.40 235.20,155.90 235.70,154.80 236.20,158.30 236.90,166.60 237.60,179.50 238.20,194.10 238.80,197.90 239.50,194.10 240.30,182.80 240.80,178.50 241.30,173.90 242.30,166.80 243.20,164.90 244.50,165.20 245.50,165.90 246.50,166.70 247.50,167.80 248.50,169.50 249.20,171.00 250.00,172.40 251.00,178.80 251.70,188.50 252.50,195.60 253.30,198.40 254.50,197.10 255.70,183.80 256.50,183.00 257.30,182.10 258.40,181.00 259.50,179.70 260.50,178.30 261.50,177.20 262.80,178.90 263.60,180.10 264.30,181.20 265.80,180.10 267.10,185.20 268.40,191.10 269.80,196.60 270.60,200.20 271.30,201.40 272.10,202.50 272.80,202.30 273.60,202.20 274.50,202.20 275.50,202.20 276.40,202.20 277.40,202.20 278.30,202.20 279.10,201.90 279.90,201.60 280.70,198.20 281.50,194.80 282.30,192.30 283.10,189.70 283.90,189.10 284.70,188.30 285.90,188.90 287.00,189.30 288.20,189.50 289.40,189.80 290.20,189.80 291.00,189.70 292.20,190.50 293.50,191.20 294.70,191.90 295.90,192.50 296.90,193.30 297.90,194.10 299.00,194.70 300.20,195.50 301.40,196.30 302.20,197.60 303.00,199.00 303.80,200.90 304.60,202.70 305.30,203.10 306.30,203.10 307.30,203.10 308.30,203.10 309.30,203.10 310.40,203.10 311.40,203.10 312.40,203.10 313.40,203.10 314.40,203.10 315.40,203.10 316.40,203.10 317.20,201.90 318.00,201.30 318.80,200.70 319.70,201.70 320.50,202.70 321.30,201.90 322.10,201.20 323.20,199.30 324.40,200.50 325.60,199.90 326.80,199.30 328.00,199.30 329.20,199.30 330.10,199.40 331.10,199.50 332.00,199.60 333.00,199.70 333.90,199.80 334.90,199.90 335.80,200.00 336.80,200.20 337.80,200.30 338.70,200.50 339.70,200.60 340.60,200.80 341.60,200.90 342.50,201.10 343.40,201.20 344.40,201.40 345.40,201.50 346.30,201.60 347.30,201.80 348.30,201.90 349.20,202.00 350.10,202.10 351.10,202.20 352.00,202.30 353.00,202.40 354.00,202.50 355.10,202.70 356.20,202.80 357.20,202.90 358.30,203.00 359.30,203.00" stroke="#0072BD" stroke-width="0.5" opacity="0.9"/>
<polyline points="198.60,175.10 199.10,166.60 199.60,160.10 200.30,157.00 200.90,156.30 201.40,153.10 201.90,151.40 202.50,148.00 203.00,147.00 203.50,146.60 204.00,145.90 204.50,145.10 205.00,146.90 205.50,145.20 206.00,146.00 206.50,143.50 207.00,147.60 207.60,143.20 208.10,145.10 208.60,141.40 209.10,141.90 209.60,141.40 210.10,139.20 210.60,143.60 211.10,144.00 211.70,141.30 212.20,144.00 212.70,146.70 213.20,143.70 213.70,144.80 214.20,149.00 214.80,149.80 215.30,152.90 215.80,154.70 216.30,151.90 216.80,152.00 217.30,148.70 217.80,150.00 218.40,151.20 218.90,150.40 219.40,154.40 219.90,151.50 220.40,147.90 221.20,146.70 222.00,152.80 222.60,157.40 223.30,142.30 224.00,133.60 224.70,132.70 225.00,169.10 225.40,142.00 225.60,133.70 226.00,131.80 226.50,131.70 227.20,137.80 227.90,138.80 228.70,140.60 229.20,147.40 229.80,153.10 230.60,147.50 231.30,141.40 231.80,137.50 232.30,139.10 232.80,139.50 233.40,141.70 234.10,143.60 234.90,147.90 235.40,148.40 235.90,153.00 236.50,163.70 237.00,152.20 237.50,156.80 238.00,174.50 238.70,194.20 239.40,189.70 240.10,173.20 240.90,154.30 241.70,145.20 242.90,141.90 243.80,142.70 244.80,143.50 245.70,144.00 246.60,146.20 247.60,147.80 248.50,150.20 249.50,154.80 250.50,160.20 251.30,169.30 252.20,178.10 253.60,196.30 255.00,192.00 256.40,172.60 257.40,171.90 258.30,171.50 259.50,169.30 260.60,167.10 261.90,166.00 262.70,167.50 263.40,169.10 264.80,172.40 266.20,180.50 267.60,189.50 269.00,198.60 270.40,204.20 271.50,204.20 272.50,204.20 273.50,204.20 274.50,204.20 275.50,204.20 276.50,204.20 277.50,202.50 278.50,200.70 280.00,203.70 280.70,200.40 281.50,197.10 282.20,194.30 283.00,191.70 283.70,191.00 284.50,190.40 285.20,190.40 286.00,190.40 286.70,190.90 287.50,191.30 288.20,191.00 289.00,190.70 290.40,190.70 291.20,191.10 292.00,191.20 293.10,191.70 294.20,192.20 295.30,192.90 296.40,193.40 297.50,194.40 298.70,195.30 299.80,195.80 300.90,196.40 301.60,198.00 302.40,199.50 303.10,201.00 303.90,202.40 305.10,203.90 306.10,203.90 307.00,203.90 308.00,203.90 309.00,203.90 310.00,203.90 310.90,203.90 311.90,203.90 312.90,203.90 313.90,203.90 314.80,203.90 315.80,203.90 317.00,203.50 318.10,203.10 318.90,202.60 319.60,202.10 321.00,203.30 322.20,202.30 323.30,201.20 324.10,201.60 324.80,201.90 325.80,201.60 326.80,201.20 327.80,200.90 328.90,200.90 330.00,201.00 331.10,201.00 332.20,201.00 333.20,201.10 334.10,201.20 335.00,201.40 335.90,201.50 336.80,201.60 337.80,201.70 338.80,201.80 339.80,201.90 340.80,202.00 341.80,202.00 342.80,202.10 343.80,202.20 344.80,202.40 345.80,202.50 346.80,202.60 347.80,202.70 348.80,202.90 349.80,202.90 350.80,203.00 351.70,203.10 352.70,203.20 353.70,203.30 354.70,203.40 355.70,203.50 356.70,203.70 357.70,203.80 358.50,203.90 359.30,204.00" stroke="#D95319" stroke-width="0.5" opacity="0.9"/>
<polyline points="198.60,171.90 199.00,157.80 199.50,146.50 200.00,144.30 200.40,145.60 200.90,144.50 201.40,144.10 201.90,142.90 202.40,139.90 203.00,141.90 203.50,139.40 204.00,140.40 204.50,139.50 205.00,138.40 205.50,135.90 206.00,136.30 206.50,138.50 207.10,136.60 207.60,136.50 208.10,132.20 208.60,131.70 209.10,133.00 209.60,134.10 210.20,135.20 210.70,134.90 211.20,136.90 211.70,140.60 212.30,138.90 212.80,141.40 213.30,141.70 213.80,144.00 214.30,145.60 214.90,146.90 215.40,148.00 215.90,149.80 216.60,153.30 217.20,147.80 217.90,145.10 218.40,142.40 219.00,141.70 219.50,141.00 220.00,138.80 220.50,140.30 220.90,139.80 221.40,142.80 221.90,157.60 222.30,145.70 222.70,132.70 223.10,129.80 223.60,124.40 224.30,122.50 224.60,177.10 224.90,125.20 225.70,120.40 226.20,121.70 226.70,121.50 227.20,122.90 227.70,123.10 228.50,132.20 229.00,148.50 229.40,135.40 230.10,132.40 230.80,124.90 231.30,123.00 231.80,127.30 232.40,127.00 232.90,123.50 233.40,124.80 233.90,127.30 234.40,133.20 234.90,135.20 235.40,140.30 235.90,147.60 236.60,162.10 237.20,148.40 237.70,152.50 238.20,181.80 238.60,193.50 239.50,190.30 240.00,182.80 240.50,176.80 241.30,148.70 242.10,137.90 242.80,135.80 243.80,137.00 244.80,138.30 245.90,139.60 246.90,141.20 247.90,143.40 248.90,145.30 249.80,148.20 250.80,150.60 251.80,163.00 252.50,181.60 253.30,192.70 254.00,194.70 255.20,191.70 256.00,183.30 257.00,171.40 257.90,168.50 258.80,166.80 259.70,165.30 260.80,164.70 261.80,163.50 263.10,166.70 264.10,170.40 264.90,171.30 266.10,174.90 267.10,182.50 268.50,191.70 269.60,199.20 270.90,203.10 271.90,203.10 272.90,203.10 274.00,203.10 275.00,203.10 276.00,203.10 277.10,203.10 278.10,203.10 278.80,201.30 279.60,199.60 280.90,193.60 281.70,192.60 282.40,191.70 283.30,191.40 284.10,191.10 285.30,191.20 286.40,191.50 287.50,191.40 288.60,191.50 289.60,191.50 290.80,191.60 291.90,191.80 293.10,192.10 294.30,192.50 295.50,193.10 296.70,193.70 297.90,194.80 299.10,196.00 299.90,197.00 300.70,197.90 301.40,199.10 302.20,200.30 303.00,201.60 303.90,202.80 304.90,202.80 305.90,202.80 307.00,202.80 308.00,202.80 309.00,202.80 310.10,202.80 311.10,202.80 312.10,202.80 313.10,202.80 314.20,202.80 315.20,202.80 316.20,202.80 317.20,202.80 318.00,202.60 318.70,202.50 319.50,202.30 320.30,202.20 321.00,202.50 321.80,202.70 322.60,202.00 323.40,201.30 324.50,201.20 325.60,201.10 326.60,201.00 327.70,200.90 328.80,200.80 329.80,200.70 330.80,200.50 331.80,200.40 332.80,200.50 333.80,200.60 334.80,200.70 335.80,200.80 336.80,200.90 337.80,201.00 338.70,201.10 339.70,201.20 340.60,201.40 341.50,201.50 342.40,201.60 343.50,201.70 344.60,201.80 345.70,201.90 346.90,202.00 347.90,202.10 348.90,202.20 349.90,202.30 350.90,202.40 351.90,202.50 353.00,202.50 354.10,202.60 355.20,202.70 356.30,202.70 357.30,202.80 358.30,202.90 359.30,203.00" stroke="#EDB120" stroke-width="0.5" opacity="0.9"/>
<polyline points="198.60,170.00 199.00,158.40 199.60,151.90 200.20,148.70 200.70,150.20 201.20,149.10 201.70,146.10 202.20,145.80 202.80,146.70 203.30,144.60 203.80,145.20 204.30,143.00 204.80,145.30 205.30,144.00 205.80,140.10 206.30,141.70 206.90,141.60 207.40,138.50 207.90,138.80 208.40,140.70 208.90,138.50 209.40,137.70 210.00,139.90 210.50,137.50 211.00,139.80 211.50,139.10 212.00,140.60 212.50,140.30 213.10,137.20 213.60,140.20 214.10,138.00 214.60,140.80 215.10,140.30 215.60,139.40 216.10,140.50 216.60,143.40 217.10,141.60 217.70,141.60 218.20,143.90 218.80,144.60 219.30,142.00 219.80,144.40 220.30,143.70 220.80,140.40 221.60,146.10 221.90,151.10 222.30,144.90 222.90,141.00 223.30,136.20 223.80,138.30 224.50,141.80 224.90,168.60 225.30,139.70 226.00,138.70 226.50,136.70 227.00,138.80 227.50,139.00 228.00,140.20 228.70,144.80 229.10,147.60 229.60,147.70 230.10,148.10 230.60,144.90 231.10,144.60 231.60,142.00 232.20,142.30 232.70,138.60 233.20,138.20 233.70,142.20 234.20,143.90 234.70,143.60 235.20,148.00 235.70,153.90 236.20,155.80 236.70,159.40 237.20,167.60 237.70,174.30 238.50,183.90 239.00,181.60 239.40,181.00 239.90,172.40 240.40,163.20 241.40,148.00 242.60,141.40 243.70,141.10 244.70,141.70 245.70,142.60 246.70,143.60 247.70,144.40 248.70,146.70 249.70,149.00 250.70,151.90 251.80,160.60 252.80,177.30 253.80,192.30 254.80,190.60 255.80,177.30 256.70,169.00 257.70,166.60 258.70,164.80 259.50,162.30 260.30,159.70 261.20,158.50 262.20,157.80 263.50,160.40 264.80,160.60 265.90,165.50 266.80,170.50 267.80,179.60 269.10,188.00 269.80,197.20 270.50,202.70 271.50,202.70 272.60,202.70 273.60,202.70 274.60,202.70 275.70,202.70 276.70,202.70 277.50,201.60 278.30,200.50 279.20,199.90 280.00,199.20 280.90,196.40 281.70,193.70 282.60,191.60 283.40,189.50 284.20,188.80 285.00,188.00 285.90,187.80 286.70,187.40 287.60,187.20 288.40,187.00 289.50,186.80 290.60,186.50 291.70,186.40 292.90,186.50 294.00,186.60 295.10,186.80 296.00,187.00 296.80,187.20 297.60,187.30 298.50,188.10 299.30,188.70 300.20,189.50 301.00,190.80 301.80,192.20 302.60,194.40 303.50,196.40 304.30,198.90 305.20,201.30 306.00,202.70 306.90,202.70 307.90,202.70 308.90,202.70 309.90,202.70 310.90,202.70 311.80,202.70 312.80,202.70 313.80,202.70 314.80,202.70 315.70,202.70 316.70,202.70 317.70,202.70 318.60,202.00 319.40,201.70 320.20,201.30 321.10,200.90 321.90,200.60 322.80,201.10 323.60,201.70 324.50,201.10 325.30,200.60 326.40,200.10 327.50,199.70 328.60,199.20 329.70,199.10 330.80,198.90 331.90,198.80 333.10,198.90 334.20,198.90 335.30,199.00 336.40,199.10 337.50,199.30 338.60,199.50 339.80,199.70 340.90,200.00 342.10,200.30 343.10,200.50 344.10,200.70 345.10,200.90 346.10,201.10 347.10,201.30 348.10,201.50 349.10,201.60 350.10,201.80 351.10,201.90 352.10,202.00 353.00,202.10 354.00,202.20 355.00,202.20 355.90,202.30 356.90,202.30 357.80,202.40 358.80,202.50" stroke="#7E2F8E" stroke-width="0.5" opacity="0.9"/>
</g>
<rect x="198.5" y="117.2" width="160.8" height="86.10000000000001" fill="none" stroke="#555" stroke-width="0.5"/>
<line x1="205.20" y1="203.3" x2="205.20" y2="202.0" stroke="#555" stroke-width="0.5"/>
<line x1="205.20" y1="117.2" x2="205.20" y2="118.5" stroke="#555" stroke-width="0.5"/>
<g transform="translate(205.20,208.70) scale(0.1)"><text text-anchor="middle" font-size="35.0" class="tk">500</text></g>
<line x1="243.73" y1="203.3" x2="243.73" y2="202.0" stroke="#555" stroke-width="0.5"/>
<line x1="243.73" y1="117.2" x2="243.73" y2="118.5" stroke="#555" stroke-width="0.5"/>
<g transform="translate(243.73,208.70) scale(0.1)"><text text-anchor="middle" font-size="35.0" class="tk">1000</text></g>
<line x1="282.25" y1="203.3" x2="282.25" y2="202.0" stroke="#555" stroke-width="0.5"/>
<line x1="282.25" y1="117.2" x2="282.25" y2="118.5" stroke="#555" stroke-width="0.5"/>
<g transform="translate(282.25,208.70) scale(0.1)"><text text-anchor="middle" font-size="35.0" class="tk">1500</text></g>
<line x1="320.78" y1="203.3" x2="320.78" y2="202.0" stroke="#555" stroke-width="0.5"/>
<line x1="320.78" y1="117.2" x2="320.78" y2="118.5" stroke="#555" stroke-width="0.5"/>
<g transform="translate(320.78,208.70) scale(0.1)"><text text-anchor="middle" font-size="35.0" class="tk">2000</text></g>
<line x1="359.30" y1="203.3" x2="359.30" y2="202.0" stroke="#555" stroke-width="0.5"/>
<line x1="359.30" y1="117.2" x2="359.30" y2="118.5" stroke="#555" stroke-width="0.5"/>
<g transform="translate(359.30,208.70) scale(0.1)"><text text-anchor="middle" font-size="35.0" class="tk">2500</text></g>
<line x1="198.5" y1="203.30" x2="199.8" y2="203.30" stroke="#555" stroke-width="0.5"/>
<line x1="359.3" y1="203.30" x2="358.0" y2="203.30" stroke="#555" stroke-width="0.5"/>
<g transform="translate(196.80,205.50) scale(0.1)"><text text-anchor="end" font-size="37.0" class="tk">0</text></g>
<line x1="198.5" y1="194.76" x2="199.8" y2="194.76" stroke="#555" stroke-width="0.5"/>
<line x1="359.3" y1="194.76" x2="358.0" y2="194.76" stroke="#555" stroke-width="0.5"/>
<g transform="translate(196.80,196.96) scale(0.1)"><text text-anchor="end" font-size="37.0" class="tk">0.005</text></g>
<line x1="198.5" y1="186.22" x2="199.8" y2="186.22" stroke="#555" stroke-width="0.5"/>
<line x1="359.3" y1="186.22" x2="358.0" y2="186.22" stroke="#555" stroke-width="0.5"/>
<g transform="translate(196.80,188.42) scale(0.1)"><text text-anchor="end" font-size="37.0" class="tk">0.01</text></g>
<line x1="198.5" y1="177.68" x2="199.8" y2="177.68" stroke="#555" stroke-width="0.5"/>
<line x1="359.3" y1="177.68" x2="358.0" y2="177.68" stroke="#555" stroke-width="0.5"/>
<g transform="translate(196.80,179.88) scale(0.1)"><text text-anchor="end" font-size="37.0" class="tk">0.015</text></g>
<line x1="198.5" y1="169.14" x2="199.8" y2="169.14" stroke="#555" stroke-width="0.5"/>
<line x1="359.3" y1="169.14" x2="358.0" y2="169.14" stroke="#555" stroke-width="0.5"/>
<g transform="translate(196.80,171.34) scale(0.1)"><text text-anchor="end" font-size="37.0" class="tk">0.02</text></g>
<line x1="198.5" y1="160.60" x2="199.8" y2="160.60" stroke="#555" stroke-width="0.5"/>
<line x1="359.3" y1="160.60" x2="358.0" y2="160.60" stroke="#555" stroke-width="0.5"/>
<g transform="translate(196.80,162.80) scale(0.1)"><text text-anchor="end" font-size="37.0" class="tk">0.025</text></g>
<line x1="198.5" y1="152.06" x2="199.8" y2="152.06" stroke="#555" stroke-width="0.5"/>
<line x1="359.3" y1="152.06" x2="358.0" y2="152.06" stroke="#555" stroke-width="0.5"/>
<g transform="translate(196.80,154.26) scale(0.1)"><text text-anchor="end" font-size="37.0" class="tk">0.03</text></g>
<line x1="198.5" y1="143.52" x2="199.8" y2="143.52" stroke="#555" stroke-width="0.5"/>
<line x1="359.3" y1="143.52" x2="358.0" y2="143.52" stroke="#555" stroke-width="0.5"/>
<g transform="translate(196.80,145.72) scale(0.1)"><text text-anchor="end" font-size="37.0" class="tk">0.035</text></g>
<line x1="198.5" y1="134.98" x2="199.8" y2="134.98" stroke="#555" stroke-width="0.5"/>
<line x1="359.3" y1="134.98" x2="358.0" y2="134.98" stroke="#555" stroke-width="0.5"/>
<g transform="translate(196.80,137.18) scale(0.1)"><text text-anchor="end" font-size="37.0" class="tk">0.04</text></g>
<line x1="198.5" y1="126.44" x2="199.8" y2="126.44" stroke="#555" stroke-width="0.5"/>
<line x1="359.3" y1="126.44" x2="358.0" y2="126.44" stroke="#555" stroke-width="0.5"/>
<g transform="translate(196.80,128.64) scale(0.1)"><text text-anchor="end" font-size="37.0" class="tk">0.045</text></g>
<line x1="198.5" y1="117.90" x2="199.8" y2="117.90" stroke="#555" stroke-width="0.5"/>
<line x1="359.3" y1="117.90" x2="358.0" y2="117.90" stroke="#555" stroke-width="0.5"/>
<g transform="translate(196.80,120.10) scale(0.1)"><text text-anchor="end" font-size="37.0" class="tk">0.05</text></g>
<g transform="translate(278.90,115.60) scale(0.1)"><text text-anchor="middle" font-size="35.0" font-weight="bold">MEAN of ROI of target (Concrete)</text></g>
<g transform="translate(278.90,213.60) scale(0.1)"><text text-anchor="middle" font-size="35.0" class="tk">wavelength (λ) nm</text></g>
<g transform="translate(186.50,160.25) rotate(-90) scale(0.1)"><text text-anchor="middle" font-size="35.0" class="tk">Spectral Radiance W/m² sr nm</text></g>
<rect x="246.4" y="121.1" width="108.8" height="19.7" fill="#fff" stroke="#777" stroke-width="0.5"/>
<line x1="247.9" y1="124.15" x2="258.7" y2="124.15" stroke="#0072BD" stroke-width="0.5" opacity="0.6"/>
<g transform="translate(260.10,125.45) scale(0.1)"><text text-anchor="start" font-size="36.0" class="lg">CHIMES Rad. TIAEM:NRMSE wrt GT:35.4%SAM: 0.23804</text></g>
<line x1="247.9" y1="128.85" x2="258.7" y2="128.85" stroke="#D95319" stroke-width="0.5" opacity="0.6"/>
<g transform="translate(260.10,130.15) scale(0.1)"><text text-anchor="start" font-size="36.0" class="lg">CHIMES Rad. BOAEM:NRMSE wrt GT:18.5%SAM: 0.1184</text></g>
<line x1="247.9" y1="133.55" x2="258.7" y2="133.55" stroke="#EDB120" stroke-width="0.5" opacity="0.6"/>
<g transform="translate(260.10,134.85) scale(0.1)"><text text-anchor="start" font-size="36.0" class="lg">CameoSIM Radiance :NRMSE wrt GT:26.4%SAM: 0.16904</text></g>
<line x1="247.9" y1="138.25" x2="258.7" y2="138.25" stroke="#7E2F8E" stroke-width="0.5" opacity="0.6"/>
<g transform="translate(260.10,139.55) scale(0.1)"><text text-anchor="start" font-size="36.0" class="lg">Ground Truth (GT)</text></g>
<clipPath id="cp6"><rect x="384.5" y="117.5" width="159.89999999999998" height="85.80000000000001"/></clipPath>
<g clip-path="url(#cp6)" fill="none" stroke-linejoin="round">
<polyline points="384.10,184.25 384.37,181.51 385.74,170.55 387.11,163.70 388.48,163.70 389.85,163.01 391.22,161.64 393.27,159.59 395.33,156.85 396.70,157.53 398.07,158.90 399.44,159.59 400.81,160.96 402.18,162.33 403.55,163.70 404.92,165.07 406.29,167.81 407.66,176.03 408.34,167.81 409.71,170.55 411.08,186.99 411.77,170.55 413.82,172.60 415.19,177.40 416.56,175.34 417.93,176.71 419.30,177.40 420.67,182.88 422.04,185.62 423.41,188.36 424.78,191.10 425.18,199.09 426.64,188.91 428.09,186.29 430.27,187.16 432.45,188.62 434.64,191.53 436.82,196.18 438.27,201.27 439.73,196.18 441.18,194.44 444.09,192.98 447.00,192.11 449.18,193.56 450.64,192.98 452.82,195.89 455.00,200.55 456.45,202.29 464.93,201.49 466.59,199.83 469.07,197.35 471.56,196.85 476.52,197.35 481.49,198.18 486.46,199.01 488.94,201.49 489.77,202.32 509.64,201.82 521.23,201.66 545.23,201.99" stroke="#0072BD" stroke-width="0.5" opacity="0.85"/>
<polyline points="384.10,185.62 384.37,182.88 385.74,171.92 387.11,166.44 388.48,165.07 389.85,163.70 391.22,162.33 393.27,159.59 395.33,156.85 396.70,157.53 398.07,158.90 399.44,159.59 400.81,160.96 402.18,162.33 403.55,163.70 404.92,165.07 406.29,167.81 407.66,176.03 408.34,167.81 409.71,170.55 411.08,186.99 411.77,170.55 413.82,172.60 415.19,177.40 416.56,175.34 417.93,176.71 419.30,177.40 420.67,182.88 422.04,185.62 423.41,188.36 424.78,191.10 425.18,199.09 426.64,188.91 428.09,186.73 430.27,187.45 432.45,188.91 434.64,191.82 436.82,196.18 438.27,201.27 439.73,196.18 441.18,194.73 444.09,193.27 447.00,192.55 449.18,194.00 450.64,193.27 452.82,196.18 455.00,200.55 456.45,202.29 464.93,201.99 466.59,200.17 469.07,198.51 476.52,198.18 486.46,199.83 488.94,201.82 489.77,202.32 509.64,202.15 521.23,201.82 545.23,202.15" stroke="#E06030" stroke-width="0.7" opacity="1.0"/>
<polyline points="384.75,201.27 385.18,196.91 386.64,194.00 388.82,193.27 391.73,192.55 394.64,192.11 397.55,192.55 400.45,193.27 403.36,194.00 406.27,195.02 409.18,195.45 410.64,200.55 412.09,195.89 415.00,196.91 417.91,197.64 420.82,198.36 423.73,200.55 425.18,199.09 428.09,199.09 432.45,199.82 436.82,200.84 438.27,202.00 441.18,199.82 447.00,200.55 452.82,200.98 455.73,202.29 458.64,202.29 466.59,201.16 468.25,200.66 476.52,200.66 486.46,201.49 489.77,202.32 545.23,202.32" stroke="#EDB120" stroke-width="0.5" opacity="0.85"/>
<polyline points="384.40,179.40 385.10,172.60 385.70,165.30 386.40,157.40 387.10,159.60 387.80,158.50 388.50,156.80 389.20,152.20 389.80,155.70 390.50,150.50 391.20,150.10 391.90,153.20 392.60,148.20 393.30,147.00 394.00,147.00 394.60,141.80 395.30,149.90 396.00,151.20 396.70,145.10 397.40,150.70 398.10,152.00 398.80,150.60 399.40,151.40 400.10,147.90 400.80,154.20 401.50,154.80 402.20,152.40 402.90,153.00 403.50,150.50 404.20,151.60 404.90,159.50 405.60,159.60 406.30,154.50 407.00,152.50 407.70,161.60 408.30,159.90 409.00,156.20 409.70,154.80 410.40,161.70 411.10,162.30 411.80,159.90 412.50,160.60 413.10,159.70 413.80,164.30 414.50,164.10 415.20,161.00 415.90,163.60 416.60,165.90 417.20,161.80 417.90,157.80 418.60,158.50 419.30,159.80 420.00,160.50 420.70,162.40 421.40,166.40 422.00,168.50 422.70,164.00 423.40,162.40 424.10,167.20 424.80,172.70 425.40,171.70 426.00,167.60 426.50,168.70 427.10,168.10 427.70,167.80 428.30,167.10 428.90,166.30 429.90,166.00 430.90,165.50 432.00,166.20 433.00,166.50 434.40,169.10 435.70,174.70 437.10,184.20 438.10,191.10 438.30,200.80 439.40,191.90 440.50,184.40 441.90,177.40 443.40,174.50 444.50,173.30 445.50,172.10 447.00,172.80 448.50,175.80 449.90,172.90 451.40,174.30 452.80,181.70 454.30,191.80 455.70,200.50 457.20,202.30 458.30,202.30 459.40,202.40 460.50,202.40 461.60,202.50 462.50,202.20 463.30,202.00 464.10,201.30 464.90,200.70 466.20,197.70 467.40,194.80 468.70,193.60 469.90,192.40 471.00,192.10 472.10,191.90 473.20,191.60 474.30,191.50 475.40,191.40 476.50,191.20 477.60,191.30 478.70,191.20 479.80,191.30 480.90,191.70 482.00,192.00 483.10,192.40 484.40,193.30 485.60,194.00 486.90,195.70 488.10,197.30 488.90,199.40 489.80,201.50 490.60,202.30 491.60,202.30 492.70,202.30 493.70,202.30 494.70,202.30 495.80,202.30 496.80,202.30 497.80,202.30 498.90,202.30 499.90,202.30 500.90,202.30 502.00,202.30 503.00,202.30 503.80,201.90 504.70,201.50 505.70,201.30 506.70,201.20 507.60,201.00 508.60,200.80 509.60,200.70 510.70,200.50 511.80,200.30 512.90,200.20 513.90,200.10 514.90,200.00 515.90,200.00 516.90,199.90 517.90,199.80 518.90,199.90 519.90,200.00 520.90,200.00 521.90,200.10 522.90,200.20 523.90,200.30 524.90,200.50 525.90,200.70 526.90,200.80 527.80,201.00 528.80,201.10 529.70,201.10 530.70,201.20 531.60,201.30 532.60,201.40 533.50,201.40 534.50,201.50 535.40,201.50 536.40,201.60 537.30,201.60 538.30,201.70 539.20,201.70 540.10,201.80 541.10,201.80 542.10,201.90 543.20,201.90 544.20,202.00 545.20,202.00" stroke="#7E2F8E" stroke-width="0.5" opacity="0.9"/>
<polygon points="424.60,192.00 424.90,170.00 425.30,150.00 425.90,135.00 426.60,125.00 427.20,119.00 427.70,118.20 428.20,123.00 428.60,138.00 428.90,158.00 429.10,178.00 429.20,192.00" fill="#7E2F8E" stroke="#7E2F8E" stroke-width="0.3" opacity="0.85"/>
</g>
<rect x="384.5" y="117.5" width="159.89999999999998" height="85.80000000000001" fill="none" stroke="#555" stroke-width="0.5"/>
<line x1="391.17" y1="203.3" x2="391.17" y2="202.0" stroke="#555" stroke-width="0.5"/>
<line x1="391.17" y1="117.5" x2="391.17" y2="118.8" stroke="#555" stroke-width="0.5"/>
<g transform="translate(391.17,208.70) scale(0.1)"><text text-anchor="middle" font-size="35.0" class="tk">500</text></g>
<line x1="429.47" y1="203.3" x2="429.47" y2="202.0" stroke="#555" stroke-width="0.5"/>
<line x1="429.47" y1="117.5" x2="429.47" y2="118.8" stroke="#555" stroke-width="0.5"/>
<g transform="translate(429.47,208.70) scale(0.1)"><text text-anchor="middle" font-size="35.0" class="tk">1000</text></g>
<line x1="467.78" y1="203.3" x2="467.78" y2="202.0" stroke="#555" stroke-width="0.5"/>
<line x1="467.78" y1="117.5" x2="467.78" y2="118.8" stroke="#555" stroke-width="0.5"/>
<g transform="translate(467.78,208.70) scale(0.1)"><text text-anchor="middle" font-size="35.0" class="tk">1500</text></g>
<line x1="506.09" y1="203.3" x2="506.09" y2="202.0" stroke="#555" stroke-width="0.5"/>
<line x1="506.09" y1="117.5" x2="506.09" y2="118.8" stroke="#555" stroke-width="0.5"/>
<g transform="translate(506.09,208.70) scale(0.1)"><text text-anchor="middle" font-size="35.0" class="tk">2000</text></g>
<line x1="544.40" y1="203.3" x2="544.40" y2="202.0" stroke="#555" stroke-width="0.5"/>
<line x1="544.40" y1="117.5" x2="544.40" y2="118.8" stroke="#555" stroke-width="0.5"/>
<g transform="translate(544.40,208.70) scale(0.1)"><text text-anchor="middle" font-size="35.0" class="tk">2500</text></g>
<line x1="384.5" y1="203.30" x2="385.8" y2="203.30" stroke="#555" stroke-width="0.5"/>
<line x1="544.4" y1="203.30" x2="543.1" y2="203.30" stroke="#555" stroke-width="0.5"/>
<g transform="translate(382.80,205.50) scale(0.1)"><text text-anchor="end" font-size="37.0" class="tk">0</text></g>
<line x1="384.5" y1="185.60" x2="385.8" y2="185.60" stroke="#555" stroke-width="0.5"/>
<line x1="544.4" y1="185.60" x2="543.1" y2="185.60" stroke="#555" stroke-width="0.5"/>
<g transform="translate(382.80,187.80) scale(0.1)"><text text-anchor="end" font-size="37.0" class="tk">0.5</text></g>
<line x1="384.5" y1="167.90" x2="385.8" y2="167.90" stroke="#555" stroke-width="0.5"/>
<line x1="544.4" y1="167.90" x2="543.1" y2="167.90" stroke="#555" stroke-width="0.5"/>
<g transform="translate(382.80,170.10) scale(0.1)"><text text-anchor="end" font-size="37.0" class="tk">1</text></g>
<line x1="384.5" y1="150.20" x2="385.8" y2="150.20" stroke="#555" stroke-width="0.5"/>
<line x1="544.4" y1="150.20" x2="543.1" y2="150.20" stroke="#555" stroke-width="0.5"/>
<g transform="translate(382.80,152.40) scale(0.1)"><text text-anchor="end" font-size="37.0" class="tk">1.5</text></g>
<line x1="384.5" y1="132.50" x2="385.8" y2="132.50" stroke="#555" stroke-width="0.5"/>
<line x1="544.4" y1="132.50" x2="543.1" y2="132.50" stroke="#555" stroke-width="0.5"/>
<g transform="translate(382.80,134.70) scale(0.1)"><text text-anchor="end" font-size="37.0" class="tk">2</text></g>
<g transform="translate(384.7,116.1) scale(0.1)"><text font-size="35.0">×10<tspan dy="-13" font-size="26">-3</tspan></text></g>
<g transform="translate(464.45,115.90) scale(0.1)"><text text-anchor="middle" font-size="35.0" font-weight="bold">STD DEV of ROI of target (Concrete)</text></g>
<g transform="translate(464.45,213.60) scale(0.1)"><text text-anchor="middle" font-size="35.0" class="tk">wavelength (λ) nm</text></g>
<g transform="translate(374.80,160.40) rotate(-90) scale(0.1)"><text text-anchor="middle" font-size="35.0" class="tk">Spectral Radiance W/m² sr nm</text></g>
<rect x="452.5" y="121.1" width="88.5" height="19.9" fill="#fff" stroke="#777" stroke-width="0.5"/>
<line x1="454.1" y1="124.15" x2="464.8" y2="124.15" stroke="#0072BD" stroke-width="0.5" opacity="0.6"/>
<g transform="translate(466.20,125.45) scale(0.1)"><text text-anchor="start" font-size="36.0" class="lg">CHIMES Rad. TIAEM:NRMSE wrt GT:69.1%</text></g>
<line x1="454.1" y1="128.85" x2="464.8" y2="128.85" stroke="#D95319" stroke-width="0.5" opacity="0.6"/>
<g transform="translate(466.20,130.15) scale(0.1)"><text text-anchor="start" font-size="36.0" class="lg">CHIMES Rad. BOAEM:NRMSE wrt GT:70.6%</text></g>
<line x1="454.1" y1="133.55" x2="464.8" y2="133.55" stroke="#EDB120" stroke-width="0.5" opacity="0.6"/>
<g transform="translate(466.20,134.85) scale(0.1)"><text text-anchor="start" font-size="36.0" class="lg">CameoSIM Radiance :NRMSE wrt GT:126.4%</text></g>
<line x1="454.1" y1="138.25" x2="464.8" y2="138.25" stroke="#7E2F8E" stroke-width="0.5" opacity="0.6"/>
<g transform="translate(466.20,139.55) scale(0.1)"><text text-anchor="start" font-size="36.0" class="lg">Ground Truth (GT)</text></g>
<clipPath id="cp7"><rect x="20.5" y="220.5" width="160.1" height="86.89999999999998"/></clipPath>
<g clip-path="url(#cp7)" fill="none" stroke-linejoin="round">
<polyline points="20.60,290.90 21.20,279.50 22.00,265.60 22.50,261.00 23.00,257.20 23.50,250.90 24.00,248.20 24.80,252.30 25.30,248.90 25.80,247.50 26.40,245.60 27.00,238.60 27.80,233.70 28.50,235.70 29.20,226.60 30.00,230.30 30.80,228.80 31.50,229.40 32.10,218.00 32.70,219.50 33.50,217.00 34.20,221.10 35.00,228.50 35.60,226.60 36.20,226.10 36.90,231.30 37.50,224.10 38.20,230.80 39.00,233.70 39.60,228.30 40.30,235.90 41.00,230.60 41.70,237.20 42.40,238.30 43.00,242.00 43.70,241.70 44.40,245.00 44.90,247.70 45.50,242.60 46.00,249.00 46.70,245.50 47.30,250.40 48.00,245.30 48.70,248.00 49.30,251.20 50.00,253.30 50.70,256.10 51.30,256.90 52.00,262.20 52.70,261.60 53.30,261.10 54.00,266.10 54.70,264.50 55.30,267.10 56.00,271.60 56.70,273.90 57.30,275.60 58.00,278.00 58.60,280.00 59.20,286.00 60.00,292.60 60.50,296.70 61.00,300.40 61.50,299.10 62.00,298.60 62.50,295.50 63.00,292.50 64.00,278.40 65.00,276.10 65.80,276.20 66.50,276.50 67.20,277.20 68.00,278.10 68.80,278.90 69.50,279.60 70.20,281.90 71.00,284.50 71.80,288.00 72.50,291.50 73.50,298.50 74.90,302.50 76.00,298.50 77.20,290.40 77.70,293.00 78.80,291.80 80.00,290.70 81.10,290.10 82.20,289.50 83.30,290.20 84.40,290.60 85.50,291.20 86.60,291.80 87.70,293.40 88.80,295.10 89.90,299.00 91.00,302.90 92.20,305.10 93.30,307.30 94.20,307.40 95.20,307.40 96.10,307.40 97.10,307.50 98.00,307.50 99.00,307.50 99.90,307.60 101.00,305.20 102.10,302.90 103.20,300.70 104.30,298.50 105.50,297.90 106.60,297.30 107.70,297.30 108.80,297.30 109.90,297.40 111.00,297.40 112.10,297.60 113.20,297.90 114.30,298.20 115.40,298.50 116.50,298.80 117.60,299.00 118.80,299.30 119.90,299.50 121.00,300.30 122.10,301.10 123.20,301.80 124.30,303.30 125.40,304.80 126.50,306.20 127.60,307.60 128.60,307.60 129.60,307.60 130.60,307.60 131.60,307.60 132.60,307.60 133.60,307.60 134.60,307.60 135.60,307.60 136.60,307.60 137.60,307.60 138.70,307.20 139.80,306.90 140.90,306.60 142.00,306.20 143.00,306.10 144.00,306.00 145.00,305.90 146.00,305.70 147.00,305.60 148.00,305.50 148.90,305.40 149.90,305.30 150.90,305.10 151.90,305.20 152.90,305.30 153.90,305.40 154.90,305.40 155.80,305.50 156.80,305.60 157.80,305.60 158.80,305.70 159.80,305.80 160.80,305.90 161.80,306.00 162.80,306.10 163.80,306.20 164.80,306.30 165.80,306.40 166.80,306.50 167.80,306.60 168.80,306.70 169.90,306.80 170.90,306.90 171.90,307.00 172.80,307.00 173.80,307.10 174.80,307.20 175.80,307.30 176.80,307.30 177.80,307.40 178.70,307.50 179.70,307.60" stroke="#0072BD" stroke-width="0.5" opacity="0.9"/>
<polyline points="20.60,247.10 21.20,243.50 22.00,238.00 22.50,227.30 23.00,233.60 23.80,233.80 24.50,228.10 25.20,230.30 26.00,224.10 26.80,230.00 27.50,221.90 28.20,227.90 29.00,224.50 29.80,220.30 30.50,222.10 31.20,219.10 32.00,220.90 32.80,227.90 33.50,219.00 34.20,223.30 35.00,227.40 35.60,231.20 36.20,227.30 36.90,230.50 37.50,227.60 38.20,229.80 39.00,228.60 39.60,233.90 40.30,234.20 41.00,236.50 41.70,241.10 42.40,236.30 43.00,243.00 43.70,240.50 44.40,240.50 44.90,243.80 45.50,248.60 46.00,244.20 46.70,246.70 47.30,251.60 48.00,253.70 48.70,252.70 49.30,258.50 50.00,255.20 50.70,259.40 51.30,260.90 52.00,263.10 52.70,263.70 53.30,264.40 54.00,269.50 54.70,270.70 55.30,271.30 56.00,274.10 56.70,275.30 57.30,277.90 58.00,280.80 58.60,283.60 59.20,287.60 60.00,294.30 60.50,297.50 61.00,302.60 61.50,301.60 62.00,300.60 62.50,297.40 63.00,294.40 64.00,280.50 65.00,278.00 65.80,278.40 66.50,278.40 67.20,279.40 68.00,280.00 68.80,280.80 69.50,281.60 70.20,284.00 71.00,286.60 71.80,290.10 72.50,293.50 73.50,300.50 74.90,304.50 76.00,300.50 77.20,292.50 77.70,292.20 78.80,291.00 80.00,289.80 81.10,289.30 82.20,288.80 83.30,289.30 84.40,289.90 85.50,290.50 86.60,291.00 87.70,292.60 88.80,294.30 89.90,298.20 91.00,302.10 92.20,304.30 93.30,306.50 94.20,306.60 95.20,306.60 96.10,306.60 97.10,306.70 98.00,306.70 99.00,306.70 99.90,306.80 101.00,304.40 102.10,302.10 103.20,299.90 104.30,297.70 105.50,297.10 106.60,296.60 107.70,296.50 108.80,296.60 109.90,296.60 111.00,296.60 112.10,296.90 113.20,297.10 114.30,297.40 115.40,297.70 116.50,298.00 117.60,298.20 118.80,298.50 119.90,298.80 121.00,299.50 122.10,300.20 123.20,301.00 124.30,302.50 125.40,304.00 126.50,305.40 127.60,306.80 128.60,306.80 129.60,306.80 130.60,306.80 131.60,306.80 132.60,306.80 133.60,306.80 134.60,306.80 135.60,306.80 136.60,306.80 137.60,306.80 138.70,306.40 139.80,306.10 140.90,305.80 142.00,305.40 143.00,305.30 144.00,305.20 145.00,305.10 146.00,305.00 147.00,304.80 148.00,304.70 148.90,304.60 149.90,304.50 150.90,304.30 151.90,304.40 152.90,304.50 153.90,304.60 154.90,304.60 155.80,304.70 156.80,304.80 157.80,304.80 158.80,304.90 159.80,305.00 160.80,305.10 161.80,305.20 162.80,305.30 163.80,305.40 164.80,305.50 165.80,305.60 166.80,305.70 167.80,305.80 168.80,305.90 169.90,306.00 170.90,306.10 171.90,306.20 172.80,306.20 173.80,306.30 174.80,306.40 175.80,306.50 176.80,306.50 177.80,306.60 178.70,306.70 179.70,306.80" stroke="#D95319" stroke-width="0.5" opacity="0.9"/>
<polyline points="20.60,243.10 21.20,234.60 22.00,228.80 22.50,235.10 23.00,228.60 23.80,229.80 24.50,228.30 25.20,231.50 26.00,230.20 26.80,226.90 27.50,228.50 28.20,225.50 29.00,229.60 29.80,228.50 30.50,221.40 31.20,223.90 32.00,222.50 32.80,219.80 33.50,223.60 34.20,229.40 35.00,224.50 35.60,228.00 36.20,228.90 36.90,228.20 37.50,223.60 38.20,231.00 39.00,228.60 39.60,234.90 40.30,235.70 41.00,236.30 41.70,240.70 42.40,243.40 43.00,240.90 43.70,239.20 44.40,240.70 45.00,244.90 45.60,246.40 46.20,252.70 46.60,287.00 47.00,253.60 47.50,248.90 48.00,252.10 48.70,255.20 49.30,257.80 50.00,260.70 50.70,260.50 51.30,260.00 52.00,259.80 52.70,264.80 53.30,266.70 54.00,269.20 54.70,270.90 55.30,270.50 56.00,273.40 56.70,276.80 57.30,279.50 58.00,279.30 58.60,282.80 59.20,285.80 60.00,293.10 60.50,297.00 61.00,301.20 61.50,300.50 62.00,299.10 62.50,296.50 63.00,293.40 64.00,279.60 65.00,277.00 65.80,277.40 66.50,277.40 67.20,278.20 68.00,278.80 68.80,279.60 69.50,280.40 70.20,283.00 71.00,285.40 71.80,288.90 72.50,292.50 73.50,299.50 74.90,303.50 76.00,299.50 77.20,291.60 77.70,291.60 78.80,290.60 80.00,289.30 81.10,288.80 82.20,288.40 83.30,288.90 84.40,289.40 85.50,290.00 86.60,290.50 87.70,292.10 88.80,293.90 89.90,297.70 91.00,301.60 92.20,303.80 93.30,306.00 94.20,306.10 95.20,306.10 96.10,306.10 97.10,306.20 98.00,306.20 99.00,306.20 99.90,306.30 101.00,303.90 102.10,301.60 103.20,299.40 104.30,297.20 105.50,296.60 106.60,296.10 107.70,296.10 108.80,296.00 109.90,296.10 111.00,296.00 112.10,296.40 113.20,296.60 114.30,296.90 115.40,297.20 116.50,297.40 117.60,297.80 118.80,298.00 119.90,298.30 121.00,299.00 122.10,299.80 123.20,300.50 124.30,302.00 125.40,303.40 126.50,304.90 127.60,306.30 128.60,306.30 129.60,306.30 130.60,306.30 131.60,306.30 132.60,306.30 133.60,306.30 134.60,306.30 135.60,306.30 136.60,306.30 137.60,306.30 138.70,305.90 139.80,305.60 140.90,305.30 142.00,304.90 143.00,304.80 144.00,304.70 145.00,304.50 146.00,304.50 147.00,304.30 148.00,304.20 148.90,304.10 149.90,303.90 150.90,303.80 151.90,303.90 152.90,304.00 153.90,304.10 154.90,304.10 155.80,304.20 156.80,304.20 157.80,304.30 158.80,304.40 159.80,304.50 160.80,304.60 161.80,304.70 162.80,304.80 163.80,304.90 164.80,305.00 165.80,305.10 166.80,305.20 167.80,305.30 168.80,305.40 169.90,305.50 170.90,305.60 171.90,305.70 172.80,305.80 173.80,305.80 174.80,305.90 175.80,306.00 176.80,306.00 177.80,306.10 178.70,306.20 179.70,306.30" stroke="#EDB120" stroke-width="0.5" opacity="0.9"/>
<polyline points="20.60,274.20 21.20,266.20 22.00,262.90 22.80,252.30 23.50,255.20 24.20,247.90 25.00,250.60 25.80,240.90 26.50,244.40 27.20,235.80 28.00,233.00 28.80,230.50 29.50,232.40 30.10,225.80 30.70,222.90 31.30,232.90 31.90,229.10 32.50,225.00 33.00,224.80 33.50,225.80 34.20,229.00 35.00,221.90 35.60,235.60 36.20,229.70 36.90,228.20 37.50,236.20 38.20,236.30 39.00,238.70 39.60,236.80 40.30,239.60 41.00,234.70 41.70,235.40 42.40,243.80 43.00,239.50 43.70,248.30 44.40,248.20 44.90,244.40 45.50,245.30 46.00,247.30 46.70,246.60 47.30,248.70 48.00,254.90 48.70,252.40 49.30,252.60 50.00,261.10 50.70,260.30 51.30,265.20 52.00,267.60 52.70,267.40 53.30,268.40 54.00,268.90 54.70,275.10 55.30,274.40 56.00,273.20 56.70,276.60 57.30,279.90 58.00,283.20 58.60,285.90 59.20,291.30 60.00,293.80 60.50,297.90 61.00,302.10 61.50,300.80 62.00,300.20 62.80,284.00 63.10,253.80 63.40,290.10 63.80,266.20 64.40,270.00 65.20,269.00 66.00,267.80 67.00,267.30 67.90,266.40 68.90,265.70 70.00,267.80 71.00,270.10 72.20,277.00 73.30,289.90 74.40,303.00 75.20,302.00 76.00,301.00 76.90,293.20 77.70,285.50 78.80,282.10 80.00,278.90 81.10,277.80 82.20,276.70 83.30,276.10 84.40,275.60 85.50,277.20 86.60,278.70 87.70,280.90 88.80,289.90 89.90,295.50 91.00,301.00 92.20,303.80 93.30,306.50 94.20,306.60 95.20,306.60 96.10,306.60 97.10,306.70 98.00,306.70 99.00,306.70 99.90,306.80 101.00,303.20 102.10,301.00 103.20,298.80 104.30,298.00 105.50,297.40 106.60,296.50 107.70,296.50 108.80,296.60 109.90,296.50 111.00,296.60 112.10,296.60 113.20,296.60 114.30,296.60 115.40,296.50 116.50,296.90 117.60,297.10 118.80,297.40 119.90,297.60 121.00,298.50 122.10,299.10 123.20,299.90 124.30,302.10 125.40,304.30 126.50,305.60 127.60,306.80 128.60,306.80 129.60,306.80 130.60,306.80 131.60,306.80 132.60,306.80 133.60,306.80 134.60,306.80 135.60,306.80 136.60,306.80 137.60,306.80 138.70,306.40 139.80,306.10 140.90,305.80 142.00,305.40 143.10,305.30 144.30,305.10 145.40,304.90 146.50,304.80 147.40,304.60 148.40,304.50 149.30,304.40 150.30,304.30 151.20,304.10 152.20,304.00 153.10,303.90 154.10,304.00 155.00,304.10 156.00,304.30 156.90,304.40 157.90,304.50 158.80,304.60 159.80,304.80 160.70,304.90 161.70,305.00 162.60,305.00 163.60,305.10 164.50,305.30 165.50,305.30 166.40,305.40 167.40,305.60 168.40,305.70 169.40,305.90 170.40,306.00 171.40,306.20 172.30,306.30 173.30,306.50 174.30,306.60 175.30,306.80 176.40,306.80 177.50,306.90 178.60,306.90 179.70,307.00" stroke="#7E2F8E" stroke-width="0.5" opacity="0.9"/>
</g>
<rect x="20.5" y="220.5" width="160.1" height="86.89999999999998" fill="none" stroke="#555" stroke-width="0.5"/>
<line x1="27.17" y1="307.4" x2="27.17" y2="306.09999999999997" stroke="#555" stroke-width="0.5"/>
<line x1="27.17" y1="220.5" x2="27.17" y2="221.8" stroke="#555" stroke-width="0.5"/>
<g transform="translate(27.17,312.80) scale(0.1)"><text text-anchor="middle" font-size="35.0" class="tk">500</text></g>
<line x1="65.53" y1="307.4" x2="65.53" y2="306.09999999999997" stroke="#555" stroke-width="0.5"/>
<line x1="65.53" y1="220.5" x2="65.53" y2="221.8" stroke="#555" stroke-width="0.5"/>
<g transform="translate(65.53,312.80) scale(0.1)"><text text-anchor="middle" font-size="35.0" class="tk">1000</text></g>
<line x1="103.89" y1="307.4" x2="103.89" y2="306.09999999999997" stroke="#555" stroke-width="0.5"/>
<line x1="103.89" y1="220.5" x2="103.89" y2="221.8" stroke="#555" stroke-width="0.5"/>
<g transform="translate(103.89,312.80) scale(0.1)"><text text-anchor="middle" font-size="35.0" class="tk">1500</text></g>
<line x1="142.24" y1="307.4" x2="142.24" y2="306.09999999999997" stroke="#555" stroke-width="0.5"/>
<line x1="142.24" y1="220.5" x2="142.24" y2="221.8" stroke="#555" stroke-width="0.5"/>
<g transform="translate(142.24,312.80) scale(0.1)"><text text-anchor="middle" font-size="35.0" class="tk">2000</text></g>
<line x1="180.60" y1="307.4" x2="180.60" y2="306.09999999999997" stroke="#555" stroke-width="0.5"/>
<line x1="180.60" y1="220.5" x2="180.60" y2="221.8" stroke="#555" stroke-width="0.5"/>
<g transform="translate(180.60,312.80) scale(0.1)"><text text-anchor="middle" font-size="35.0" class="tk">2500</text></g>
<line x1="20.5" y1="299.60" x2="21.8" y2="299.60" stroke="#555" stroke-width="0.5"/>
<line x1="180.6" y1="299.60" x2="179.29999999999998" y2="299.60" stroke="#555" stroke-width="0.5"/>
<g transform="translate(18.80,301.80) scale(0.1)"><text text-anchor="end" font-size="37.0" class="tk">0.01</text></g>
<line x1="20.5" y1="291.80" x2="21.8" y2="291.80" stroke="#555" stroke-width="0.5"/>
<line x1="180.6" y1="291.80" x2="179.29999999999998" y2="291.80" stroke="#555" stroke-width="0.5"/>
<g transform="translate(18.80,294.00) scale(0.1)"><text text-anchor="end" font-size="37.0" class="tk">0.02</text></g>
<line x1="20.5" y1="284.00" x2="21.8" y2="284.00" stroke="#555" stroke-width="0.5"/>
<line x1="180.6" y1="284.00" x2="179.29999999999998" y2="284.00" stroke="#555" stroke-width="0.5"/>
<g transform="translate(18.80,286.20) scale(0.1)"><text text-anchor="end" font-size="37.0" class="tk">0.03</text></g>
<line x1="20.5" y1="276.20" x2="21.8" y2="276.20" stroke="#555" stroke-width="0.5"/>
<line x1="180.6" y1="276.20" x2="179.29999999999998" y2="276.20" stroke="#555" stroke-width="0.5"/>
<g transform="translate(18.80,278.40) scale(0.1)"><text text-anchor="end" font-size="37.0" class="tk">0.04</text></g>
<line x1="20.5" y1="268.40" x2="21.8" y2="268.40" stroke="#555" stroke-width="0.5"/>
<line x1="180.6" y1="268.40" x2="179.29999999999998" y2="268.40" stroke="#555" stroke-width="0.5"/>
<g transform="translate(18.80,270.60) scale(0.1)"><text text-anchor="end" font-size="37.0" class="tk">0.05</text></g>
<line x1="20.5" y1="260.60" x2="21.8" y2="260.60" stroke="#555" stroke-width="0.5"/>
<line x1="180.6" y1="260.60" x2="179.29999999999998" y2="260.60" stroke="#555" stroke-width="0.5"/>
<g transform="translate(18.80,262.80) scale(0.1)"><text text-anchor="end" font-size="37.0" class="tk">0.06</text></g>
<line x1="20.5" y1="252.80" x2="21.8" y2="252.80" stroke="#555" stroke-width="0.5"/>
<line x1="180.6" y1="252.80" x2="179.29999999999998" y2="252.80" stroke="#555" stroke-width="0.5"/>
<g transform="translate(18.80,255.00) scale(0.1)"><text text-anchor="end" font-size="37.0" class="tk">0.07</text></g>
<line x1="20.5" y1="245.00" x2="21.8" y2="245.00" stroke="#555" stroke-width="0.5"/>
<line x1="180.6" y1="245.00" x2="179.29999999999998" y2="245.00" stroke="#555" stroke-width="0.5"/>
<g transform="translate(18.80,247.20) scale(0.1)"><text text-anchor="end" font-size="37.0" class="tk">0.08</text></g>
<line x1="20.5" y1="237.20" x2="21.8" y2="237.20" stroke="#555" stroke-width="0.5"/>
<line x1="180.6" y1="237.20" x2="179.29999999999998" y2="237.20" stroke="#555" stroke-width="0.5"/>
<g transform="translate(18.80,239.40) scale(0.1)"><text text-anchor="end" font-size="37.0" class="tk">0.09</text></g>
<line x1="20.5" y1="229.40" x2="21.8" y2="229.40" stroke="#555" stroke-width="0.5"/>
<line x1="180.6" y1="229.40" x2="179.29999999999998" y2="229.40" stroke="#555" stroke-width="0.5"/>
<g transform="translate(18.80,231.60) scale(0.1)"><text text-anchor="end" font-size="37.0" class="tk">0.1</text></g>
<line x1="20.5" y1="221.60" x2="21.8" y2="221.60" stroke="#555" stroke-width="0.5"/>
<line x1="180.6" y1="221.60" x2="179.29999999999998" y2="221.60" stroke="#555" stroke-width="0.5"/>
<g transform="translate(18.80,223.80) scale(0.1)"><text text-anchor="end" font-size="37.0" class="tk">0.11</text></g>
<g transform="translate(100.55,218.90) scale(0.1)"><text text-anchor="middle" font-size="35.0" font-weight="bold">EIG1 of ROI of target (Concrete)</text></g>
<g transform="translate(100.55,317.70) scale(0.1)"><text text-anchor="middle" font-size="35.0" class="tk">wavelength (λ) nm</text></g>
<g transform="translate(10.10,263.95) rotate(-90) scale(0.1)"><text text-anchor="middle" font-size="37.5" class="tk">Value</text></g>
<rect x="88.2" y="224.2" width="89.2" height="20.4" fill="#fff" stroke="#777" stroke-width="0.5"/>
<line x1="89.6" y1="227.25" x2="102.0" y2="227.25" stroke="#0072BD" stroke-width="0.5" opacity="0.6"/>
<g transform="translate(102.70,228.55) scale(0.1)"><text text-anchor="start" font-size="36.0" class="lg">CHIMES EIG1 TIAEM:NRMSE wrt GT:28%</text></g>
<line x1="89.6" y1="231.95" x2="102.0" y2="231.95" stroke="#D95319" stroke-width="0.5" opacity="0.6"/>
<g transform="translate(102.70,233.25) scale(0.1)"><text text-anchor="start" font-size="36.0" class="lg">CHIMES EIG1 BOAEM:NRMSE wrt GT:24.7%</text></g>
<line x1="89.6" y1="236.65" x2="102.0" y2="236.65" stroke="#EDB120" stroke-width="0.5" opacity="0.6"/>
<g transform="translate(102.70,237.95) scale(0.1)"><text text-anchor="start" font-size="36.0" class="lg">CameoSIM EIG1 :NRMSE wrt GT:25.6%</text></g>
<line x1="89.6" y1="241.35" x2="102.0" y2="241.35" stroke="#7E2F8E" stroke-width="0.5" opacity="0.6"/>
<g transform="translate(102.70,242.65) scale(0.1)"><text text-anchor="start" font-size="36.0" class="lg">Ground Truth (GT)</text></g>
<clipPath id="cp8"><rect x="197.7" y="220.6" width="160.10000000000002" height="86.79999999999998"/></clipPath>
<g clip-path="url(#cp8)" fill="none" stroke-linejoin="round">
<polyline points="197.64,250.51 198.05,239.55 198.74,229.96 200.11,223.11 201.21,221.05 202.16,221.74 202.85,229.96 203.53,236.81 204.22,245.03 204.90,253.25 205.59,262.84 210.02,298.90 212.82,297.50 215.62,294.69 218.43,291.89 221.23,275.07 224.03,258.25 226.84,266.66 229.64,269.46 232.45,268.06 235.25,275.07 238.05,283.48 240.86,289.09 243.66,277.87 246.46,282.08 249.27,284.88 252.07,291.89 254.87,297.50 257.68,286.28 260.48,287.69 263.28,289.09 266.09,297.50 268.89,303.10 277.19,305.15 280.87,303.31 284.54,301.47 290.06,301.10 295.57,301.84 301.09,304.23 303.85,306.07 313.96,306.62 323.15,306.07 332.34,306.07 341.53,306.25 352.56,306.62" stroke="#0072BD" stroke-width="0.5" opacity="0.85"/>
<polyline points="197.40,283.48 200.21,286.28 203.01,283.48 205.81,275.07 208.62,269.46 211.42,265.26 214.22,265.26 217.03,268.06 219.83,275.07 222.63,286.28 225.44,290.49 228.24,291.89 231.04,293.29 233.85,294.69 236.65,293.29 239.45,290.49 240.86,289.09 241.50,250.00 243.00,244.00 246.00,243.50 249.00,245.00 251.00,252.00 252.50,270.00 254.00,290.00 255.00,282.00 256.00,275.00 258.00,264.00 261.00,262.00 264.00,263.00 266.00,270.00 268.00,290.00 269.50,305.00 275.35,306.07 279.95,297.79 282.71,293.20 286.38,291.36 290.06,290.81 293.74,291.91 297.41,294.12 301.09,297.79 303.85,306.07 313.96,306.99 324.99,304.23 330.50,303.31 337.85,303.68 347.04,304.78 354.40,306.07 358.07,306.62" stroke="#D95319" stroke-width="0.5" opacity="0.85"/>
<polyline points="197.40,291.89 198.80,286.28 200.21,296.10 201.61,289.09 203.01,297.50 204.41,287.69 205.81,293.29 207.21,284.88 208.62,298.90 210.02,289.09 211.42,294.69 212.82,286.28 214.22,300.30 215.62,289.09 217.03,294.69 218.43,275.07 219.83,241.43 220.67,289.09 221.79,261.05 222.91,300.30 224.03,283.48 225.16,252.64 226.28,297.50 227.40,266.66 228.52,289.09 229.64,275.07 230.76,300.30 231.88,258.25 233.01,286.28 234.13,247.03 235.25,294.69 236.37,241.43 237.49,275.07 238.61,291.89 238.00,240.00 239.00,232.00 240.00,250.00 241.00,238.00 242.00,252.00 243.00,246.00 246.00,249.00 248.00,251.00 250.00,255.00 252.00,272.00 253.00,290.00 254.50,300.00 255.50,280.00 257.00,258.00 259.00,254.00 261.00,256.00 263.00,253.00 265.00,262.00 267.00,280.00 268.50,300.00 275.35,305.15 277.19,295.96 279.03,283.09 280.87,272.06 281.79,271.14 284.54,274.82 288.22,276.65 291.90,278.49 295.57,280.33 299.25,282.17 301.09,283.09 302.01,284.93 302.93,305.15 313.96,306.99 317.63,303.31 320.39,301.47 323.15,298.71 326.82,295.96 330.50,294.67 336.01,296.88 341.53,299.63 347.04,302.39 352.56,304.78 355.32,306.07 358.07,306.62" stroke="#EDB120" stroke-width="0.5" opacity="0.85"/>
<polyline points="197.40,303.10 198.80,291.89 200.21,298.90 201.61,286.28 203.01,297.50 204.41,289.09 205.81,301.70 207.21,284.88 208.62,294.69 210.02,283.48 211.42,300.30 212.82,287.69 214.22,293.29 215.62,282.08 217.03,297.50 218.43,286.28 219.83,303.10 221.23,280.68 222.63,291.89 224.03,279.27 225.44,298.90 226.84,283.48 228.24,289.09 229.64,277.87 231.04,294.69 232.45,282.08 233.85,286.28 235.25,275.07 236.65,291.89 238.05,230.21 238.89,283.48 240.01,252.64 240.86,275.07 241.00,262.00 241.50,246.00 243.00,241.00 246.00,240.50 249.00,240.00 250.50,243.00 252.00,260.00 253.00,285.00 254.50,295.00 255.50,275.00 257.00,256.00 258.50,248.00 260.00,243.70 261.50,248.00 263.00,246.00 264.50,252.00 266.00,265.00 268.00,290.00 269.50,305.00 275.35,306.07 279.03,295.96 280.87,288.60 283.62,285.85 286.38,284.93 290.06,284.01 293.74,284.93 297.41,286.76 300.17,290.44 302.01,295.96 303.85,306.07 313.96,306.99 321.31,305.15 324.99,303.31 330.50,301.84 336.01,302.39 341.53,303.31 348.88,304.78 354.40,306.07 358.07,306.62" stroke="#7E2F8E" stroke-width="0.5" opacity="0.85"/>
</g>
<rect x="197.7" y="220.6" width="160.10000000000002" height="86.79999999999998" fill="none" stroke="#555" stroke-width="0.5"/>
<line x1="204.37" y1="307.4" x2="204.37" y2="306.09999999999997" stroke="#555" stroke-width="0.5"/>
<line x1="204.37" y1="220.6" x2="204.37" y2="221.9" stroke="#555" stroke-width="0.5"/>
<g transform="translate(204.37,312.80) scale(0.1)"><text text-anchor="middle" font-size="35.0" class="tk">500</text></g>
<line x1="242.73" y1="307.4" x2="242.73" y2="306.09999999999997" stroke="#555" stroke-width="0.5"/>
<line x1="242.73" y1="220.6" x2="242.73" y2="221.9" stroke="#555" stroke-width="0.5"/>
<g transform="translate(242.73,312.80) scale(0.1)"><text text-anchor="middle" font-size="35.0" class="tk">1000</text></g>
<line x1="281.09" y1="307.4" x2="281.09" y2="306.09999999999997" stroke="#555" stroke-width="0.5"/>
<line x1="281.09" y1="220.6" x2="281.09" y2="221.9" stroke="#555" stroke-width="0.5"/>
<g transform="translate(281.09,312.80) scale(0.1)"><text text-anchor="middle" font-size="35.0" class="tk">1500</text></g>
<line x1="319.44" y1="307.4" x2="319.44" y2="306.09999999999997" stroke="#555" stroke-width="0.5"/>
<line x1="319.44" y1="220.6" x2="319.44" y2="221.9" stroke="#555" stroke-width="0.5"/>
<g transform="translate(319.44,312.80) scale(0.1)"><text text-anchor="middle" font-size="35.0" class="tk">2000</text></g>
<line x1="357.80" y1="307.4" x2="357.80" y2="306.09999999999997" stroke="#555" stroke-width="0.5"/>
<line x1="357.80" y1="220.6" x2="357.80" y2="221.9" stroke="#555" stroke-width="0.5"/>
<g transform="translate(357.80,312.80) scale(0.1)"><text text-anchor="middle" font-size="35.0" class="tk">2500</text></g>
<line x1="197.7" y1="297.04" x2="199.0" y2="297.04" stroke="#555" stroke-width="0.5"/>
<line x1="357.8" y1="297.04" x2="356.5" y2="297.04" stroke="#555" stroke-width="0.5"/>
<g transform="translate(196.00,299.24) scale(0.1)"><text text-anchor="end" font-size="37.0" class="tk">0.02</text></g>
<line x1="197.7" y1="286.68" x2="199.0" y2="286.68" stroke="#555" stroke-width="0.5"/>
<line x1="357.8" y1="286.68" x2="356.5" y2="286.68" stroke="#555" stroke-width="0.5"/>
<g transform="translate(196.00,288.88) scale(0.1)"><text text-anchor="end" font-size="37.0" class="tk">0.04</text></g>
<line x1="197.7" y1="276.32" x2="199.0" y2="276.32" stroke="#555" stroke-width="0.5"/>
<line x1="357.8" y1="276.32" x2="356.5" y2="276.32" stroke="#555" stroke-width="0.5"/>
<g transform="translate(196.00,278.52) scale(0.1)"><text text-anchor="end" font-size="37.0" class="tk">0.06</text></g>
<line x1="197.7" y1="265.96" x2="199.0" y2="265.96" stroke="#555" stroke-width="0.5"/>
<line x1="357.8" y1="265.96" x2="356.5" y2="265.96" stroke="#555" stroke-width="0.5"/>
<g transform="translate(196.00,268.16) scale(0.1)"><text text-anchor="end" font-size="37.0" class="tk">0.08</text></g>
<line x1="197.7" y1="255.60" x2="199.0" y2="255.60" stroke="#555" stroke-width="0.5"/>
<line x1="357.8" y1="255.60" x2="356.5" y2="255.60" stroke="#555" stroke-width="0.5"/>
<g transform="translate(196.00,257.80) scale(0.1)"><text text-anchor="end" font-size="37.0" class="tk">0.1</text></g>
<line x1="197.7" y1="245.24" x2="199.0" y2="245.24" stroke="#555" stroke-width="0.5"/>
<line x1="357.8" y1="245.24" x2="356.5" y2="245.24" stroke="#555" stroke-width="0.5"/>
<g transform="translate(196.00,247.44) scale(0.1)"><text text-anchor="end" font-size="37.0" class="tk">0.12</text></g>
<line x1="197.7" y1="234.88" x2="199.0" y2="234.88" stroke="#555" stroke-width="0.5"/>
<line x1="357.8" y1="234.88" x2="356.5" y2="234.88" stroke="#555" stroke-width="0.5"/>
<g transform="translate(196.00,237.08) scale(0.1)"><text text-anchor="end" font-size="37.0" class="tk">0.14</text></g>
<line x1="197.7" y1="224.52" x2="199.0" y2="224.52" stroke="#555" stroke-width="0.5"/>
<line x1="357.8" y1="224.52" x2="356.5" y2="224.52" stroke="#555" stroke-width="0.5"/>
<g transform="translate(196.00,226.72) scale(0.1)"><text text-anchor="end" font-size="37.0" class="tk">0.16</text></g>
<g transform="translate(277.75,219.00) scale(0.1)"><text text-anchor="middle" font-size="35.0" font-weight="bold">EIG2 of ROI of target (Concrete)</text></g>
<g transform="translate(277.75,317.70) scale(0.1)"><text text-anchor="middle" font-size="35.0" class="tk">wavelength (λ) nm</text></g>
<g transform="translate(187.30,264.00) rotate(-90) scale(0.1)"><text text-anchor="middle" font-size="37.5" class="tk">Value</text></g>
<rect x="264.2" y="224.2" width="90.2" height="20.4" fill="#fff" stroke="#777" stroke-width="0.5"/>
<line x1="265.6" y1="227.25" x2="278.0" y2="227.25" stroke="#0072BD" stroke-width="0.5" opacity="0.6"/>
<g transform="translate(278.70,228.55) scale(0.1)"><text text-anchor="start" font-size="36.0" class="lg">CHIMES EIG2 TIAEM:NRMSE wrt GT:138.7%</text></g>
<line x1="265.6" y1="231.95" x2="278.0" y2="231.95" stroke="#D95319" stroke-width="0.5" opacity="0.6"/>
<g transform="translate(278.70,233.25) scale(0.1)"><text text-anchor="start" font-size="36.0" class="lg">CHIMES EIG2 BOAEM:NRMSE wrt GT:69.3%</text></g>
<line x1="265.6" y1="236.65" x2="278.0" y2="236.65" stroke="#EDB120" stroke-width="0.5" opacity="0.6"/>
<g transform="translate(278.70,237.95) scale(0.1)"><text text-anchor="start" font-size="36.0" class="lg">CameoSIM EIG2 :NRMSE wrt GT:104.3%</text></g>
<line x1="265.6" y1="241.35" x2="278.0" y2="241.35" stroke="#7E2F8E" stroke-width="0.5" opacity="0.6"/>
<g transform="translate(278.70,242.65) scale(0.1)"><text text-anchor="start" font-size="36.0" class="lg">Ground Truth (GT)</text></g>
<clipPath id="cp9"><rect x="384.4" y="220.7" width="159.80000000000007" height="86.80000000000001"/></clipPath>
<g clip-path="url(#cp9)" fill="none" stroke-linejoin="round">
<polyline points="384.47,292.40 384.74,291.03 386.79,292.40 388.85,297.88 390.90,303.36 392.96,304.73 394.33,297.88 395.70,292.40 397.07,290.34 399.12,289.66 401.18,289.66 403.23,288.97 404.60,289.66 405.97,293.77 407.34,300.62 408.71,304.73 410.77,303.36 413.51,299.25 414.88,298.56 416.25,300.62 418.99,301.99 421.73,300.62 424.47,303.36 427.21,306.10 429.07,293.61 432.29,294.68 435.51,296.82 437.01,303.26 438.73,304.33 440.88,302.19 443.02,300.04 446.24,298.54 449.46,300.04 451.61,302.19 453.75,305.41 464.48,306.48 468.77,305.41 473.06,303.91 477.36,303.91 483.79,304.33 489.16,306.48 492.38,306.91 513.84,306.48 546.03,306.91" stroke="#0072BD" stroke-width="0.5" opacity="0.85"/>
<polyline points="384.47,288.29 384.74,285.55 386.11,281.44 387.48,280.07 388.85,280.75 390.22,284.18 391.59,292.40 392.96,300.62 394.33,304.73 395.70,306.10 398.44,306.10 401.18,304.73 403.92,300.62 406.66,296.51 408.03,293.77 409.40,291.71 411.45,291.03 413.51,290.34 414.88,288.97 416.25,286.92 417.62,292.40 418.99,288.29 420.36,293.77 421.73,289.66 423.10,296.51 425.84,299.25 427.89,301.99 429.07,303.26 432.29,304.33 436.58,305.41 441.95,303.26 445.17,304.33 448.39,304.33 451.61,305.41 453.75,306.48 464.48,306.91 468.77,303.26 473.06,301.12 477.36,300.47 481.65,301.76 485.94,304.33 489.16,306.05 492.38,306.91 505.25,306.48 509.55,304.76 518.13,304.76 528.86,306.48 535.30,306.91 546.03,306.91" stroke="#D95319" stroke-width="0.5" opacity="0.85"/>
<polyline points="384.47,294.45 384.74,293.77 387.48,295.14 390.22,297.88 392.96,301.30 395.70,301.99 398.44,300.62 401.18,301.99 403.92,303.36 406.66,299.25 409.40,296.51 412.14,292.40 414.88,289.66 417.62,291.03 420.36,288.29 423.10,292.40 425.84,296.51 427.89,300.62 429.07,292.53 432.29,294.03 435.51,300.04 437.66,304.33 440.88,304.33 449.46,305.41 453.75,306.05 465.55,304.33 468.77,300.04 473.06,297.90 477.36,296.82 481.65,297.90 485.94,301.12 489.16,305.41 492.38,306.91 505.25,305.41 509.55,303.91 513.84,302.83 520.27,304.33 528.86,306.05 535.30,306.91 546.03,306.91" stroke="#EDB120" stroke-width="0.5" opacity="0.85"/>
<polyline points="384.47,306.10 384.74,304.73 386.11,300.62 387.48,303.36 389.53,306.10 391.59,301.99 392.96,304.73 394.33,306.10 395.70,303.36 397.07,306.78 398.44,304.73 399.81,306.10 401.18,302.67 402.55,306.10 403.92,304.04 405.29,306.78 406.66,303.36 408.03,306.10 409.40,301.99 410.77,306.10 412.14,300.62 413.51,306.10 414.88,299.25 416.25,304.73 416.93,289.66 417.62,306.10 418.30,285.55 418.99,304.73 419.67,292.40 420.36,306.10 421.04,284.18 421.73,303.36 422.41,288.29 423.10,306.10 423.78,282.81 424.47,299.25 425.15,286.92 425.84,306.10 428.00,305.41 429.07,302.19 431.22,304.33 434.44,303.26 436.58,305.41 439.80,306.05 447.31,303.26 449.46,302.19 452.68,305.41 464.48,306.48 468.77,306.05 477.36,305.41 485.94,306.05 492.38,306.91 546.03,306.91" stroke="#7E2F8E" stroke-width="0.5" opacity="0.85"/>
<polygon points="426.40,307.00 426.60,292.00 426.90,268.00 427.30,250.00 427.60,236.00 427.80,221.00 428.00,220.60 428.20,236.00 428.40,250.00 428.70,268.00 429.00,292.00 429.20,307.00" fill="#7E2F8E" stroke="#7E2F8E" stroke-width="0.2" opacity="0.75"/>
<polygon points="426.50,307.00 426.80,285.00 427.20,262.00 427.90,255.00 428.50,262.00 428.90,285.00 429.10,307.00" fill="#6a2278" stroke="#6a2278" stroke-width="0.2" opacity="0.9"/>
</g>
<rect x="384.4" y="220.7" width="159.80000000000007" height="86.80000000000001" fill="none" stroke="#555" stroke-width="0.5"/>
<line x1="391.06" y1="307.5" x2="391.06" y2="306.2" stroke="#555" stroke-width="0.5"/>
<line x1="391.06" y1="220.7" x2="391.06" y2="222.0" stroke="#555" stroke-width="0.5"/>
<g transform="translate(391.06,312.90) scale(0.1)"><text text-anchor="middle" font-size="35.0" class="tk">500</text></g>
<line x1="429.35" y1="307.5" x2="429.35" y2="306.2" stroke="#555" stroke-width="0.5"/>
<line x1="429.35" y1="220.7" x2="429.35" y2="222.0" stroke="#555" stroke-width="0.5"/>
<g transform="translate(429.35,312.90) scale(0.1)"><text text-anchor="middle" font-size="35.0" class="tk">1000</text></g>
<line x1="467.63" y1="307.5" x2="467.63" y2="306.2" stroke="#555" stroke-width="0.5"/>
<line x1="467.63" y1="220.7" x2="467.63" y2="222.0" stroke="#555" stroke-width="0.5"/>
<g transform="translate(467.63,312.90) scale(0.1)"><text text-anchor="middle" font-size="35.0" class="tk">1500</text></g>
<line x1="505.92" y1="307.5" x2="505.92" y2="306.2" stroke="#555" stroke-width="0.5"/>
<line x1="505.92" y1="220.7" x2="505.92" y2="222.0" stroke="#555" stroke-width="0.5"/>
<g transform="translate(505.92,312.90) scale(0.1)"><text text-anchor="middle" font-size="35.0" class="tk">2000</text></g>
<line x1="544.20" y1="307.5" x2="544.20" y2="306.2" stroke="#555" stroke-width="0.5"/>
<line x1="544.20" y1="220.7" x2="544.20" y2="222.0" stroke="#555" stroke-width="0.5"/>
<g transform="translate(544.20,312.90) scale(0.1)"><text text-anchor="middle" font-size="35.0" class="tk">2500</text></g>
<line x1="384.4" y1="298.80" x2="385.7" y2="298.80" stroke="#555" stroke-width="0.5"/>
<line x1="544.2" y1="298.80" x2="542.9000000000001" y2="298.80" stroke="#555" stroke-width="0.5"/>
<g transform="translate(382.70,301.00) scale(0.1)"><text text-anchor="end" font-size="37.0" class="tk">0.05</text></g>
<line x1="384.4" y1="290.10" x2="385.7" y2="290.10" stroke="#555" stroke-width="0.5"/>
<line x1="544.2" y1="290.10" x2="542.9000000000001" y2="290.10" stroke="#555" stroke-width="0.5"/>
<g transform="translate(382.70,292.30) scale(0.1)"><text text-anchor="end" font-size="37.0" class="tk">0.1</text></g>
<line x1="384.4" y1="281.40" x2="385.7" y2="281.40" stroke="#555" stroke-width="0.5"/>
<line x1="544.2" y1="281.40" x2="542.9000000000001" y2="281.40" stroke="#555" stroke-width="0.5"/>
<g transform="translate(382.70,283.60) scale(0.1)"><text text-anchor="end" font-size="37.0" class="tk">0.15</text></g>
<line x1="384.4" y1="272.70" x2="385.7" y2="272.70" stroke="#555" stroke-width="0.5"/>
<line x1="544.2" y1="272.70" x2="542.9000000000001" y2="272.70" stroke="#555" stroke-width="0.5"/>
<g transform="translate(382.70,274.90) scale(0.1)"><text text-anchor="end" font-size="37.0" class="tk">0.2</text></g>
<line x1="384.4" y1="264.00" x2="385.7" y2="264.00" stroke="#555" stroke-width="0.5"/>
<line x1="544.2" y1="264.00" x2="542.9000000000001" y2="264.00" stroke="#555" stroke-width="0.5"/>
<g transform="translate(382.70,266.20) scale(0.1)"><text text-anchor="end" font-size="37.0" class="tk">0.25</text></g>
<line x1="384.4" y1="255.30" x2="385.7" y2="255.30" stroke="#555" stroke-width="0.5"/>
<line x1="544.2" y1="255.30" x2="542.9000000000001" y2="255.30" stroke="#555" stroke-width="0.5"/>
<g transform="translate(382.70,257.50) scale(0.1)"><text text-anchor="end" font-size="37.0" class="tk">0.3</text></g>
<line x1="384.4" y1="246.60" x2="385.7" y2="246.60" stroke="#555" stroke-width="0.5"/>
<line x1="544.2" y1="246.60" x2="542.9000000000001" y2="246.60" stroke="#555" stroke-width="0.5"/>
<g transform="translate(382.70,248.80) scale(0.1)"><text text-anchor="end" font-size="37.0" class="tk">0.35</text></g>
<line x1="384.4" y1="237.90" x2="385.7" y2="237.90" stroke="#555" stroke-width="0.5"/>
<line x1="544.2" y1="237.90" x2="542.9000000000001" y2="237.90" stroke="#555" stroke-width="0.5"/>
<g transform="translate(382.70,240.10) scale(0.1)"><text text-anchor="end" font-size="37.0" class="tk">0.4</text></g>
<line x1="384.4" y1="229.20" x2="385.7" y2="229.20" stroke="#555" stroke-width="0.5"/>
<line x1="544.2" y1="229.20" x2="542.9000000000001" y2="229.20" stroke="#555" stroke-width="0.5"/>
<g transform="translate(382.70,231.40) scale(0.1)"><text text-anchor="end" font-size="37.0" class="tk">0.45</text></g>
<g transform="translate(464.30,219.10) scale(0.1)"><text text-anchor="middle" font-size="35.0" font-weight="bold">EIG3 of ROI of target (Concrete)</text></g>
<g transform="translate(464.30,317.80) scale(0.1)"><text text-anchor="middle" font-size="35.0" class="tk">wavelength (λ) nm</text></g>
<g transform="translate(374.00,264.10) rotate(-90) scale(0.1)"><text text-anchor="middle" font-size="37.5" class="tk">Value</text></g>
<rect x="451.1" y="224.2" width="90.1" height="20.6" fill="#fff" stroke="#777" stroke-width="0.5"/>
<line x1="452.5" y1="227.25" x2="463.8" y2="227.25" stroke="#0072BD" stroke-width="0.5" opacity="0.6"/>
<g transform="translate(464.70,228.55) scale(0.1)"><text text-anchor="start" font-size="36.0" class="lg">CHIMES EIG3 class:NRMSE wrt GT:116%</text></g>
<line x1="452.5" y1="231.95" x2="463.8" y2="231.95" stroke="#D95319" stroke-width="0.5" opacity="0.6"/>
<g transform="translate(464.70,233.25) scale(0.1)"><text text-anchor="start" font-size="36.0" class="lg">CHIMES EIG3 unclass:NRMSE wrt GT:123.4%</text></g>
<line x1="452.5" y1="236.65" x2="463.8" y2="236.65" stroke="#EDB120" stroke-width="0.5" opacity="0.6"/>
<g transform="translate(464.70,237.95) scale(0.1)"><text text-anchor="start" font-size="36.0" class="lg">CameoSIM EIG3 :NRMSE wrt GT:110%</text></g>
<line x1="452.5" y1="241.35" x2="463.8" y2="241.35" stroke="#7E2F8E" stroke-width="0.5" opacity="0.6"/>
<g transform="translate(464.70,242.65) scale(0.1)"><text text-anchor="start" font-size="36.0" class="lg">Ground Truth (GT)</text></g>
</g>
</svg></body></html>
